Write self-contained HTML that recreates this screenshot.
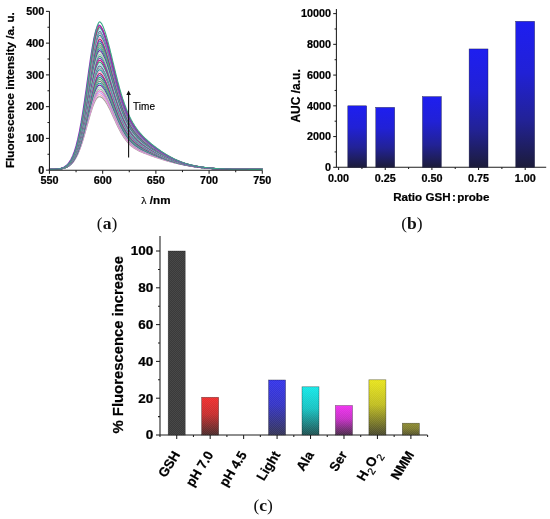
<!DOCTYPE html>
<html><head><meta charset="utf-8"><title>Figure</title>
<style>html,body{margin:0;padding:0;background:#fff;width:550px;height:519px;overflow:hidden}
body{position:relative;-webkit-font-smoothing:antialiased;font-family:"Liberation Sans", sans-serif}
.bt text, text.bt{stroke:#000;stroke-width:0.22px}</style></head>
<body>
<svg width="550" height="519" viewBox="0 0 550 519" style="position:absolute;left:0;top:0;will-change:transform;filter:blur(0.3px)">
<defs>
<pattern id="hatch" width="2" height="2" patternUnits="userSpaceOnUse"><rect x="0" y="0" width="1" height="1" fill="rgba(255,255,255,0.07)"/><rect x="1" y="1" width="1" height="1" fill="rgba(255,255,255,0.07)"/></pattern>
<linearGradient id="gb" x1="0" y1="0" x2="0" y2="1"><stop offset="0" stop-color="#1e1ef0"/><stop offset="0.35" stop-color="#2121d6"/><stop offset="0.68" stop-color="#222296"/><stop offset="1" stop-color="#1c1c3a"/></linearGradient>
<linearGradient id="gr" x1="0" y1="0" x2="0" y2="1"><stop offset="0" stop-color="#f02c2c"/><stop offset="0.45" stop-color="#c62c2c"/><stop offset="1" stop-color="#4a2a2a"/></linearGradient>
<linearGradient id="gbl" x1="0" y1="0" x2="0" y2="1"><stop offset="0" stop-color="#3434ea"/><stop offset="0.45" stop-color="#3434c5"/><stop offset="1" stop-color="#343456"/></linearGradient>
<linearGradient id="gc" x1="0" y1="0" x2="0" y2="1"><stop offset="0" stop-color="#14e8e8"/><stop offset="0.45" stop-color="#16c2c2"/><stop offset="1" stop-color="#1e5050"/></linearGradient>
<linearGradient id="gm" x1="0" y1="0" x2="0" y2="1"><stop offset="0" stop-color="#f030f0"/><stop offset="0.45" stop-color="#c62ec6"/><stop offset="1" stop-color="#4a2a4a"/></linearGradient>
<linearGradient id="gy" x1="0" y1="0" x2="0" y2="1"><stop offset="0" stop-color="#e8e41c"/><stop offset="0.45" stop-color="#c0bd20"/><stop offset="1" stop-color="#48482c"/></linearGradient>
<linearGradient id="go" x1="0" y1="0" x2="0" y2="1"><stop offset="0" stop-color="#8c8a30"/><stop offset="0.45" stop-color="#7e7c2f"/><stop offset="1" stop-color="#54522c"/></linearGradient>
</defs>
<rect width="550" height="519" fill="#fff"/>
<g fill="none" stroke-width="1.1" stroke-linejoin="round">
<path d="M49.7,169.4 50.6,169.4 51.4,169.4 52.3,169.3 53.1,169.3 54.0,169.3 54.8,169.3 55.7,169.3 56.5,169.2 57.4,169.2 58.2,169.1 59.1,169.1 59.9,169.0 60.8,168.9 61.6,168.7 62.5,168.6 63.3,168.4 64.2,168.2 65.0,167.9 65.9,167.6 66.7,167.3 67.6,166.9 68.4,166.4 69.3,165.8 70.1,165.2 71.0,164.4 71.8,163.6 72.7,162.6 73.5,161.6 74.4,160.4 75.2,159.0 76.1,157.6 76.9,155.9 77.8,154.2 78.6,152.2 79.5,150.1 80.3,147.9 81.2,145.5 82.0,143.0 82.9,140.3 83.7,137.6 84.6,134.7 85.4,131.7 86.3,128.7 87.1,125.7 88.0,122.6 88.8,119.6 89.7,116.6 90.5,113.7 91.4,111.0 92.2,108.4 93.1,105.9 93.9,103.8 94.8,101.8 95.6,100.1 96.5,98.8 97.3,97.7 98.2,97.0 99.0,96.7 99.9,96.7 100.7,96.9 101.6,97.4 102.4,98.0 103.3,98.9 104.1,99.8 105.0,101.0 105.8,102.2 106.7,103.6 107.5,105.1 108.4,106.7 109.2,108.3 110.1,110.1 110.9,111.8 111.8,113.7 112.6,115.5 113.5,117.4 114.3,119.2 115.2,121.1 116.0,122.9 116.9,124.7 117.7,126.5 118.6,128.2 119.4,129.8 120.3,131.4 121.1,132.9 122.0,134.4 122.8,135.8 123.7,137.1 124.5,138.4 125.4,139.5 126.2,140.7 127.1,141.7 127.9,142.7 128.8,143.6 129.6,144.5 130.5,145.3 131.3,146.0 132.2,146.7 133.0,147.4 133.9,148.0 134.7,148.6 135.6,149.1 136.4,149.6 137.3,150.1 138.1,150.5 139.0,151.0 139.8,151.4 140.7,151.8 141.5,152.1 142.4,152.5 143.2,152.8 144.1,153.2 144.9,153.5 145.8,153.8 146.6,154.1 147.5,154.4 148.3,154.8 149.2,155.1 150.0,155.4 150.9,155.7 151.7,156.0 152.6,156.3 153.4,156.6 154.3,156.9 155.1,157.1 156.0,157.4 156.9,157.7 157.7,158.0 158.6,158.3 159.4,158.6 160.3,158.8 161.1,159.1 162.0,159.4 162.8,159.6 163.7,159.9 164.5,160.2 165.4,160.4 166.2,160.7 167.1,160.9 167.9,161.1 168.8,161.4 169.6,161.6 170.5,161.8 171.3,162.0 172.2,162.3 173.0,162.5 173.9,162.7 174.7,162.9 175.6,163.1 176.4,163.3 177.3,163.5 178.1,163.7 179.0,163.9 179.8,164.1 180.7,164.2 181.5,164.4 182.4,164.6 183.2,164.8 184.1,164.9 184.9,165.1 185.8,165.3 186.6,165.4 187.5,165.6 188.3,165.7 189.2,165.9 190.0,166.0 190.9,166.2 191.7,166.3 192.6,166.4 193.4,166.6 194.3,166.7 195.1,166.8 196.0,167.0 196.8,167.1 197.7,167.2 198.5,167.3 199.4,167.4 200.2,167.5 201.1,167.6 201.9,167.7 202.8,167.8 203.6,167.9 204.5,168.0 205.3,168.1 206.2,168.2 207.0,168.2 207.9,168.3 208.7,168.4 209.6,168.5 210.4,168.5 211.3,168.6 212.1,168.6 213.0,168.7 213.8,168.7 214.7,168.8 215.5,168.8 216.4,168.9 217.2,168.9 218.1,169.0 218.9,169.0 219.8,169.0 220.6,169.1 221.5,169.1 222.3,169.1 223.2,169.1 224.0,169.2 224.9,169.2 225.7,169.2 226.6,169.2 227.4,169.2 228.3,169.2 229.1,169.3 230.0,169.3 230.8,169.3 231.7,169.3 232.5,169.3 233.4,169.3 234.2,169.3 235.1,169.3 235.9,169.3 236.8,169.3 237.6,169.3 238.5,169.4 239.3,169.4 240.2,169.4 241.0,169.4 241.9,169.4 242.7,169.4 243.6,169.4 244.4,169.4 245.3,169.4 246.1,169.4 247.0,169.4 247.8,169.4 248.7,169.4 249.5,169.4 250.4,169.4 251.2,169.4 252.1,169.4 252.9,169.4 253.8,169.4 254.6,169.4 255.5,169.4 256.3,169.4 257.2,169.4 258.0,169.4 258.9,169.4 259.7,169.4 260.6,169.4 261.4,169.4 262.3,169.4" stroke="#a0a0a0"/>
<path d="M49.7,169.4 50.6,169.4 51.4,169.4 52.3,169.3 53.1,169.3 54.0,169.3 54.8,169.3 55.7,169.3 56.5,169.2 57.4,169.2 58.2,169.1 59.1,169.0 59.9,169.0 60.8,168.9 61.6,168.7 62.5,168.6 63.3,168.4 64.2,168.2 65.0,167.9 65.9,167.6 66.7,167.2 67.6,166.8 68.4,166.3 69.3,165.7 70.1,165.1 71.0,164.3 71.8,163.5 72.7,162.5 73.5,161.4 74.4,160.2 75.2,158.8 76.1,157.3 76.9,155.7 77.8,153.9 78.6,151.9 79.5,149.8 80.3,147.5 81.2,145.0 82.0,142.4 82.9,139.7 83.7,136.9 84.6,133.9 85.4,130.9 86.3,127.8 87.1,124.7 88.0,121.6 88.8,118.4 89.7,115.4 90.5,112.4 91.4,109.6 92.2,106.9 93.1,104.4 93.9,102.1 94.8,100.1 95.6,98.4 96.5,97.0 97.3,95.9 98.2,95.1 99.0,94.7 99.9,94.7 100.7,95.0 101.6,95.5 102.4,96.2 103.3,97.0 104.1,98.0 105.0,99.2 105.8,100.5 106.7,101.9 107.5,103.4 108.4,105.0 109.2,106.7 110.1,108.5 110.9,110.4 111.8,112.2 112.6,114.1 113.5,116.0 114.3,117.9 115.2,119.8 116.0,121.7 116.9,123.5 117.7,125.3 118.6,127.0 119.4,128.7 120.3,130.4 121.1,131.9 122.0,133.4 122.8,134.8 123.7,136.2 124.5,137.5 125.4,138.7 126.2,139.8 127.1,140.9 127.9,141.9 128.8,142.9 129.6,143.8 130.5,144.6 131.3,145.4 132.2,146.1 133.0,146.8 133.9,147.4 134.7,148.0 135.6,148.5 136.4,149.1 137.3,149.6 138.1,150.0 139.0,150.5 139.8,150.9 140.7,151.3 141.5,151.7 142.4,152.0 143.2,152.4 144.1,152.8 144.9,153.1 145.8,153.4 146.6,153.8 147.5,154.1 148.3,154.4 149.2,154.7 150.0,155.0 150.9,155.4 151.7,155.7 152.6,156.0 153.4,156.3 154.3,156.6 155.1,156.9 156.0,157.2 156.9,157.5 157.7,157.8 158.6,158.1 159.4,158.3 160.3,158.6 161.1,158.9 162.0,159.2 162.8,159.5 163.7,159.7 164.5,160.0 165.4,160.2 166.2,160.5 167.1,160.7 167.9,161.0 168.8,161.2 169.6,161.5 170.5,161.7 171.3,161.9 172.2,162.1 173.0,162.4 173.9,162.6 174.7,162.8 175.6,163.0 176.4,163.2 177.3,163.4 178.1,163.6 179.0,163.8 179.8,164.0 180.7,164.2 181.5,164.3 182.4,164.5 183.2,164.7 184.1,164.9 184.9,165.0 185.8,165.2 186.6,165.4 187.5,165.5 188.3,165.7 189.2,165.8 190.0,166.0 190.9,166.1 191.7,166.3 192.6,166.4 193.4,166.6 194.3,166.7 195.1,166.8 196.0,166.9 196.8,167.1 197.7,167.2 198.5,167.3 199.4,167.4 200.2,167.5 201.1,167.6 201.9,167.7 202.8,167.8 203.6,167.9 204.5,168.0 205.3,168.1 206.2,168.2 207.0,168.2 207.9,168.3 208.7,168.4 209.6,168.4 210.4,168.5 211.3,168.6 212.1,168.6 213.0,168.7 213.8,168.7 214.7,168.8 215.5,168.8 216.4,168.9 217.2,168.9 218.1,168.9 218.9,169.0 219.8,169.0 220.6,169.0 221.5,169.1 222.3,169.1 223.2,169.1 224.0,169.1 224.9,169.2 225.7,169.2 226.6,169.2 227.4,169.2 228.3,169.2 229.1,169.3 230.0,169.3 230.8,169.3 231.7,169.3 232.5,169.3 233.4,169.3 234.2,169.3 235.1,169.3 235.9,169.3 236.8,169.3 237.6,169.3 238.5,169.4 239.3,169.4 240.2,169.4 241.0,169.4 241.9,169.4 242.7,169.4 243.6,169.4 244.4,169.4 245.3,169.4 246.1,169.4 247.0,169.4 247.8,169.4 248.7,169.4 249.5,169.4 250.4,169.4 251.2,169.4 252.1,169.4 252.9,169.4 253.8,169.4 254.6,169.4 255.5,169.4 256.3,169.4 257.2,169.4 258.0,169.4 258.9,169.4 259.7,169.4 260.6,169.4 261.4,169.4 262.3,169.4" stroke="#f4a0c4"/>
<path d="M49.7,169.4 50.6,169.4 51.4,169.4 52.3,169.3 53.1,169.3 54.0,169.3 54.8,169.3 55.7,169.3 56.5,169.2 57.4,169.2 58.2,169.1 59.1,169.0 59.9,169.0 60.8,168.8 61.6,168.7 62.5,168.6 63.3,168.4 64.2,168.1 65.0,167.9 65.9,167.6 66.7,167.2 67.6,166.8 68.4,166.3 69.3,165.7 70.1,165.0 71.0,164.2 71.8,163.4 72.7,162.4 73.5,161.3 74.4,160.0 75.2,158.6 76.1,157.1 76.9,155.4 77.8,153.5 78.6,151.5 79.5,149.4 80.3,147.0 81.2,144.5 82.0,141.9 82.9,139.1 83.7,136.2 84.6,133.2 85.4,130.1 86.3,126.9 87.1,123.7 88.0,120.5 88.8,117.3 89.7,114.1 90.5,111.1 91.4,108.2 92.2,105.4 93.1,102.8 93.9,100.5 94.8,98.4 95.6,96.6 96.5,95.2 97.3,94.0 98.2,93.2 99.0,92.8 99.9,92.8 100.7,93.1 101.6,93.6 102.4,94.3 103.3,95.2 104.1,96.2 105.0,97.4 105.8,98.7 106.7,100.2 107.5,101.8 108.4,103.4 109.2,105.2 110.1,107.0 110.9,108.9 111.8,110.8 112.6,112.7 113.5,114.7 114.3,116.6 115.2,118.5 116.0,120.4 116.9,122.3 117.7,124.1 118.6,125.9 119.4,127.6 120.3,129.3 121.1,130.9 122.0,132.4 122.8,133.9 123.7,135.3 124.5,136.6 125.4,137.8 126.2,139.0 127.1,140.1 127.9,141.2 128.8,142.1 129.6,143.0 130.5,143.9 131.3,144.7 132.2,145.4 133.0,146.1 133.9,146.8 134.7,147.4 135.6,148.0 136.4,148.5 137.3,149.0 138.1,149.5 139.0,150.0 139.8,150.4 140.7,150.8 141.5,151.2 142.4,151.6 143.2,152.0 144.1,152.4 144.9,152.7 145.8,153.1 146.6,153.4 147.5,153.7 148.3,154.1 149.2,154.4 150.0,154.7 150.9,155.0 151.7,155.4 152.6,155.7 153.4,156.0 154.3,156.3 155.1,156.6 156.0,156.9 156.9,157.2 157.7,157.5 158.6,157.8 159.4,158.1 160.3,158.4 161.1,158.7 162.0,159.0 162.8,159.3 163.7,159.5 164.5,159.8 165.4,160.1 166.2,160.3 167.1,160.6 167.9,160.8 168.8,161.1 169.6,161.3 170.5,161.6 171.3,161.8 172.2,162.0 173.0,162.3 173.9,162.5 174.7,162.7 175.6,162.9 176.4,163.1 177.3,163.3 178.1,163.5 179.0,163.7 179.8,163.9 180.7,164.1 181.5,164.3 182.4,164.5 183.2,164.6 184.1,164.8 184.9,165.0 185.8,165.2 186.6,165.3 187.5,165.5 188.3,165.7 189.2,165.8 190.0,166.0 190.9,166.1 191.7,166.2 192.6,166.4 193.4,166.5 194.3,166.7 195.1,166.8 196.0,166.9 196.8,167.0 197.7,167.2 198.5,167.3 199.4,167.4 200.2,167.5 201.1,167.6 201.9,167.7 202.8,167.8 203.6,167.9 204.5,168.0 205.3,168.1 206.2,168.1 207.0,168.2 207.9,168.3 208.7,168.4 209.6,168.4 210.4,168.5 211.3,168.6 212.1,168.6 213.0,168.7 213.8,168.7 214.7,168.8 215.5,168.8 216.4,168.9 217.2,168.9 218.1,168.9 218.9,169.0 219.8,169.0 220.6,169.0 221.5,169.1 222.3,169.1 223.2,169.1 224.0,169.1 224.9,169.2 225.7,169.2 226.6,169.2 227.4,169.2 228.3,169.2 229.1,169.3 230.0,169.3 230.8,169.3 231.7,169.3 232.5,169.3 233.4,169.3 234.2,169.3 235.1,169.3 235.9,169.3 236.8,169.3 237.6,169.3 238.5,169.4 239.3,169.4 240.2,169.4 241.0,169.4 241.9,169.4 242.7,169.4 243.6,169.4 244.4,169.4 245.3,169.4 246.1,169.4 247.0,169.4 247.8,169.4 248.7,169.4 249.5,169.4 250.4,169.4 251.2,169.4 252.1,169.4 252.9,169.4 253.8,169.4 254.6,169.4 255.5,169.4 256.3,169.4 257.2,169.4 258.0,169.4 258.9,169.4 259.7,169.4 260.6,169.4 261.4,169.4 262.3,169.4" stroke="#c0a0f0"/>
<path d="M49.7,169.4 50.6,169.4 51.4,169.4 52.3,169.3 53.1,169.3 54.0,169.3 54.8,169.3 55.7,169.3 56.5,169.2 57.4,169.2 58.2,169.1 59.1,169.0 59.9,168.9 60.8,168.8 61.6,168.7 62.5,168.5 63.3,168.4 64.2,168.1 65.0,167.9 65.9,167.5 66.7,167.2 67.6,166.7 68.4,166.2 69.3,165.6 70.1,164.9 71.0,164.1 71.8,163.3 72.7,162.2 73.5,161.1 74.4,159.8 75.2,158.4 76.1,156.9 76.9,155.1 77.8,153.2 78.6,151.2 79.5,149.0 80.3,146.6 81.2,144.0 82.0,141.3 82.9,138.5 83.7,135.5 84.6,132.4 85.4,129.2 86.3,126.0 87.1,122.7 88.0,119.4 88.8,116.1 89.7,112.9 90.5,109.8 91.4,106.8 92.2,103.9 93.1,101.3 93.9,98.9 94.8,96.7 95.6,94.9 96.5,93.4 97.3,92.2 98.2,91.4 99.0,90.9 99.9,90.9 100.7,91.2 101.6,91.7 102.4,92.4 103.3,93.3 104.1,94.4 105.0,95.6 105.8,97.0 106.7,98.5 107.5,100.1 108.4,101.8 109.2,103.6 110.1,105.4 110.9,107.4 111.8,109.3 112.6,111.3 113.5,113.3 114.3,115.3 115.2,117.2 116.0,119.2 116.9,121.1 117.7,123.0 118.6,124.8 119.4,126.6 120.3,128.3 121.1,129.9 122.0,131.5 122.8,132.9 123.7,134.4 124.5,135.7 125.4,137.0 126.2,138.2 127.1,139.3 127.9,140.4 128.8,141.4 129.6,142.3 130.5,143.2 131.3,144.0 132.2,144.8 133.0,145.5 133.9,146.2 134.7,146.8 135.6,147.4 136.4,148.0 137.3,148.5 138.1,149.0 139.0,149.5 139.8,149.9 140.7,150.4 141.5,150.8 142.4,151.2 143.2,151.6 144.1,151.9 144.9,152.3 145.8,152.7 146.6,153.0 147.5,153.4 148.3,153.7 149.2,154.1 150.0,154.4 150.9,154.7 151.7,155.1 152.6,155.4 153.4,155.7 154.3,156.0 155.1,156.4 156.0,156.7 156.9,157.0 157.7,157.3 158.6,157.6 159.4,157.9 160.3,158.2 161.1,158.5 162.0,158.8 162.8,159.1 163.7,159.4 164.5,159.6 165.4,159.9 166.2,160.2 167.1,160.4 167.9,160.7 168.8,161.0 169.6,161.2 170.5,161.4 171.3,161.7 172.2,161.9 173.0,162.2 173.9,162.4 174.7,162.6 175.6,162.8 176.4,163.0 177.3,163.2 178.1,163.4 179.0,163.6 179.8,163.8 180.7,164.0 181.5,164.2 182.4,164.4 183.2,164.6 184.1,164.8 184.9,164.9 185.8,165.1 186.6,165.3 187.5,165.5 188.3,165.6 189.2,165.8 190.0,165.9 190.9,166.1 191.7,166.2 192.6,166.4 193.4,166.5 194.3,166.6 195.1,166.8 196.0,166.9 196.8,167.0 197.7,167.1 198.5,167.3 199.4,167.4 200.2,167.5 201.1,167.6 201.9,167.7 202.8,167.8 203.6,167.9 204.5,168.0 205.3,168.0 206.2,168.1 207.0,168.2 207.9,168.3 208.7,168.4 209.6,168.4 210.4,168.5 211.3,168.5 212.1,168.6 213.0,168.7 213.8,168.7 214.7,168.8 215.5,168.8 216.4,168.9 217.2,168.9 218.1,168.9 218.9,169.0 219.8,169.0 220.6,169.0 221.5,169.1 222.3,169.1 223.2,169.1 224.0,169.1 224.9,169.2 225.7,169.2 226.6,169.2 227.4,169.2 228.3,169.2 229.1,169.2 230.0,169.3 230.8,169.3 231.7,169.3 232.5,169.3 233.4,169.3 234.2,169.3 235.1,169.3 235.9,169.3 236.8,169.3 237.6,169.3 238.5,169.3 239.3,169.4 240.2,169.4 241.0,169.4 241.9,169.4 242.7,169.4 243.6,169.4 244.4,169.4 245.3,169.4 246.1,169.4 247.0,169.4 247.8,169.4 248.7,169.4 249.5,169.4 250.4,169.4 251.2,169.4 252.1,169.4 252.9,169.4 253.8,169.4 254.6,169.4 255.5,169.4 256.3,169.4 257.2,169.4 258.0,169.4 258.9,169.4 259.7,169.4 260.6,169.4 261.4,169.4 262.3,169.4" stroke="#e070c0"/>
<path d="M49.7,169.4 50.6,169.4 51.4,169.4 52.3,169.3 53.1,169.3 54.0,169.3 54.8,169.3 55.7,169.3 56.5,169.2 57.4,169.2 58.2,169.1 59.1,169.0 59.9,168.9 60.8,168.8 61.6,168.7 62.5,168.5 63.3,168.3 64.2,168.1 65.0,167.8 65.9,167.5 66.7,167.1 67.6,166.7 68.4,166.1 69.3,165.5 70.1,164.8 71.0,164.1 71.8,163.1 72.7,162.1 73.5,161.0 74.4,159.7 75.2,158.2 76.1,156.6 76.9,154.9 77.8,152.9 78.6,150.8 79.5,148.6 80.3,146.1 81.2,143.5 82.0,140.8 82.9,137.9 83.7,134.8 84.6,131.7 85.4,128.4 86.3,125.1 87.1,121.7 88.0,118.3 88.8,115.0 89.7,111.7 90.5,108.5 91.4,105.4 92.2,102.5 93.1,99.7 93.9,97.3 94.8,95.1 95.6,93.2 96.5,91.6 97.3,90.3 98.2,89.5 99.0,89.0 99.9,89.0 100.7,89.3 101.6,89.8 102.4,90.6 103.3,91.5 104.1,92.6 105.0,93.9 105.8,95.2 106.7,96.8 107.5,98.4 108.4,100.2 109.2,102.0 110.1,103.9 110.9,105.9 111.8,107.9 112.6,109.9 113.5,111.9 114.3,114.0 115.2,116.0 116.0,118.0 116.9,119.9 117.7,121.8 118.6,123.7 119.4,125.5 120.3,127.2 121.1,128.9 122.0,130.5 122.8,132.0 123.7,133.5 124.5,134.8 125.4,136.1 126.2,137.4 127.1,138.5 127.9,139.6 128.8,140.6 129.6,141.6 130.5,142.5 131.3,143.4 132.2,144.1 133.0,144.9 133.9,145.6 134.7,146.2 135.6,146.8 136.4,147.4 137.3,148.0 138.1,148.5 139.0,149.0 139.8,149.5 140.7,149.9 141.5,150.3 142.4,150.7 143.2,151.1 144.1,151.5 144.9,151.9 145.8,152.3 146.6,152.7 147.5,153.0 148.3,153.4 149.2,153.7 150.0,154.1 150.9,154.4 151.7,154.8 152.6,155.1 153.4,155.4 154.3,155.8 155.1,156.1 156.0,156.4 156.9,156.7 157.7,157.1 158.6,157.4 159.4,157.7 160.3,158.0 161.1,158.3 162.0,158.6 162.8,158.9 163.7,159.2 164.5,159.5 165.4,159.7 166.2,160.0 167.1,160.3 167.9,160.6 168.8,160.8 169.6,161.1 170.5,161.3 171.3,161.6 172.2,161.8 173.0,162.0 173.9,162.3 174.7,162.5 175.6,162.7 176.4,162.9 177.3,163.2 178.1,163.4 179.0,163.6 179.8,163.8 180.7,164.0 181.5,164.2 182.4,164.4 183.2,164.5 184.1,164.7 184.9,164.9 185.8,165.1 186.6,165.2 187.5,165.4 188.3,165.6 189.2,165.7 190.0,165.9 190.9,166.0 191.7,166.2 192.6,166.3 193.4,166.5 194.3,166.6 195.1,166.7 196.0,166.9 196.8,167.0 197.7,167.1 198.5,167.2 199.4,167.3 200.2,167.5 201.1,167.6 201.9,167.7 202.8,167.8 203.6,167.9 204.5,167.9 205.3,168.0 206.2,168.1 207.0,168.2 207.9,168.3 208.7,168.3 209.6,168.4 210.4,168.5 211.3,168.5 212.1,168.6 213.0,168.7 213.8,168.7 214.7,168.8 215.5,168.8 216.4,168.8 217.2,168.9 218.1,168.9 218.9,169.0 219.8,169.0 220.6,169.0 221.5,169.1 222.3,169.1 223.2,169.1 224.0,169.1 224.9,169.2 225.7,169.2 226.6,169.2 227.4,169.2 228.3,169.2 229.1,169.2 230.0,169.3 230.8,169.3 231.7,169.3 232.5,169.3 233.4,169.3 234.2,169.3 235.1,169.3 235.9,169.3 236.8,169.3 237.6,169.3 238.5,169.3 239.3,169.4 240.2,169.4 241.0,169.4 241.9,169.4 242.7,169.4 243.6,169.4 244.4,169.4 245.3,169.4 246.1,169.4 247.0,169.4 247.8,169.4 248.7,169.4 249.5,169.4 250.4,169.4 251.2,169.4 252.1,169.4 252.9,169.4 253.8,169.4 254.6,169.4 255.5,169.4 256.3,169.4 257.2,169.4 258.0,169.4 258.9,169.4 259.7,169.4 260.6,169.4 261.4,169.4 262.3,169.4" stroke="#a0b8b0"/>
<path d="M49.7,169.4 50.6,169.4 51.4,169.4 52.3,169.3 53.1,169.3 54.0,169.3 54.8,169.3 55.7,169.2 56.5,169.2 57.4,169.2 58.2,169.1 59.1,169.0 59.9,168.9 60.8,168.8 61.6,168.7 62.5,168.5 63.3,168.3 64.2,168.1 65.0,167.8 65.9,167.5 66.7,167.1 67.6,166.6 68.4,166.1 69.3,165.5 70.1,164.8 71.0,164.0 71.8,163.0 72.7,162.0 73.5,160.8 74.4,159.5 75.2,158.0 76.1,156.4 76.9,154.6 77.8,152.6 78.6,150.5 79.5,148.2 80.3,145.7 81.2,143.0 82.0,140.2 82.9,137.2 83.7,134.1 84.6,130.9 85.4,127.6 86.3,124.2 87.1,120.7 88.0,117.3 88.8,113.8 89.7,110.4 90.5,107.1 91.4,104.0 92.2,101.0 93.1,98.2 93.9,95.6 94.8,93.4 95.6,91.4 96.5,89.8 97.3,88.5 98.2,87.6 99.0,87.1 99.9,87.1 100.7,87.4 101.6,87.9 102.4,88.7 103.3,89.7 104.1,90.8 105.0,92.1 105.8,93.5 106.7,95.1 107.5,96.8 108.4,98.5 109.2,100.4 110.1,102.4 110.9,104.4 111.8,106.4 112.6,108.5 113.5,110.6 114.3,112.6 115.2,114.7 116.0,116.7 116.9,118.7 117.7,120.7 118.6,122.6 119.4,124.4 120.3,126.2 121.1,127.9 122.0,129.5 122.8,131.1 123.7,132.5 124.5,134.0 125.4,135.3 126.2,136.5 127.1,137.7 127.9,138.9 128.8,139.9 129.6,140.9 130.5,141.8 131.3,142.7 132.2,143.5 133.0,144.3 133.9,145.0 134.7,145.7 135.6,146.3 136.4,146.9 137.3,147.4 138.1,148.0 139.0,148.5 139.8,149.0 140.7,149.4 141.5,149.9 142.4,150.3 143.2,150.7 144.1,151.1 144.9,151.5 145.8,151.9 146.6,152.3 147.5,152.7 148.3,153.0 149.2,153.4 150.0,153.8 150.9,154.1 151.7,154.5 152.6,154.8 153.4,155.1 154.3,155.5 155.1,155.8 156.0,156.2 156.9,156.5 157.7,156.8 158.6,157.1 159.4,157.5 160.3,157.8 161.1,158.1 162.0,158.4 162.8,158.7 163.7,159.0 164.5,159.3 165.4,159.6 166.2,159.9 167.1,160.1 167.9,160.4 168.8,160.7 169.6,160.9 170.5,161.2 171.3,161.4 172.2,161.7 173.0,161.9 173.9,162.2 174.7,162.4 175.6,162.6 176.4,162.9 177.3,163.1 178.1,163.3 179.0,163.5 179.8,163.7 180.7,163.9 181.5,164.1 182.4,164.3 183.2,164.5 184.1,164.7 184.9,164.8 185.8,165.0 186.6,165.2 187.5,165.4 188.3,165.5 189.2,165.7 190.0,165.9 190.9,166.0 191.7,166.2 192.6,166.3 193.4,166.4 194.3,166.6 195.1,166.7 196.0,166.8 196.8,167.0 197.7,167.1 198.5,167.2 199.4,167.3 200.2,167.4 201.1,167.5 201.9,167.6 202.8,167.7 203.6,167.8 204.5,167.9 205.3,168.0 206.2,168.1 207.0,168.2 207.9,168.3 208.7,168.3 209.6,168.4 210.4,168.5 211.3,168.5 212.1,168.6 213.0,168.6 213.8,168.7 214.7,168.7 215.5,168.8 216.4,168.8 217.2,168.9 218.1,168.9 218.9,169.0 219.8,169.0 220.6,169.0 221.5,169.0 222.3,169.1 223.2,169.1 224.0,169.1 224.9,169.1 225.7,169.2 226.6,169.2 227.4,169.2 228.3,169.2 229.1,169.2 230.0,169.3 230.8,169.3 231.7,169.3 232.5,169.3 233.4,169.3 234.2,169.3 235.1,169.3 235.9,169.3 236.8,169.3 237.6,169.3 238.5,169.3 239.3,169.3 240.2,169.4 241.0,169.4 241.9,169.4 242.7,169.4 243.6,169.4 244.4,169.4 245.3,169.4 246.1,169.4 247.0,169.4 247.8,169.4 248.7,169.4 249.5,169.4 250.4,169.4 251.2,169.4 252.1,169.4 252.9,169.4 253.8,169.4 254.6,169.4 255.5,169.4 256.3,169.4 257.2,169.4 258.0,169.4 258.9,169.4 259.7,169.4 260.6,169.4 261.4,169.4 262.3,169.4" stroke="#b0e0c0"/>
<path d="M49.7,169.4 50.6,169.4 51.4,169.4 52.3,169.3 53.1,169.3 54.0,169.3 54.8,169.3 55.7,169.2 56.5,169.2 57.4,169.2 58.2,169.1 59.1,169.0 59.9,168.9 60.8,168.8 61.6,168.7 62.5,168.5 63.3,168.3 64.2,168.1 65.0,167.8 65.9,167.4 66.7,167.0 67.6,166.6 68.4,166.0 69.3,165.4 70.1,164.7 71.0,163.9 71.8,162.9 72.7,161.9 73.5,160.7 74.4,159.3 75.2,157.8 76.1,156.2 76.9,154.3 77.8,152.3 78.6,150.1 79.5,147.8 80.3,145.2 81.2,142.5 82.0,139.6 82.9,136.6 83.7,133.4 84.6,130.1 85.4,126.7 86.3,123.3 87.1,119.7 88.0,116.2 88.8,112.7 89.7,109.2 90.5,105.8 91.4,102.6 92.2,99.5 93.1,96.6 93.9,94.0 94.8,91.7 95.6,89.7 96.5,88.0 97.3,86.7 98.2,85.7 99.0,85.2 99.9,85.1 100.7,85.5 101.6,86.0 102.4,86.8 103.3,87.8 104.1,89.0 105.0,90.3 105.8,91.8 106.7,93.4 107.5,95.1 108.4,96.9 109.2,98.8 110.1,100.8 110.9,102.9 111.8,105.0 112.6,107.1 113.5,109.2 114.3,111.3 115.2,113.4 116.0,115.5 116.9,117.5 117.7,119.5 118.6,121.4 119.4,123.3 120.3,125.1 121.1,126.9 122.0,128.5 122.8,130.1 123.7,131.6 124.5,133.1 125.4,134.4 126.2,135.7 127.1,136.9 127.9,138.1 128.8,139.2 129.6,140.2 130.5,141.1 131.3,142.0 132.2,142.9 133.0,143.6 133.9,144.4 134.7,145.1 135.6,145.7 136.4,146.3 137.3,146.9 138.1,147.5 139.0,148.0 139.8,148.5 140.7,149.0 141.5,149.4 142.4,149.9 143.2,150.3 144.1,150.7 144.9,151.1 145.8,151.5 146.6,151.9 147.5,152.3 148.3,152.7 149.2,153.1 150.0,153.4 150.9,153.8 151.7,154.2 152.6,154.5 153.4,154.9 154.3,155.2 155.1,155.6 156.0,155.9 156.9,156.2 157.7,156.6 158.6,156.9 159.4,157.2 160.3,157.6 161.1,157.9 162.0,158.2 162.8,158.5 163.7,158.8 164.5,159.1 165.4,159.4 166.2,159.7 167.1,160.0 167.9,160.3 168.8,160.5 169.6,160.8 170.5,161.1 171.3,161.3 172.2,161.6 173.0,161.8 173.9,162.1 174.7,162.3 175.6,162.5 176.4,162.8 177.3,163.0 178.1,163.2 179.0,163.4 179.8,163.6 180.7,163.8 181.5,164.0 182.4,164.2 183.2,164.4 184.1,164.6 184.9,164.8 185.8,165.0 186.6,165.2 187.5,165.3 188.3,165.5 189.2,165.7 190.0,165.8 190.9,166.0 191.7,166.1 192.6,166.3 193.4,166.4 194.3,166.6 195.1,166.7 196.0,166.8 196.8,167.0 197.7,167.1 198.5,167.2 199.4,167.3 200.2,167.4 201.1,167.5 201.9,167.6 202.8,167.7 203.6,167.8 204.5,167.9 205.3,168.0 206.2,168.1 207.0,168.2 207.9,168.2 208.7,168.3 209.6,168.4 210.4,168.5 211.3,168.5 212.1,168.6 213.0,168.6 213.8,168.7 214.7,168.7 215.5,168.8 216.4,168.8 217.2,168.9 218.1,168.9 218.9,168.9 219.8,169.0 220.6,169.0 221.5,169.0 222.3,169.1 223.2,169.1 224.0,169.1 224.9,169.1 225.7,169.2 226.6,169.2 227.4,169.2 228.3,169.2 229.1,169.2 230.0,169.2 230.8,169.3 231.7,169.3 232.5,169.3 233.4,169.3 234.2,169.3 235.1,169.3 235.9,169.3 236.8,169.3 237.6,169.3 238.5,169.3 239.3,169.3 240.2,169.4 241.0,169.4 241.9,169.4 242.7,169.4 243.6,169.4 244.4,169.4 245.3,169.4 246.1,169.4 247.0,169.4 247.8,169.4 248.7,169.4 249.5,169.4 250.4,169.4 251.2,169.4 252.1,169.4 252.9,169.4 253.8,169.4 254.6,169.4 255.5,169.4 256.3,169.4 257.2,169.4 258.0,169.4 258.9,169.4 259.7,169.4 260.6,169.4 261.4,169.4 262.3,169.4" stroke="#7020a0"/>
<path d="M49.7,169.4 50.6,169.4 51.4,169.4 52.3,169.3 53.1,169.3 54.0,169.3 54.8,169.3 55.7,169.2 56.5,169.2 57.4,169.2 58.2,169.1 59.1,169.0 59.9,168.9 60.8,168.8 61.6,168.7 62.5,168.5 63.3,168.3 64.2,168.0 65.0,167.7 65.9,167.4 66.7,167.0 67.6,166.5 68.4,166.0 69.3,165.3 70.1,164.6 71.0,163.8 71.8,162.8 72.7,161.7 73.5,160.5 74.4,159.1 75.2,157.6 76.1,155.9 76.9,154.1 77.8,152.0 78.6,149.8 79.5,147.4 80.3,144.8 81.2,142.0 82.0,139.1 82.9,136.0 83.7,132.8 84.6,129.4 85.4,125.9 86.3,122.4 87.1,118.8 88.0,115.1 88.8,111.5 89.7,108.0 90.5,104.5 91.4,101.2 92.2,98.0 93.1,95.1 93.9,92.4 94.8,90.0 95.6,87.9 96.5,86.2 97.3,84.8 98.2,83.8 99.0,83.3 99.9,83.2 100.7,83.6 101.6,84.1 102.4,85.0 103.3,86.0 104.1,87.2 105.0,88.5 105.8,90.0 106.7,91.7 107.5,93.4 108.4,95.3 109.2,97.2 110.1,99.3 110.9,101.4 111.8,103.5 112.6,105.7 113.5,107.8 114.3,110.0 115.2,112.1 116.0,114.2 116.9,116.3 117.7,118.3 118.6,120.3 119.4,122.2 120.3,124.1 121.1,125.8 122.0,127.5 122.8,129.2 123.7,130.7 124.5,132.2 125.4,133.6 126.2,134.9 127.1,136.1 127.9,137.3 128.8,138.4 129.6,139.5 130.5,140.4 131.3,141.3 132.2,142.2 133.0,143.0 133.9,143.8 134.7,144.5 135.6,145.2 136.4,145.8 137.3,146.4 138.1,147.0 139.0,147.5 139.8,148.0 140.7,148.5 141.5,149.0 142.4,149.4 143.2,149.9 144.1,150.3 144.9,150.7 145.8,151.2 146.6,151.6 147.5,152.0 148.3,152.3 149.2,152.7 150.0,153.1 150.9,153.5 151.7,153.8 152.6,154.2 153.4,154.6 154.3,154.9 155.1,155.3 156.0,155.6 156.9,156.0 157.7,156.3 158.6,156.7 159.4,157.0 160.3,157.3 161.1,157.7 162.0,158.0 162.8,158.3 163.7,158.6 164.5,158.9 165.4,159.2 166.2,159.5 167.1,159.8 167.9,160.1 168.8,160.4 169.6,160.7 170.5,160.9 171.3,161.2 172.2,161.5 173.0,161.7 173.9,162.0 174.7,162.2 175.6,162.4 176.4,162.7 177.3,162.9 178.1,163.1 179.0,163.3 179.8,163.6 180.7,163.8 181.5,164.0 182.4,164.2 183.2,164.4 184.1,164.6 184.9,164.8 185.8,164.9 186.6,165.1 187.5,165.3 188.3,165.5 189.2,165.6 190.0,165.8 190.9,165.9 191.7,166.1 192.6,166.2 193.4,166.4 194.3,166.5 195.1,166.7 196.0,166.8 196.8,166.9 197.7,167.1 198.5,167.2 199.4,167.3 200.2,167.4 201.1,167.5 201.9,167.6 202.8,167.7 203.6,167.8 204.5,167.9 205.3,168.0 206.2,168.1 207.0,168.2 207.9,168.2 208.7,168.3 209.6,168.4 210.4,168.4 211.3,168.5 212.1,168.6 213.0,168.6 213.8,168.7 214.7,168.7 215.5,168.8 216.4,168.8 217.2,168.9 218.1,168.9 218.9,168.9 219.8,169.0 220.6,169.0 221.5,169.0 222.3,169.1 223.2,169.1 224.0,169.1 224.9,169.1 225.7,169.2 226.6,169.2 227.4,169.2 228.3,169.2 229.1,169.2 230.0,169.2 230.8,169.3 231.7,169.3 232.5,169.3 233.4,169.3 234.2,169.3 235.1,169.3 235.9,169.3 236.8,169.3 237.6,169.3 238.5,169.3 239.3,169.3 240.2,169.4 241.0,169.4 241.9,169.4 242.7,169.4 243.6,169.4 244.4,169.4 245.3,169.4 246.1,169.4 247.0,169.4 247.8,169.4 248.7,169.4 249.5,169.4 250.4,169.4 251.2,169.4 252.1,169.4 252.9,169.4 253.8,169.4 254.6,169.4 255.5,169.4 256.3,169.4 257.2,169.4 258.0,169.4 258.9,169.4 259.7,169.4 260.6,169.4 261.4,169.4 262.3,169.4" stroke="#20a0a0"/>
<path d="M49.7,169.4 50.6,169.4 51.4,169.4 52.3,169.3 53.1,169.3 54.0,169.3 54.8,169.3 55.7,169.2 56.5,169.2 57.4,169.1 58.2,169.1 59.1,169.0 59.9,168.9 60.8,168.8 61.6,168.6 62.5,168.5 63.3,168.3 64.2,168.0 65.0,167.7 65.9,167.4 66.7,167.0 67.6,166.5 68.4,165.9 69.3,165.3 70.1,164.5 71.0,163.7 71.8,162.7 72.7,161.6 73.5,160.4 74.4,159.0 75.2,157.4 76.1,155.7 76.9,153.8 77.8,151.7 78.6,149.4 79.5,147.0 80.3,144.3 81.2,141.5 82.0,138.5 82.9,135.4 83.7,132.1 84.6,128.6 85.4,125.1 86.3,121.5 87.1,117.8 88.0,114.1 88.8,110.4 89.7,106.7 90.5,103.2 91.4,99.8 92.2,96.6 93.1,93.5 93.9,90.8 94.8,88.3 95.6,86.2 96.5,84.4 97.3,83.0 98.2,82.0 99.0,81.4 99.9,81.3 100.7,81.6 101.6,82.3 102.4,83.1 103.3,84.1 104.1,85.4 105.0,86.7 105.8,88.3 106.7,90.0 107.5,91.8 108.4,93.7 109.2,95.7 110.1,97.7 110.9,99.9 111.8,102.0 112.6,104.2 113.5,106.5 114.3,108.7 115.2,110.8 116.0,113.0 116.9,115.1 117.7,117.2 118.6,119.2 119.4,121.1 120.3,123.0 121.1,124.8 122.0,126.6 122.8,128.2 123.7,129.8 124.5,131.3 125.4,132.7 126.2,134.1 127.1,135.3 127.9,136.5 128.8,137.7 129.6,138.7 130.5,139.7 131.3,140.7 132.2,141.6 133.0,142.4 133.9,143.2 134.7,143.9 135.6,144.6 136.4,145.2 137.3,145.9 138.1,146.4 139.0,147.0 139.8,147.5 140.7,148.0 141.5,148.5 142.4,149.0 143.2,149.5 144.1,149.9 144.9,150.3 145.8,150.8 146.6,151.2 147.5,151.6 148.3,152.0 149.2,152.4 150.0,152.8 150.9,153.2 151.7,153.5 152.6,153.9 153.4,154.3 154.3,154.7 155.1,155.0 156.0,155.4 156.9,155.7 157.7,156.1 158.6,156.5 159.4,156.8 160.3,157.1 161.1,157.5 162.0,157.8 162.8,158.1 163.7,158.4 164.5,158.8 165.4,159.1 166.2,159.4 167.1,159.7 167.9,160.0 168.8,160.3 169.6,160.5 170.5,160.8 171.3,161.1 172.2,161.3 173.0,161.6 173.9,161.9 174.7,162.1 175.6,162.4 176.4,162.6 177.3,162.8 178.1,163.1 179.0,163.3 179.8,163.5 180.7,163.7 181.5,163.9 182.4,164.1 183.2,164.3 184.1,164.5 184.9,164.7 185.8,164.9 186.6,165.1 187.5,165.2 188.3,165.4 189.2,165.6 190.0,165.8 190.9,165.9 191.7,166.1 192.6,166.2 193.4,166.4 194.3,166.5 195.1,166.6 196.0,166.8 196.8,166.9 197.7,167.0 198.5,167.2 199.4,167.3 200.2,167.4 201.1,167.5 201.9,167.6 202.8,167.7 203.6,167.8 204.5,167.9 205.3,168.0 206.2,168.1 207.0,168.1 207.9,168.2 208.7,168.3 209.6,168.4 210.4,168.4 211.3,168.5 212.1,168.6 213.0,168.6 213.8,168.7 214.7,168.7 215.5,168.8 216.4,168.8 217.2,168.9 218.1,168.9 218.9,168.9 219.8,169.0 220.6,169.0 221.5,169.0 222.3,169.1 223.2,169.1 224.0,169.1 224.9,169.1 225.7,169.2 226.6,169.2 227.4,169.2 228.3,169.2 229.1,169.2 230.0,169.2 230.8,169.3 231.7,169.3 232.5,169.3 233.4,169.3 234.2,169.3 235.1,169.3 235.9,169.3 236.8,169.3 237.6,169.3 238.5,169.3 239.3,169.3 240.2,169.3 241.0,169.4 241.9,169.4 242.7,169.4 243.6,169.4 244.4,169.4 245.3,169.4 246.1,169.4 247.0,169.4 247.8,169.4 248.7,169.4 249.5,169.4 250.4,169.4 251.2,169.4 252.1,169.4 252.9,169.4 253.8,169.4 254.6,169.4 255.5,169.4 256.3,169.4 257.2,169.4 258.0,169.4 258.9,169.4 259.7,169.4 260.6,169.4 261.4,169.4 262.3,169.4" stroke="#808080"/>
<path d="M49.7,169.4 50.6,169.4 51.4,169.4 52.3,169.3 53.1,169.3 54.0,169.3 54.8,169.3 55.7,169.2 56.5,169.2 57.4,169.1 58.2,169.1 59.1,169.0 59.9,168.9 60.8,168.8 61.6,168.6 62.5,168.5 63.3,168.2 64.2,168.0 65.0,167.7 65.9,167.3 66.7,166.9 67.6,166.4 68.4,165.9 69.3,165.2 70.1,164.5 71.0,163.6 71.8,162.6 72.7,161.5 73.5,160.2 74.4,158.8 75.2,157.2 76.1,155.5 76.9,153.5 77.8,151.4 78.6,149.1 79.5,146.6 80.3,143.9 81.2,141.0 82.0,138.0 82.9,134.8 83.7,131.4 84.6,127.9 85.4,124.2 86.3,120.5 87.1,116.8 88.0,113.0 88.8,109.2 89.7,105.5 90.5,101.9 91.4,98.4 92.2,95.1 93.1,92.0 93.9,89.2 94.8,86.6 95.6,84.4 96.5,82.6 97.3,81.1 98.2,80.1 99.0,79.5 99.9,79.4 100.7,79.7 101.6,80.4 102.4,81.2 103.3,82.3 104.1,83.5 105.0,85.0 105.8,86.5 106.7,88.2 107.5,90.1 108.4,92.0 109.2,94.1 110.1,96.2 110.9,98.4 111.8,100.6 112.6,102.8 113.5,105.1 114.3,107.3 115.2,109.6 116.0,111.8 116.9,113.9 117.7,116.0 118.6,118.1 119.4,120.1 120.3,122.0 121.1,123.8 122.0,125.6 122.8,127.3 123.7,128.9 124.5,130.4 125.4,131.9 126.2,133.3 127.1,134.6 127.9,135.8 128.8,136.9 129.6,138.0 130.5,139.0 131.3,140.0 132.2,140.9 133.0,141.8 133.9,142.6 134.7,143.3 135.6,144.0 136.4,144.7 137.3,145.3 138.1,145.9 139.0,146.5 139.8,147.1 140.7,147.6 141.5,148.1 142.4,148.6 143.2,149.0 144.1,149.5 144.9,150.0 145.8,150.4 146.6,150.8 147.5,151.2 148.3,151.7 149.2,152.1 150.0,152.5 150.9,152.9 151.7,153.2 152.6,153.6 153.4,154.0 154.3,154.4 155.1,154.8 156.0,155.1 156.9,155.5 157.7,155.9 158.6,156.2 159.4,156.6 160.3,156.9 161.1,157.3 162.0,157.6 162.8,157.9 163.7,158.3 164.5,158.6 165.4,158.9 166.2,159.2 167.1,159.5 167.9,159.8 168.8,160.1 169.6,160.4 170.5,160.7 171.3,161.0 172.2,161.2 173.0,161.5 173.9,161.8 174.7,162.0 175.6,162.3 176.4,162.5 177.3,162.7 178.1,163.0 179.0,163.2 179.8,163.4 180.7,163.6 181.5,163.9 182.4,164.1 183.2,164.3 184.1,164.5 184.9,164.7 185.8,164.8 186.6,165.0 187.5,165.2 188.3,165.4 189.2,165.6 190.0,165.7 190.9,165.9 191.7,166.0 192.6,166.2 193.4,166.3 194.3,166.5 195.1,166.6 196.0,166.8 196.8,166.9 197.7,167.0 198.5,167.1 199.4,167.3 200.2,167.4 201.1,167.5 201.9,167.6 202.8,167.7 203.6,167.8 204.5,167.9 205.3,168.0 206.2,168.0 207.0,168.1 207.9,168.2 208.7,168.3 209.6,168.4 210.4,168.4 211.3,168.5 212.1,168.5 213.0,168.6 213.8,168.7 214.7,168.7 215.5,168.8 216.4,168.8 217.2,168.8 218.1,168.9 218.9,168.9 219.8,169.0 220.6,169.0 221.5,169.0 222.3,169.1 223.2,169.1 224.0,169.1 224.9,169.1 225.7,169.1 226.6,169.2 227.4,169.2 228.3,169.2 229.1,169.2 230.0,169.2 230.8,169.3 231.7,169.3 232.5,169.3 233.4,169.3 234.2,169.3 235.1,169.3 235.9,169.3 236.8,169.3 237.6,169.3 238.5,169.3 239.3,169.3 240.2,169.3 241.0,169.4 241.9,169.4 242.7,169.4 243.6,169.4 244.4,169.4 245.3,169.4 246.1,169.4 247.0,169.4 247.8,169.4 248.7,169.4 249.5,169.4 250.4,169.4 251.2,169.4 252.1,169.4 252.9,169.4 253.8,169.4 254.6,169.4 255.5,169.4 256.3,169.4 257.2,169.4 258.0,169.4 258.9,169.4 259.7,169.4 260.6,169.4 261.4,169.4 262.3,169.4" stroke="#70a090"/>
<path d="M49.7,169.4 50.6,169.4 51.4,169.4 52.3,169.3 53.1,169.3 54.0,169.3 54.8,169.3 55.7,169.2 56.5,169.2 57.4,169.1 58.2,169.1 59.1,169.0 59.9,168.9 60.8,168.8 61.6,168.6 62.5,168.4 63.3,168.2 64.2,168.0 65.0,167.7 65.9,167.3 66.7,166.9 67.6,166.4 68.4,165.8 69.3,165.1 70.1,164.4 71.0,163.5 71.8,162.5 72.7,161.3 73.5,160.1 74.4,158.6 75.2,157.0 76.1,155.2 76.9,153.3 77.8,151.1 78.6,148.7 79.5,146.2 80.3,143.5 81.2,140.5 82.0,137.4 82.9,134.1 83.7,130.7 84.6,127.1 85.4,123.4 86.3,119.6 87.1,115.8 88.0,111.9 88.8,108.1 89.7,104.3 90.5,100.6 91.4,97.0 92.2,93.6 93.1,90.4 93.9,87.5 94.8,84.9 95.6,82.7 96.5,80.8 97.3,79.3 98.2,78.2 99.0,77.6 99.9,77.5 100.7,77.8 101.6,78.5 102.4,79.4 103.3,80.5 104.1,81.7 105.0,83.2 105.8,84.8 106.7,86.5 107.5,88.4 108.4,90.4 109.2,92.5 110.1,94.7 110.9,96.9 111.8,99.1 112.6,101.4 113.5,103.7 114.3,106.0 115.2,108.3 116.0,110.5 116.9,112.7 117.7,114.9 118.6,117.0 119.4,119.0 120.3,120.9 121.1,122.8 122.0,124.6 122.8,126.3 123.7,128.0 124.5,129.5 125.4,131.0 126.2,132.4 127.1,133.8 127.9,135.0 128.8,136.2 129.6,137.3 130.5,138.3 131.3,139.3 132.2,140.3 133.0,141.1 133.9,142.0 134.7,142.7 135.6,143.5 136.4,144.1 137.3,144.8 138.1,145.4 139.0,146.0 139.8,146.6 140.7,147.1 141.5,147.6 142.4,148.1 143.2,148.6 144.1,149.1 144.9,149.6 145.8,150.0 146.6,150.4 147.5,150.9 148.3,151.3 149.2,151.7 150.0,152.1 150.9,152.5 151.7,152.9 152.6,153.3 153.4,153.7 154.3,154.1 155.1,154.5 156.0,154.9 156.9,155.3 157.7,155.6 158.6,156.0 159.4,156.4 160.3,156.7 161.1,157.1 162.0,157.4 162.8,157.7 163.7,158.1 164.5,158.4 165.4,158.7 166.2,159.1 167.1,159.4 167.9,159.7 168.8,160.0 169.6,160.3 170.5,160.6 171.3,160.8 172.2,161.1 173.0,161.4 173.9,161.7 174.7,161.9 175.6,162.2 176.4,162.4 177.3,162.7 178.1,162.9 179.0,163.1 179.8,163.4 180.7,163.6 181.5,163.8 182.4,164.0 183.2,164.2 184.1,164.4 184.9,164.6 185.8,164.8 186.6,165.0 187.5,165.2 188.3,165.3 189.2,165.5 190.0,165.7 190.9,165.8 191.7,166.0 192.6,166.2 193.4,166.3 194.3,166.5 195.1,166.6 196.0,166.7 196.8,166.9 197.7,167.0 198.5,167.1 199.4,167.2 200.2,167.3 201.1,167.5 201.9,167.6 202.8,167.7 203.6,167.8 204.5,167.9 205.3,167.9 206.2,168.0 207.0,168.1 207.9,168.2 208.7,168.3 209.6,168.3 210.4,168.4 211.3,168.5 212.1,168.5 213.0,168.6 213.8,168.6 214.7,168.7 215.5,168.7 216.4,168.8 217.2,168.8 218.1,168.9 218.9,168.9 219.8,169.0 220.6,169.0 221.5,169.0 222.3,169.0 223.2,169.1 224.0,169.1 224.9,169.1 225.7,169.1 226.6,169.2 227.4,169.2 228.3,169.2 229.1,169.2 230.0,169.2 230.8,169.2 231.7,169.3 232.5,169.3 233.4,169.3 234.2,169.3 235.1,169.3 235.9,169.3 236.8,169.3 237.6,169.3 238.5,169.3 239.3,169.3 240.2,169.3 241.0,169.3 241.9,169.4 242.7,169.4 243.6,169.4 244.4,169.4 245.3,169.4 246.1,169.4 247.0,169.4 247.8,169.4 248.7,169.4 249.5,169.4 250.4,169.4 251.2,169.4 252.1,169.4 252.9,169.4 253.8,169.4 254.6,169.4 255.5,169.4 256.3,169.4 257.2,169.4 258.0,169.4 258.9,169.4 259.7,169.4 260.6,169.4 261.4,169.4 262.3,169.4" stroke="#40a060"/>
<path d="M49.7,169.4 50.6,169.4 51.4,169.4 52.3,169.3 53.1,169.3 54.0,169.3 54.8,169.3 55.7,169.2 56.5,169.2 57.4,169.1 58.2,169.1 59.1,169.0 59.9,168.9 60.8,168.8 61.6,168.6 62.5,168.4 63.3,168.2 64.2,167.9 65.0,167.6 65.9,167.3 66.7,166.8 67.6,166.3 68.4,165.8 69.3,165.1 70.1,164.3 71.0,163.4 71.8,162.4 72.7,161.2 73.5,159.9 74.4,158.4 75.2,156.8 76.1,155.0 76.9,153.0 77.8,150.8 78.6,148.4 79.5,145.8 80.3,143.0 81.2,140.0 82.0,136.9 82.9,133.5 83.7,130.0 84.6,126.4 85.4,122.6 86.3,118.7 87.1,114.8 88.0,110.9 88.8,106.9 89.7,103.0 90.5,99.3 91.4,95.6 92.2,92.1 93.1,88.9 93.9,85.9 94.8,83.2 95.6,80.9 96.5,79.0 97.3,77.4 98.2,76.3 99.0,75.7 99.9,75.5 100.7,75.9 101.6,76.6 102.4,77.5 103.3,78.6 104.1,79.9 105.0,81.4 105.8,83.0 106.7,84.8 107.5,86.8 108.4,88.8 109.2,90.9 110.1,93.1 110.9,95.4 111.8,97.7 112.6,100.0 113.5,102.4 114.3,104.7 115.2,107.0 116.0,109.3 116.9,111.5 117.7,113.7 118.6,115.8 119.4,117.9 120.3,119.9 121.1,121.8 122.0,123.6 122.8,125.4 123.7,127.1 124.5,128.7 125.4,130.2 126.2,131.6 127.1,133.0 127.9,134.2 128.8,135.4 129.6,136.6 130.5,137.7 131.3,138.7 132.2,139.6 133.0,140.5 133.9,141.3 134.7,142.1 135.6,142.9 136.4,143.6 137.3,144.3 138.1,144.9 139.0,145.5 139.8,146.1 140.7,146.7 141.5,147.2 142.4,147.7 143.2,148.2 144.1,148.7 144.9,149.2 145.8,149.6 146.6,150.1 147.5,150.5 148.3,151.0 149.2,151.4 150.0,151.8 150.9,152.2 151.7,152.6 152.6,153.0 153.4,153.4 154.3,153.8 155.1,154.2 156.0,154.6 156.9,155.0 157.7,155.4 158.6,155.8 159.4,156.1 160.3,156.5 161.1,156.9 162.0,157.2 162.8,157.6 163.7,157.9 164.5,158.2 165.4,158.6 166.2,158.9 167.1,159.2 167.9,159.5 168.8,159.8 169.6,160.1 170.5,160.4 171.3,160.7 172.2,161.0 173.0,161.3 173.9,161.5 174.7,161.8 175.6,162.1 176.4,162.3 177.3,162.6 178.1,162.8 179.0,163.1 179.8,163.3 180.7,163.5 181.5,163.7 182.4,163.9 183.2,164.2 184.1,164.4 184.9,164.6 185.8,164.7 186.6,164.9 187.5,165.1 188.3,165.3 189.2,165.5 190.0,165.6 190.9,165.8 191.7,166.0 192.6,166.1 193.4,166.3 194.3,166.4 195.1,166.6 196.0,166.7 196.8,166.8 197.7,167.0 198.5,167.1 199.4,167.2 200.2,167.3 201.1,167.4 201.9,167.5 202.8,167.7 203.6,167.7 204.5,167.8 205.3,167.9 206.2,168.0 207.0,168.1 207.9,168.2 208.7,168.3 209.6,168.3 210.4,168.4 211.3,168.5 212.1,168.5 213.0,168.6 213.8,168.6 214.7,168.7 215.5,168.7 216.4,168.8 217.2,168.8 218.1,168.9 218.9,168.9 219.8,168.9 220.6,169.0 221.5,169.0 222.3,169.0 223.2,169.1 224.0,169.1 224.9,169.1 225.7,169.1 226.6,169.2 227.4,169.2 228.3,169.2 229.1,169.2 230.0,169.2 230.8,169.2 231.7,169.3 232.5,169.3 233.4,169.3 234.2,169.3 235.1,169.3 235.9,169.3 236.8,169.3 237.6,169.3 238.5,169.3 239.3,169.3 240.2,169.3 241.0,169.3 241.9,169.4 242.7,169.4 243.6,169.4 244.4,169.4 245.3,169.4 246.1,169.4 247.0,169.4 247.8,169.4 248.7,169.4 249.5,169.4 250.4,169.4 251.2,169.4 252.1,169.4 252.9,169.4 253.8,169.4 254.6,169.4 255.5,169.4 256.3,169.4 257.2,169.4 258.0,169.4 258.9,169.4 259.7,169.4 260.6,169.4 261.4,169.4 262.3,169.4" stroke="#5050c8"/>
<path d="M49.7,169.4 50.6,169.4 51.4,169.3 52.3,169.3 53.1,169.3 54.0,169.3 54.8,169.3 55.7,169.2 56.5,169.2 57.4,169.1 58.2,169.1 59.1,169.0 59.9,168.9 60.8,168.7 61.6,168.6 62.5,168.4 63.3,168.2 64.2,167.9 65.0,167.6 65.9,167.2 66.7,166.8 67.6,166.3 68.4,165.7 69.3,165.0 70.1,164.2 71.0,163.3 71.8,162.3 72.7,161.1 73.5,159.8 74.4,158.3 75.2,156.6 76.1,154.8 76.9,152.7 77.8,150.5 78.6,148.0 79.5,145.4 80.3,142.6 81.2,139.5 82.0,136.3 82.9,132.9 83.7,129.3 84.6,125.6 85.4,121.8 86.3,117.8 87.1,113.8 88.0,109.8 88.8,105.8 89.7,101.8 90.5,97.9 91.4,94.2 92.2,90.7 93.1,87.3 93.9,84.3 94.8,81.6 95.6,79.2 96.5,77.2 97.3,75.6 98.2,74.4 99.0,73.7 99.9,73.6 100.7,74.0 101.6,74.7 102.4,75.6 103.3,76.8 104.1,78.1 105.0,79.6 105.8,81.3 106.7,83.1 107.5,85.1 108.4,87.2 109.2,89.3 110.1,91.6 110.9,93.9 111.8,96.2 112.6,98.6 113.5,101.0 114.3,103.4 115.2,105.7 116.0,108.0 116.9,110.3 117.7,112.5 118.6,114.7 119.4,116.8 120.3,118.8 121.1,120.8 122.0,122.7 122.8,124.4 123.7,126.2 124.5,127.8 125.4,129.3 126.2,130.8 127.1,132.2 127.9,133.5 128.8,134.7 129.6,135.9 130.5,137.0 131.3,138.0 132.2,139.0 133.0,139.9 133.9,140.7 134.7,141.6 135.6,142.3 136.4,143.0 137.3,143.7 138.1,144.4 139.0,145.0 139.8,145.6 140.7,146.2 141.5,146.7 142.4,147.3 143.2,147.8 144.1,148.3 144.9,148.8 145.8,149.2 146.6,149.7 147.5,150.2 148.3,150.6 149.2,151.1 150.0,151.5 150.9,151.9 151.7,152.3 152.6,152.8 153.4,153.2 154.3,153.6 155.1,154.0 156.0,154.4 156.9,154.8 157.7,155.1 158.6,155.5 159.4,155.9 160.3,156.3 161.1,156.7 162.0,157.0 162.8,157.4 163.7,157.7 164.5,158.1 165.4,158.4 166.2,158.7 167.1,159.1 167.9,159.4 168.8,159.7 169.6,160.0 170.5,160.3 171.3,160.6 172.2,160.9 173.0,161.2 173.9,161.4 174.7,161.7 175.6,162.0 176.4,162.2 177.3,162.5 178.1,162.7 179.0,163.0 179.8,163.2 180.7,163.4 181.5,163.7 182.4,163.9 183.2,164.1 184.1,164.3 184.9,164.5 185.8,164.7 186.6,164.9 187.5,165.1 188.3,165.3 189.2,165.4 190.0,165.6 190.9,165.8 191.7,165.9 192.6,166.1 193.4,166.3 194.3,166.4 195.1,166.5 196.0,166.7 196.8,166.8 197.7,166.9 198.5,167.1 199.4,167.2 200.2,167.3 201.1,167.4 201.9,167.5 202.8,167.6 203.6,167.7 204.5,167.8 205.3,167.9 206.2,168.0 207.0,168.1 207.9,168.2 208.7,168.2 209.6,168.3 210.4,168.4 211.3,168.5 212.1,168.5 213.0,168.6 213.8,168.6 214.7,168.7 215.5,168.7 216.4,168.8 217.2,168.8 218.1,168.9 218.9,168.9 219.8,168.9 220.6,169.0 221.5,169.0 222.3,169.0 223.2,169.1 224.0,169.1 224.9,169.1 225.7,169.1 226.6,169.2 227.4,169.2 228.3,169.2 229.1,169.2 230.0,169.2 230.8,169.2 231.7,169.3 232.5,169.3 233.4,169.3 234.2,169.3 235.1,169.3 235.9,169.3 236.8,169.3 237.6,169.3 238.5,169.3 239.3,169.3 240.2,169.3 241.0,169.3 241.9,169.4 242.7,169.4 243.6,169.4 244.4,169.4 245.3,169.4 246.1,169.4 247.0,169.4 247.8,169.4 248.7,169.4 249.5,169.4 250.4,169.4 251.2,169.4 252.1,169.4 252.9,169.4 253.8,169.4 254.6,169.4 255.5,169.4 256.3,169.4 257.2,169.4 258.0,169.4 258.9,169.4 259.7,169.4 260.6,169.4 261.4,169.4 262.3,169.4" stroke="#a02060"/>
<path d="M49.7,169.4 50.6,169.4 51.4,169.3 52.3,169.3 53.1,169.3 54.0,169.3 54.8,169.3 55.7,169.2 56.5,169.2 57.4,169.1 58.2,169.1 59.1,169.0 59.9,168.9 60.8,168.7 61.6,168.6 62.5,168.4 63.3,168.2 64.2,167.9 65.0,167.6 65.9,167.2 66.7,166.8 67.6,166.2 68.4,165.6 69.3,164.9 70.1,164.1 71.0,163.2 71.8,162.2 72.7,161.0 73.5,159.6 74.4,158.1 75.2,156.4 76.1,154.5 76.9,152.4 77.8,150.2 78.6,147.7 79.5,145.0 80.3,142.1 81.2,139.0 82.0,135.7 82.9,132.3 83.7,128.6 84.6,124.8 85.4,120.9 86.3,116.9 87.1,112.8 88.0,108.7 88.8,104.6 89.7,100.6 90.5,96.6 91.4,92.8 92.2,89.2 93.1,85.8 93.9,82.7 94.8,79.9 95.6,77.4 96.5,75.4 97.3,73.7 98.2,72.5 99.0,71.8 99.9,71.7 100.7,72.1 101.6,72.8 102.4,73.8 103.3,74.9 104.1,76.3 105.0,77.8 105.8,79.6 106.7,81.4 107.5,83.4 108.4,85.5 109.2,87.7 110.1,90.0 110.9,92.4 111.8,94.8 112.6,97.2 113.5,99.6 114.3,102.0 115.2,104.4 116.0,106.8 116.9,109.1 117.7,111.4 118.6,113.6 119.4,115.7 120.3,117.8 121.1,119.8 122.0,121.7 122.8,123.5 123.7,125.2 124.5,126.9 125.4,128.5 126.2,130.0 127.1,131.4 127.9,132.7 128.8,134.0 129.6,135.1 130.5,136.3 131.3,137.3 132.2,138.3 133.0,139.3 133.9,140.1 134.7,141.0 135.6,141.8 136.4,142.5 137.3,143.2 138.1,143.9 139.0,144.5 139.8,145.1 140.7,145.7 141.5,146.3 142.4,146.8 143.2,147.4 144.1,147.9 144.9,148.4 145.8,148.9 146.6,149.3 147.5,149.8 148.3,150.3 149.2,150.7 150.0,151.2 150.9,151.6 151.7,152.0 152.6,152.5 153.4,152.9 154.3,153.3 155.1,153.7 156.0,154.1 156.9,154.5 157.7,154.9 158.6,155.3 159.4,155.7 160.3,156.1 161.1,156.4 162.0,156.8 162.8,157.2 163.7,157.5 164.5,157.9 165.4,158.2 166.2,158.6 167.1,158.9 167.9,159.2 168.8,159.6 169.6,159.9 170.5,160.2 171.3,160.5 172.2,160.8 173.0,161.1 173.9,161.3 174.7,161.6 175.6,161.9 176.4,162.1 177.3,162.4 178.1,162.7 179.0,162.9 179.8,163.1 180.7,163.4 181.5,163.6 182.4,163.8 183.2,164.0 184.1,164.3 184.9,164.5 185.8,164.7 186.6,164.9 187.5,165.0 188.3,165.2 189.2,165.4 190.0,165.6 190.9,165.7 191.7,165.9 192.6,166.1 193.4,166.2 194.3,166.4 195.1,166.5 196.0,166.7 196.8,166.8 197.7,166.9 198.5,167.1 199.4,167.2 200.2,167.3 201.1,167.4 201.9,167.5 202.8,167.6 203.6,167.7 204.5,167.8 205.3,167.9 206.2,168.0 207.0,168.1 207.9,168.2 208.7,168.2 209.6,168.3 210.4,168.4 211.3,168.4 212.1,168.5 213.0,168.6 213.8,168.6 214.7,168.7 215.5,168.7 216.4,168.8 217.2,168.8 218.1,168.9 218.9,168.9 219.8,168.9 220.6,169.0 221.5,169.0 222.3,169.0 223.2,169.1 224.0,169.1 224.9,169.1 225.7,169.1 226.6,169.1 227.4,169.2 228.3,169.2 229.1,169.2 230.0,169.2 230.8,169.2 231.7,169.2 232.5,169.3 233.4,169.3 234.2,169.3 235.1,169.3 235.9,169.3 236.8,169.3 237.6,169.3 238.5,169.3 239.3,169.3 240.2,169.3 241.0,169.3 241.9,169.3 242.7,169.4 243.6,169.4 244.4,169.4 245.3,169.4 246.1,169.4 247.0,169.4 247.8,169.4 248.7,169.4 249.5,169.4 250.4,169.4 251.2,169.4 252.1,169.4 252.9,169.4 253.8,169.4 254.6,169.4 255.5,169.4 256.3,169.4 257.2,169.4 258.0,169.4 258.9,169.4 259.7,169.4 260.6,169.4 261.4,169.4 262.3,169.4" stroke="#f0a0c8"/>
<path d="M49.7,169.4 50.6,169.4 51.4,169.3 52.3,169.3 53.1,169.3 54.0,169.3 54.8,169.3 55.7,169.2 56.5,169.2 57.4,169.1 58.2,169.1 59.1,169.0 59.9,168.9 60.8,168.7 61.6,168.6 62.5,168.4 63.3,168.2 64.2,167.9 65.0,167.6 65.9,167.2 66.7,166.7 67.6,166.2 68.4,165.6 69.3,164.9 70.1,164.1 71.0,163.1 71.8,162.0 72.7,160.8 73.5,159.5 74.4,157.9 75.2,156.2 76.1,154.3 76.9,152.2 77.8,149.9 78.6,147.3 79.5,144.6 80.3,141.7 81.2,138.5 82.0,135.2 82.9,131.6 83.7,127.9 84.6,124.1 85.4,120.1 86.3,116.0 87.1,111.8 88.0,107.7 88.8,103.5 89.7,99.3 90.5,95.3 91.4,91.4 92.2,87.7 93.1,84.2 93.9,81.1 94.8,78.2 95.6,75.7 96.5,73.6 97.3,71.9 98.2,70.7 99.0,69.9 99.9,69.8 100.7,70.2 101.6,70.9 102.4,71.9 103.3,73.1 104.1,74.5 105.0,76.1 105.8,77.8 106.7,79.7 107.5,81.8 108.4,83.9 109.2,86.2 110.1,88.5 110.9,90.9 111.8,93.3 112.6,95.8 113.5,98.3 114.3,100.7 115.2,103.2 116.0,105.6 116.9,107.9 117.7,110.2 118.6,112.5 119.4,114.6 120.3,116.7 121.1,118.8 122.0,120.7 122.8,122.6 123.7,124.3 124.5,126.0 125.4,127.6 126.2,129.1 127.1,130.6 127.9,131.9 128.8,133.2 129.6,134.4 130.5,135.6 131.3,136.7 132.2,137.7 133.0,138.6 133.9,139.5 134.7,140.4 135.6,141.2 136.4,142.0 137.3,142.7 138.1,143.4 139.0,144.0 139.8,144.7 140.7,145.3 141.5,145.8 142.4,146.4 143.2,147.0 144.1,147.5 144.9,148.0 145.8,148.5 146.6,149.0 147.5,149.5 148.3,149.9 149.2,150.4 150.0,150.8 150.9,151.3 151.7,151.7 152.6,152.2 153.4,152.6 154.3,153.0 155.1,153.4 156.0,153.9 156.9,154.3 157.7,154.7 158.6,155.1 159.4,155.5 160.3,155.9 161.1,156.2 162.0,156.6 162.8,157.0 163.7,157.4 164.5,157.7 165.4,158.1 166.2,158.4 167.1,158.8 167.9,159.1 168.8,159.4 169.6,159.7 170.5,160.1 171.3,160.4 172.2,160.7 173.0,161.0 173.9,161.2 174.7,161.5 175.6,161.8 176.4,162.1 177.3,162.3 178.1,162.6 179.0,162.8 179.8,163.1 180.7,163.3 181.5,163.5 182.4,163.8 183.2,164.0 184.1,164.2 184.9,164.4 185.8,164.6 186.6,164.8 187.5,165.0 188.3,165.2 189.2,165.4 190.0,165.5 190.9,165.7 191.7,165.9 192.6,166.0 193.4,166.2 194.3,166.4 195.1,166.5 196.0,166.6 196.8,166.8 197.7,166.9 198.5,167.0 199.4,167.2 200.2,167.3 201.1,167.4 201.9,167.5 202.8,167.6 203.6,167.7 204.5,167.8 205.3,167.9 206.2,168.0 207.0,168.1 207.9,168.1 208.7,168.2 209.6,168.3 210.4,168.4 211.3,168.4 212.1,168.5 213.0,168.6 213.8,168.6 214.7,168.7 215.5,168.7 216.4,168.8 217.2,168.8 218.1,168.8 218.9,168.9 219.8,168.9 220.6,169.0 221.5,169.0 222.3,169.0 223.2,169.0 224.0,169.1 224.9,169.1 225.7,169.1 226.6,169.1 227.4,169.2 228.3,169.2 229.1,169.2 230.0,169.2 230.8,169.2 231.7,169.2 232.5,169.3 233.4,169.3 234.2,169.3 235.1,169.3 235.9,169.3 236.8,169.3 237.6,169.3 238.5,169.3 239.3,169.3 240.2,169.3 241.0,169.3 241.9,169.3 242.7,169.4 243.6,169.4 244.4,169.4 245.3,169.4 246.1,169.4 247.0,169.4 247.8,169.4 248.7,169.4 249.5,169.4 250.4,169.4 251.2,169.4 252.1,169.4 252.9,169.4 253.8,169.4 254.6,169.4 255.5,169.4 256.3,169.4 257.2,169.4 258.0,169.4 258.9,169.4 259.7,169.4 260.6,169.4 261.4,169.4 262.3,169.4" stroke="#2090a0"/>
<path d="M49.7,169.4 50.6,169.4 51.4,169.3 52.3,169.3 53.1,169.3 54.0,169.3 54.8,169.3 55.7,169.2 56.5,169.2 57.4,169.1 58.2,169.0 59.1,169.0 59.9,168.8 60.8,168.7 61.6,168.6 62.5,168.4 63.3,168.1 64.2,167.9 65.0,167.5 65.9,167.1 66.7,166.7 67.6,166.2 68.4,165.5 69.3,164.8 70.1,164.0 71.0,163.0 71.8,161.9 72.7,160.7 73.5,159.3 74.4,157.7 75.2,156.0 76.1,154.0 76.9,151.9 77.8,149.6 78.6,147.0 79.5,144.2 80.3,141.2 81.2,138.0 82.0,134.6 82.9,131.0 83.7,127.2 84.6,123.3 85.4,119.3 86.3,115.1 87.1,110.9 88.0,106.6 88.8,102.3 89.7,98.1 90.5,94.0 91.4,90.0 92.2,86.2 93.1,82.7 93.9,79.4 94.8,76.5 95.6,73.9 96.5,71.8 97.3,70.0 98.2,68.8 99.0,68.0 99.9,67.9 100.7,68.3 101.6,69.0 102.4,70.0 103.3,71.2 104.1,72.7 105.0,74.3 105.8,76.1 106.7,78.0 107.5,80.1 108.4,82.3 109.2,84.6 110.1,87.0 110.9,89.4 111.8,91.9 112.6,94.4 113.5,96.9 114.3,99.4 115.2,101.9 116.0,104.3 116.9,106.7 117.7,109.1 118.6,111.4 119.4,113.6 120.3,115.7 121.1,117.7 122.0,119.7 122.8,121.6 123.7,123.4 124.5,125.1 125.4,126.8 126.2,128.3 127.1,129.8 127.9,131.2 128.8,132.5 129.6,133.7 130.5,134.9 131.3,136.0 132.2,137.0 133.0,138.0 133.9,138.9 134.7,139.8 135.6,140.6 136.4,141.4 137.3,142.2 138.1,142.9 139.0,143.5 139.8,144.2 140.7,144.8 141.5,145.4 142.4,146.0 143.2,146.5 144.1,147.1 144.9,147.6 145.8,148.1 146.6,148.6 147.5,149.1 148.3,149.6 149.2,150.1 150.0,150.5 150.9,151.0 151.7,151.4 152.6,151.9 153.4,152.3 154.3,152.7 155.1,153.2 156.0,153.6 156.9,154.0 157.7,154.4 158.6,154.8 159.4,155.2 160.3,155.6 161.1,156.0 162.0,156.4 162.8,156.8 163.7,157.2 164.5,157.5 165.4,157.9 166.2,158.3 167.1,158.6 167.9,158.9 168.8,159.3 169.6,159.6 170.5,159.9 171.3,160.2 172.2,160.5 173.0,160.8 173.9,161.1 174.7,161.4 175.6,161.7 176.4,162.0 177.3,162.2 178.1,162.5 179.0,162.8 179.8,163.0 180.7,163.2 181.5,163.5 182.4,163.7 183.2,163.9 184.1,164.1 184.9,164.4 185.8,164.6 186.6,164.8 187.5,165.0 188.3,165.1 189.2,165.3 190.0,165.5 190.9,165.7 191.7,165.9 192.6,166.0 193.4,166.2 194.3,166.3 195.1,166.5 196.0,166.6 196.8,166.8 197.7,166.9 198.5,167.0 199.4,167.1 200.2,167.3 201.1,167.4 201.9,167.5 202.8,167.6 203.6,167.7 204.5,167.8 205.3,167.9 206.2,168.0 207.0,168.1 207.9,168.1 208.7,168.2 209.6,168.3 210.4,168.4 211.3,168.4 212.1,168.5 213.0,168.5 213.8,168.6 214.7,168.7 215.5,168.7 216.4,168.7 217.2,168.8 218.1,168.8 218.9,168.9 219.8,168.9 220.6,168.9 221.5,169.0 222.3,169.0 223.2,169.0 224.0,169.1 224.9,169.1 225.7,169.1 226.6,169.1 227.4,169.2 228.3,169.2 229.1,169.2 230.0,169.2 230.8,169.2 231.7,169.2 232.5,169.3 233.4,169.3 234.2,169.3 235.1,169.3 235.9,169.3 236.8,169.3 237.6,169.3 238.5,169.3 239.3,169.3 240.2,169.3 241.0,169.3 241.9,169.3 242.7,169.4 243.6,169.4 244.4,169.4 245.3,169.4 246.1,169.4 247.0,169.4 247.8,169.4 248.7,169.4 249.5,169.4 250.4,169.4 251.2,169.4 252.1,169.4 252.9,169.4 253.8,169.4 254.6,169.4 255.5,169.4 256.3,169.4 257.2,169.4 258.0,169.4 258.9,169.4 259.7,169.4 260.6,169.4 261.4,169.4 262.3,169.4" stroke="#90a0a0"/>
<path d="M49.7,169.4 50.6,169.4 51.4,169.3 52.3,169.3 53.1,169.3 54.0,169.3 54.8,169.3 55.7,169.2 56.5,169.2 57.4,169.1 58.2,169.0 59.1,169.0 59.9,168.8 60.8,168.7 61.6,168.5 62.5,168.4 63.3,168.1 64.2,167.8 65.0,167.5 65.9,167.1 66.7,166.6 67.6,166.1 68.4,165.5 69.3,164.7 70.1,163.9 71.0,162.9 71.8,161.8 72.7,160.6 73.5,159.2 74.4,157.6 75.2,155.8 76.1,153.8 76.9,151.6 77.8,149.3 78.6,146.6 79.5,143.8 80.3,140.8 81.2,137.5 82.0,134.1 82.9,130.4 83.7,126.6 84.6,122.6 85.4,118.4 86.3,114.2 87.1,109.9 88.0,105.5 88.8,101.2 89.7,96.9 90.5,92.7 91.4,88.6 92.2,84.8 93.1,81.1 93.9,77.8 94.8,74.8 95.6,72.2 96.5,70.0 97.3,68.2 98.2,66.9 99.0,66.1 99.9,66.0 100.7,66.4 101.6,67.1 102.4,68.2 103.3,69.4 104.1,70.9 105.0,72.5 105.8,74.3 106.7,76.3 107.5,78.4 108.4,80.7 109.2,83.0 110.1,85.4 110.9,87.9 111.8,90.4 112.6,93.0 113.5,95.5 114.3,98.1 115.2,100.6 116.0,103.1 116.9,105.5 117.7,107.9 118.6,110.2 119.4,112.5 120.3,114.6 121.1,116.7 122.0,118.7 122.8,120.7 123.7,122.5 124.5,124.2 125.4,125.9 126.2,127.5 127.1,129.0 127.9,130.4 128.8,131.7 129.6,133.0 130.5,134.2 131.3,135.3 132.2,136.4 133.0,137.4 133.9,138.3 134.7,139.2 135.6,140.1 136.4,140.9 137.3,141.6 138.1,142.3 139.0,143.0 139.8,143.7 140.7,144.3 141.5,145.0 142.4,145.5 143.2,146.1 144.1,146.7 144.9,147.2 145.8,147.7 146.6,148.2 147.5,148.7 148.3,149.2 149.2,149.7 150.0,150.2 150.9,150.7 151.7,151.1 152.6,151.6 153.4,152.0 154.3,152.5 155.1,152.9 156.0,153.3 156.9,153.8 157.7,154.2 158.6,154.6 159.4,155.0 160.3,155.4 161.1,155.8 162.0,156.2 162.8,156.6 163.7,157.0 164.5,157.4 165.4,157.7 166.2,158.1 167.1,158.5 167.9,158.8 168.8,159.1 169.6,159.5 170.5,159.8 171.3,160.1 172.2,160.4 173.0,160.7 173.9,161.0 174.7,161.3 175.6,161.6 176.4,161.9 177.3,162.2 178.1,162.4 179.0,162.7 179.8,162.9 180.7,163.2 181.5,163.4 182.4,163.6 183.2,163.9 184.1,164.1 184.9,164.3 185.8,164.5 186.6,164.7 187.5,164.9 188.3,165.1 189.2,165.3 190.0,165.5 190.9,165.7 191.7,165.8 192.6,166.0 193.4,166.1 194.3,166.3 195.1,166.4 196.0,166.6 196.8,166.7 197.7,166.9 198.5,167.0 199.4,167.1 200.2,167.2 201.1,167.4 201.9,167.5 202.8,167.6 203.6,167.7 204.5,167.8 205.3,167.9 206.2,168.0 207.0,168.0 207.9,168.1 208.7,168.2 209.6,168.3 210.4,168.3 211.3,168.4 212.1,168.5 213.0,168.5 213.8,168.6 214.7,168.6 215.5,168.7 216.4,168.7 217.2,168.8 218.1,168.8 218.9,168.9 219.8,168.9 220.6,168.9 221.5,169.0 222.3,169.0 223.2,169.0 224.0,169.1 224.9,169.1 225.7,169.1 226.6,169.1 227.4,169.2 228.3,169.2 229.1,169.2 230.0,169.2 230.8,169.2 231.7,169.2 232.5,169.3 233.4,169.3 234.2,169.3 235.1,169.3 235.9,169.3 236.8,169.3 237.6,169.3 238.5,169.3 239.3,169.3 240.2,169.3 241.0,169.3 241.9,169.3 242.7,169.3 243.6,169.4 244.4,169.4 245.3,169.4 246.1,169.4 247.0,169.4 247.8,169.4 248.7,169.4 249.5,169.4 250.4,169.4 251.2,169.4 252.1,169.4 252.9,169.4 253.8,169.4 254.6,169.4 255.5,169.4 256.3,169.4 257.2,169.4 258.0,169.4 258.9,169.4 259.7,169.4 260.6,169.4 261.4,169.4 262.3,169.4" stroke="#5a6a9a"/>
<path d="M49.7,169.4 50.6,169.4 51.4,169.3 52.3,169.3 53.1,169.3 54.0,169.3 54.8,169.3 55.7,169.2 56.5,169.2 57.4,169.1 58.2,169.0 59.1,168.9 59.9,168.8 60.8,168.7 61.6,168.5 62.5,168.3 63.3,168.1 64.2,167.8 65.0,167.5 65.9,167.1 66.7,166.6 67.6,166.1 68.4,165.4 69.3,164.7 70.1,163.8 71.0,162.8 71.8,161.7 72.7,160.4 73.5,159.0 74.4,157.4 75.2,155.6 76.1,153.6 76.9,151.4 77.8,148.9 78.6,146.3 79.5,143.4 80.3,140.3 81.2,137.0 82.0,133.5 82.9,129.8 83.7,125.9 84.6,121.8 85.4,117.6 86.3,113.3 87.1,108.9 88.0,104.4 88.8,100.0 89.7,95.6 90.5,91.4 91.4,87.2 92.2,83.3 93.1,79.6 93.9,76.2 94.8,73.1 95.6,70.4 96.5,68.2 97.3,66.4 98.2,65.0 99.0,64.2 99.9,64.0 100.7,64.5 101.6,65.2 102.4,66.3 103.3,67.6 104.1,69.1 105.0,70.7 105.8,72.6 106.7,74.6 107.5,76.8 108.4,79.0 109.2,81.4 110.1,83.9 110.9,86.4 111.8,89.0 112.6,91.6 113.5,94.2 114.3,96.8 115.2,99.3 116.0,101.9 116.9,104.3 117.7,106.8 118.6,109.1 119.4,111.4 120.3,113.6 121.1,115.7 122.0,117.8 122.8,119.7 123.7,121.6 124.5,123.4 125.4,125.1 126.2,126.7 127.1,128.2 127.9,129.6 128.8,131.0 129.6,132.3 130.5,133.5 131.3,134.6 132.2,135.7 133.0,136.7 133.9,137.7 134.7,138.6 135.6,139.5 136.4,140.3 137.3,141.1 138.1,141.8 139.0,142.5 139.8,143.2 140.7,143.9 141.5,144.5 142.4,145.1 143.2,145.7 144.1,146.3 144.9,146.8 145.8,147.3 146.6,147.9 147.5,148.4 148.3,148.9 149.2,149.4 150.0,149.9 150.9,150.3 151.7,150.8 152.6,151.3 153.4,151.7 154.3,152.2 155.1,152.6 156.0,153.1 156.9,153.5 157.7,154.0 158.6,154.4 159.4,154.8 160.3,155.2 161.1,155.6 162.0,156.0 162.8,156.4 163.7,156.8 164.5,157.2 165.4,157.6 166.2,157.9 167.1,158.3 167.9,158.7 168.8,159.0 169.6,159.3 170.5,159.7 171.3,160.0 172.2,160.3 173.0,160.6 173.9,160.9 174.7,161.2 175.6,161.5 176.4,161.8 177.3,162.1 178.1,162.3 179.0,162.6 179.8,162.9 180.7,163.1 181.5,163.4 182.4,163.6 183.2,163.8 184.1,164.0 184.9,164.3 185.8,164.5 186.6,164.7 187.5,164.9 188.3,165.1 189.2,165.3 190.0,165.4 190.9,165.6 191.7,165.8 192.6,166.0 193.4,166.1 194.3,166.3 195.1,166.4 196.0,166.6 196.8,166.7 197.7,166.8 198.5,167.0 199.4,167.1 200.2,167.2 201.1,167.3 201.9,167.4 202.8,167.6 203.6,167.7 204.5,167.8 205.3,167.8 206.2,167.9 207.0,168.0 207.9,168.1 208.7,168.2 209.6,168.3 210.4,168.3 211.3,168.4 212.1,168.5 213.0,168.5 213.8,168.6 214.7,168.6 215.5,168.7 216.4,168.7 217.2,168.8 218.1,168.8 218.9,168.9 219.8,168.9 220.6,168.9 221.5,169.0 222.3,169.0 223.2,169.0 224.0,169.1 224.9,169.1 225.7,169.1 226.6,169.1 227.4,169.2 228.3,169.2 229.1,169.2 230.0,169.2 230.8,169.2 231.7,169.2 232.5,169.2 233.4,169.3 234.2,169.3 235.1,169.3 235.9,169.3 236.8,169.3 237.6,169.3 238.5,169.3 239.3,169.3 240.2,169.3 241.0,169.3 241.9,169.3 242.7,169.3 243.6,169.4 244.4,169.4 245.3,169.4 246.1,169.4 247.0,169.4 247.8,169.4 248.7,169.4 249.5,169.4 250.4,169.4 251.2,169.4 252.1,169.4 252.9,169.4 253.8,169.4 254.6,169.4 255.5,169.4 256.3,169.4 257.2,169.4 258.0,169.4 258.9,169.4 259.7,169.4 260.6,169.4 261.4,169.4 262.3,169.4" stroke="#a8dce8"/>
<path d="M49.7,169.4 50.6,169.4 51.4,169.3 52.3,169.3 53.1,169.3 54.0,169.3 54.8,169.3 55.7,169.2 56.5,169.2 57.4,169.1 58.2,169.0 59.1,168.9 59.9,168.8 60.8,168.7 61.6,168.5 62.5,168.3 63.3,168.1 64.2,167.8 65.0,167.5 65.9,167.0 66.7,166.6 67.6,166.0 68.4,165.4 69.3,164.6 70.1,163.7 71.0,162.7 71.8,161.6 72.7,160.3 73.5,158.8 74.4,157.2 75.2,155.4 76.1,153.3 76.9,151.1 77.8,148.6 78.6,146.0 79.5,143.0 80.3,139.9 81.2,136.5 82.0,132.9 82.9,129.2 83.7,125.2 84.6,121.0 85.4,116.8 86.3,112.4 87.1,107.9 88.0,103.4 88.8,98.9 89.7,94.4 90.5,90.0 91.4,85.8 92.2,81.8 93.1,78.0 93.9,74.6 94.8,71.4 95.6,68.7 96.5,66.4 97.3,64.5 98.2,63.1 99.0,62.3 99.9,62.1 100.7,62.6 101.6,63.3 102.4,64.4 103.3,65.7 104.1,67.2 105.0,69.0 105.8,70.8 106.7,72.9 107.5,75.1 108.4,77.4 109.2,79.8 110.1,82.3 110.9,84.9 111.8,87.5 112.6,90.2 113.5,92.8 114.3,95.4 115.2,98.0 116.0,100.6 116.9,103.1 117.7,105.6 118.6,108.0 119.4,110.3 120.3,112.6 121.1,114.7 122.0,116.8 122.8,118.8 123.7,120.7 124.5,122.5 125.4,124.2 126.2,125.8 127.1,127.4 127.9,128.9 128.8,130.2 129.6,131.6 130.5,132.8 131.3,134.0 132.2,135.1 133.0,136.1 133.9,137.1 134.7,138.0 135.6,138.9 136.4,139.8 137.3,140.6 138.1,141.3 139.0,142.1 139.8,142.7 140.7,143.4 141.5,144.1 142.4,144.7 143.2,145.3 144.1,145.9 144.9,146.4 145.8,147.0 146.6,147.5 147.5,148.0 148.3,148.5 149.2,149.0 150.0,149.5 150.9,150.0 151.7,150.5 152.6,151.0 153.4,151.5 154.3,151.9 155.1,152.4 156.0,152.8 156.9,153.3 157.7,153.7 158.6,154.2 159.4,154.6 160.3,155.0 161.1,155.4 162.0,155.8 162.8,156.2 163.7,156.6 164.5,157.0 165.4,157.4 166.2,157.8 167.1,158.1 167.9,158.5 168.8,158.9 169.6,159.2 170.5,159.5 171.3,159.9 172.2,160.2 173.0,160.5 173.9,160.8 174.7,161.1 175.6,161.4 176.4,161.7 177.3,162.0 178.1,162.3 179.0,162.5 179.8,162.8 180.7,163.0 181.5,163.3 182.4,163.5 183.2,163.8 184.1,164.0 184.9,164.2 185.8,164.4 186.6,164.6 187.5,164.8 188.3,165.0 189.2,165.2 190.0,165.4 190.9,165.6 191.7,165.8 192.6,165.9 193.4,166.1 194.3,166.2 195.1,166.4 196.0,166.5 196.8,166.7 197.7,166.8 198.5,167.0 199.4,167.1 200.2,167.2 201.1,167.3 201.9,167.4 202.8,167.5 203.6,167.6 204.5,167.7 205.3,167.8 206.2,167.9 207.0,168.0 207.9,168.1 208.7,168.2 209.6,168.2 210.4,168.3 211.3,168.4 212.1,168.5 213.0,168.5 213.8,168.6 214.7,168.6 215.5,168.7 216.4,168.7 217.2,168.8 218.1,168.8 218.9,168.9 219.8,168.9 220.6,168.9 221.5,169.0 222.3,169.0 223.2,169.0 224.0,169.1 224.9,169.1 225.7,169.1 226.6,169.1 227.4,169.1 228.3,169.2 229.1,169.2 230.0,169.2 230.8,169.2 231.7,169.2 232.5,169.2 233.4,169.3 234.2,169.3 235.1,169.3 235.9,169.3 236.8,169.3 237.6,169.3 238.5,169.3 239.3,169.3 240.2,169.3 241.0,169.3 241.9,169.3 242.7,169.3 243.6,169.4 244.4,169.4 245.3,169.4 246.1,169.4 247.0,169.4 247.8,169.4 248.7,169.4 249.5,169.4 250.4,169.4 251.2,169.4 252.1,169.4 252.9,169.4 253.8,169.4 254.6,169.4 255.5,169.4 256.3,169.4 257.2,169.4 258.0,169.4 258.9,169.4 259.7,169.4 260.6,169.4 261.4,169.4 262.3,169.4" stroke="#30a070"/>
<path d="M49.7,169.4 50.6,169.4 51.4,169.3 52.3,169.3 53.1,169.3 54.0,169.3 54.8,169.3 55.7,169.2 56.5,169.2 57.4,169.1 58.2,169.0 59.1,168.9 59.9,168.8 60.8,168.7 61.6,168.5 62.5,168.3 63.3,168.1 64.2,167.8 65.0,167.4 65.9,167.0 66.7,166.5 67.6,166.0 68.4,165.3 69.3,164.5 70.1,163.7 71.0,162.6 71.8,161.5 72.7,160.2 73.5,158.7 74.4,157.0 75.2,155.2 76.1,153.1 76.9,150.8 77.8,148.3 78.6,145.6 79.5,142.6 80.3,139.4 81.2,136.0 82.0,132.4 82.9,128.5 83.7,124.5 84.6,120.3 85.4,115.9 86.3,111.5 87.1,106.9 88.0,102.3 88.8,97.7 89.7,93.2 90.5,88.7 91.4,84.4 92.2,80.3 93.1,76.5 93.9,72.9 94.8,69.7 95.6,66.9 96.5,64.6 97.3,62.7 98.2,61.3 99.0,60.4 99.9,60.2 100.7,60.6 101.6,61.5 102.4,62.5 103.3,63.9 104.1,65.4 105.0,67.2 105.8,69.1 106.7,71.2 107.5,73.4 108.4,75.8 109.2,78.2 110.1,80.8 110.9,83.4 111.8,86.1 112.6,88.7 113.5,91.4 114.3,94.1 115.2,96.8 116.0,99.4 116.9,101.9 117.7,104.4 118.6,106.9 119.4,109.2 120.3,111.5 121.1,113.7 122.0,115.8 122.8,117.8 123.7,119.8 124.5,121.6 125.4,123.4 126.2,125.0 127.1,126.6 127.9,128.1 128.8,129.5 129.6,130.8 130.5,132.1 131.3,133.3 132.2,134.4 133.0,135.5 133.9,136.5 134.7,137.5 135.6,138.4 136.4,139.2 137.3,140.0 138.1,140.8 139.0,141.6 139.8,142.3 140.7,143.0 141.5,143.6 142.4,144.2 143.2,144.9 144.1,145.4 144.9,146.0 145.8,146.6 146.6,147.1 147.5,147.7 148.3,148.2 149.2,148.7 150.0,149.2 150.9,149.7 151.7,150.2 152.6,150.7 153.4,151.2 154.3,151.7 155.1,152.1 156.0,152.6 156.9,153.0 157.7,153.5 158.6,153.9 159.4,154.4 160.3,154.8 161.1,155.2 162.0,155.6 162.8,156.0 163.7,156.4 164.5,156.8 165.4,157.2 166.2,157.6 167.1,158.0 167.9,158.4 168.8,158.7 169.6,159.1 170.5,159.4 171.3,159.8 172.2,160.1 173.0,160.4 173.9,160.7 174.7,161.0 175.6,161.3 176.4,161.6 177.3,161.9 178.1,162.2 179.0,162.5 179.8,162.7 180.7,163.0 181.5,163.2 182.4,163.5 183.2,163.7 184.1,163.9 184.9,164.2 185.8,164.4 186.6,164.6 187.5,164.8 188.3,165.0 189.2,165.2 190.0,165.4 190.9,165.6 191.7,165.7 192.6,165.9 193.4,166.1 194.3,166.2 195.1,166.4 196.0,166.5 196.8,166.7 197.7,166.8 198.5,166.9 199.4,167.1 200.2,167.2 201.1,167.3 201.9,167.4 202.8,167.5 203.6,167.6 204.5,167.7 205.3,167.8 206.2,167.9 207.0,168.0 207.9,168.1 208.7,168.2 209.6,168.2 210.4,168.3 211.3,168.4 212.1,168.4 213.0,168.5 213.8,168.6 214.7,168.6 215.5,168.7 216.4,168.7 217.2,168.8 218.1,168.8 218.9,168.8 219.8,168.9 220.6,168.9 221.5,169.0 222.3,169.0 223.2,169.0 224.0,169.0 224.9,169.1 225.7,169.1 226.6,169.1 227.4,169.1 228.3,169.2 229.1,169.2 230.0,169.2 230.8,169.2 231.7,169.2 232.5,169.2 233.4,169.3 234.2,169.3 235.1,169.3 235.9,169.3 236.8,169.3 237.6,169.3 238.5,169.3 239.3,169.3 240.2,169.3 241.0,169.3 241.9,169.3 242.7,169.3 243.6,169.3 244.4,169.4 245.3,169.4 246.1,169.4 247.0,169.4 247.8,169.4 248.7,169.4 249.5,169.4 250.4,169.4 251.2,169.4 252.1,169.4 252.9,169.4 253.8,169.4 254.6,169.4 255.5,169.4 256.3,169.4 257.2,169.4 258.0,169.4 258.9,169.4 259.7,169.4 260.6,169.4 261.4,169.4 262.3,169.4" stroke="#c02080"/>
<path d="M49.7,169.4 50.6,169.4 51.4,169.3 52.3,169.3 53.1,169.3 54.0,169.3 54.8,169.3 55.7,169.2 56.5,169.2 57.4,169.1 58.2,169.0 59.1,168.9 59.9,168.8 60.8,168.7 61.6,168.5 62.5,168.3 63.3,168.0 64.2,167.7 65.0,167.4 65.9,167.0 66.7,166.5 67.6,165.9 68.4,165.2 69.3,164.5 70.1,163.6 71.0,162.6 71.8,161.4 72.7,160.0 73.5,158.5 74.4,156.9 75.2,155.0 76.1,152.9 76.9,150.6 77.8,148.0 78.6,145.3 79.5,142.2 80.3,139.0 81.2,135.5 82.0,131.8 82.9,127.9 83.7,123.8 84.6,119.5 85.4,115.1 86.3,110.5 87.1,105.9 88.0,101.2 88.8,96.6 89.7,91.9 90.5,87.4 91.4,83.0 92.2,78.9 93.1,74.9 93.9,71.3 94.8,68.1 95.6,65.2 96.5,62.8 97.3,60.8 98.2,59.4 99.0,58.5 99.9,58.3 100.7,58.7 101.6,59.6 102.4,60.7 103.3,62.0 104.1,63.6 105.0,65.4 105.8,67.4 106.7,69.5 107.5,71.8 108.4,74.2 109.2,76.7 110.1,79.3 110.9,81.9 111.8,84.6 112.6,87.3 113.5,90.1 114.3,92.8 115.2,95.5 116.0,98.1 116.9,100.7 117.7,103.3 118.6,105.7 119.4,108.1 120.3,110.5 121.1,112.7 122.0,114.8 122.8,116.9 123.7,118.8 124.5,120.7 125.4,122.5 126.2,124.2 127.1,125.8 127.9,127.3 128.8,128.8 129.6,130.1 130.5,131.4 131.3,132.6 132.2,133.8 133.0,134.9 133.9,135.9 134.7,136.9 135.6,137.8 136.4,138.7 137.3,139.5 138.1,140.3 139.0,141.1 139.8,141.8 140.7,142.5 141.5,143.2 142.4,143.8 143.2,144.4 144.1,145.0 144.9,145.6 145.8,146.2 146.6,146.8 147.5,147.3 148.3,147.9 149.2,148.4 150.0,148.9 150.9,149.4 151.7,149.9 152.6,150.4 153.4,150.9 154.3,151.4 155.1,151.9 156.0,152.3 156.9,152.8 157.7,153.2 158.6,153.7 159.4,154.1 160.3,154.6 161.1,155.0 162.0,155.4 162.8,155.9 163.7,156.3 164.5,156.7 165.4,157.1 166.2,157.5 167.1,157.8 167.9,158.2 168.8,158.6 169.6,158.9 170.5,159.3 171.3,159.6 172.2,160.0 173.0,160.3 173.9,160.6 174.7,160.9 175.6,161.2 176.4,161.5 177.3,161.8 178.1,162.1 179.0,162.4 179.8,162.7 180.7,162.9 181.5,163.2 182.4,163.4 183.2,163.7 184.1,163.9 184.9,164.1 185.8,164.3 186.6,164.5 187.5,164.8 188.3,165.0 189.2,165.2 190.0,165.3 190.9,165.5 191.7,165.7 192.6,165.9 193.4,166.0 194.3,166.2 195.1,166.3 196.0,166.5 196.8,166.6 197.7,166.8 198.5,166.9 199.4,167.0 200.2,167.2 201.1,167.3 201.9,167.4 202.8,167.5 203.6,167.6 204.5,167.7 205.3,167.8 206.2,167.9 207.0,168.0 207.9,168.1 208.7,168.1 209.6,168.2 210.4,168.3 211.3,168.4 212.1,168.4 213.0,168.5 213.8,168.5 214.7,168.6 215.5,168.7 216.4,168.7 217.2,168.8 218.1,168.8 218.9,168.8 219.8,168.9 220.6,168.9 221.5,168.9 222.3,169.0 223.2,169.0 224.0,169.0 224.9,169.1 225.7,169.1 226.6,169.1 227.4,169.1 228.3,169.2 229.1,169.2 230.0,169.2 230.8,169.2 231.7,169.2 232.5,169.2 233.4,169.3 234.2,169.3 235.1,169.3 235.9,169.3 236.8,169.3 237.6,169.3 238.5,169.3 239.3,169.3 240.2,169.3 241.0,169.3 241.9,169.3 242.7,169.3 243.6,169.3 244.4,169.4 245.3,169.4 246.1,169.4 247.0,169.4 247.8,169.4 248.7,169.4 249.5,169.4 250.4,169.4 251.2,169.4 252.1,169.4 252.9,169.4 253.8,169.4 254.6,169.4 255.5,169.4 256.3,169.4 257.2,169.4 258.0,169.4 258.9,169.4 259.7,169.4 260.6,169.4 261.4,169.4 262.3,169.4" stroke="#8a30b8"/>
<path d="M49.7,169.4 50.6,169.4 51.4,169.3 52.3,169.3 53.1,169.3 54.0,169.3 54.8,169.2 55.7,169.2 56.5,169.2 57.4,169.1 58.2,169.0 59.1,168.9 59.9,168.8 60.8,168.7 61.6,168.5 62.5,168.3 63.3,168.0 64.2,167.7 65.0,167.4 65.9,166.9 66.7,166.5 67.6,165.9 68.4,165.2 69.3,164.4 70.1,163.5 71.0,162.5 71.8,161.3 72.7,159.9 73.5,158.4 74.4,156.7 75.2,154.8 76.1,152.6 76.9,150.3 77.8,147.7 78.6,144.9 79.5,141.9 80.3,138.6 81.2,135.0 82.0,131.3 82.9,127.3 83.7,123.1 84.6,118.8 85.4,114.3 86.3,109.6 87.1,104.9 88.0,100.2 88.8,95.4 89.7,90.7 90.5,86.1 91.4,81.6 92.2,77.4 93.1,73.4 93.9,69.7 94.8,66.4 95.6,63.4 96.5,61.0 97.3,59.0 98.2,57.5 99.0,56.6 99.9,56.4 100.7,56.8 101.6,57.7 102.4,58.8 103.3,60.2 104.1,61.8 105.0,63.6 105.8,65.6 106.7,67.8 107.5,70.1 108.4,72.5 109.2,75.1 110.1,77.7 110.9,80.4 111.8,83.2 112.6,85.9 113.5,88.7 114.3,91.5 115.2,94.2 116.0,96.9 116.9,99.5 117.7,102.1 118.6,104.6 119.4,107.1 120.3,109.4 121.1,111.7 122.0,113.9 122.8,115.9 123.7,117.9 124.5,119.8 125.4,121.6 126.2,123.4 127.1,125.0 127.9,126.5 128.8,128.0 129.6,129.4 130.5,130.7 131.3,132.0 132.2,133.1 133.0,134.2 133.9,135.3 134.7,136.3 135.6,137.2 136.4,138.1 137.3,139.0 138.1,139.8 139.0,140.6 139.8,141.3 140.7,142.0 141.5,142.7 142.4,143.4 143.2,144.0 144.1,144.6 144.9,145.2 145.8,145.8 146.6,146.4 147.5,147.0 148.3,147.5 149.2,148.0 150.0,148.6 150.9,149.1 151.7,149.6 152.6,150.1 153.4,150.6 154.3,151.1 155.1,151.6 156.0,152.1 156.9,152.5 157.7,153.0 158.6,153.5 159.4,153.9 160.3,154.4 161.1,154.8 162.0,155.2 162.8,155.7 163.7,156.1 164.5,156.5 165.4,156.9 166.2,157.3 167.1,157.7 167.9,158.1 168.8,158.4 169.6,158.8 170.5,159.2 171.3,159.5 172.2,159.9 173.0,160.2 173.9,160.5 174.7,160.8 175.6,161.1 176.4,161.4 177.3,161.7 178.1,162.0 179.0,162.3 179.8,162.6 180.7,162.8 181.5,163.1 182.4,163.4 183.2,163.6 184.1,163.8 184.9,164.1 185.8,164.3 186.6,164.5 187.5,164.7 188.3,164.9 189.2,165.1 190.0,165.3 190.9,165.5 191.7,165.7 192.6,165.8 193.4,166.0 194.3,166.2 195.1,166.3 196.0,166.5 196.8,166.6 197.7,166.8 198.5,166.9 199.4,167.0 200.2,167.1 201.1,167.3 201.9,167.4 202.8,167.5 203.6,167.6 204.5,167.7 205.3,167.8 206.2,167.9 207.0,168.0 207.9,168.1 208.7,168.1 209.6,168.2 210.4,168.3 211.3,168.4 212.1,168.4 213.0,168.5 213.8,168.5 214.7,168.6 215.5,168.6 216.4,168.7 217.2,168.7 218.1,168.8 218.9,168.8 219.8,168.9 220.6,168.9 221.5,168.9 222.3,169.0 223.2,169.0 224.0,169.0 224.9,169.1 225.7,169.1 226.6,169.1 227.4,169.1 228.3,169.2 229.1,169.2 230.0,169.2 230.8,169.2 231.7,169.2 232.5,169.2 233.4,169.2 234.2,169.3 235.1,169.3 235.9,169.3 236.8,169.3 237.6,169.3 238.5,169.3 239.3,169.3 240.2,169.3 241.0,169.3 241.9,169.3 242.7,169.3 243.6,169.3 244.4,169.4 245.3,169.4 246.1,169.4 247.0,169.4 247.8,169.4 248.7,169.4 249.5,169.4 250.4,169.4 251.2,169.4 252.1,169.4 252.9,169.4 253.8,169.4 254.6,169.4 255.5,169.4 256.3,169.4 257.2,169.4 258.0,169.4 258.9,169.4 259.7,169.4 260.6,169.4 261.4,169.4 262.3,169.4" stroke="#3aa888"/>
<path d="M49.7,169.4 50.6,169.4 51.4,169.3 52.3,169.3 53.1,169.3 54.0,169.3 54.8,169.2 55.7,169.2 56.5,169.2 57.4,169.1 58.2,169.0 59.1,168.9 59.9,168.8 60.8,168.7 61.6,168.5 62.5,168.3 63.3,168.0 64.2,167.7 65.0,167.3 65.9,166.9 66.7,166.4 67.6,165.8 68.4,165.1 69.3,164.3 70.1,163.4 71.0,162.4 71.8,161.2 72.7,159.8 73.5,158.2 74.4,156.5 75.2,154.6 76.1,152.4 76.9,150.0 77.8,147.4 78.6,144.6 79.5,141.5 80.3,138.1 81.2,134.5 82.0,130.7 82.9,126.7 83.7,122.4 84.6,118.0 85.4,113.4 86.3,108.7 87.1,103.9 88.0,99.1 88.8,94.3 89.7,89.5 90.5,84.8 91.4,80.2 92.2,75.9 93.1,71.8 93.9,68.1 94.8,64.7 95.6,61.7 96.5,59.2 97.3,57.1 98.2,55.6 99.0,54.7 99.9,54.4 100.7,54.9 101.6,55.8 102.4,56.9 103.3,58.4 104.1,60.0 105.0,61.8 105.8,63.9 106.7,66.1 107.5,68.4 108.4,70.9 109.2,73.5 110.1,76.2 110.9,78.9 111.8,81.7 112.6,84.5 113.5,87.3 114.3,90.1 115.2,92.9 116.0,95.7 116.9,98.3 117.7,101.0 118.6,103.5 119.4,106.0 120.3,108.4 121.1,110.7 122.0,112.9 122.8,115.0 123.7,117.0 124.5,119.0 125.4,120.8 126.2,122.5 127.1,124.2 127.9,125.8 128.8,127.3 129.6,128.7 130.5,130.0 131.3,131.3 132.2,132.5 133.0,133.6 133.9,134.7 134.7,135.7 135.6,136.7 136.4,137.6 137.3,138.4 138.1,139.3 139.0,140.1 139.8,140.8 140.7,141.6 141.5,142.3 142.4,142.9 143.2,143.6 144.1,144.2 144.9,144.8 145.8,145.4 146.6,146.0 147.5,146.6 148.3,147.2 149.2,147.7 150.0,148.3 150.9,148.8 151.7,149.3 152.6,149.8 153.4,150.3 154.3,150.8 155.1,151.3 156.0,151.8 156.9,152.3 157.7,152.8 158.6,153.2 159.4,153.7 160.3,154.2 161.1,154.6 162.0,155.0 162.8,155.5 163.7,155.9 164.5,156.3 165.4,156.7 166.2,157.1 167.1,157.5 167.9,157.9 168.8,158.3 169.6,158.7 170.5,159.0 171.3,159.4 172.2,159.7 173.0,160.1 173.9,160.4 174.7,160.7 175.6,161.1 176.4,161.4 177.3,161.7 178.1,161.9 179.0,162.2 179.8,162.5 180.7,162.8 181.5,163.0 182.4,163.3 183.2,163.5 184.1,163.8 184.9,164.0 185.8,164.2 186.6,164.5 187.5,164.7 188.3,164.9 189.2,165.1 190.0,165.3 190.9,165.5 191.7,165.6 192.6,165.8 193.4,166.0 194.3,166.1 195.1,166.3 196.0,166.5 196.8,166.6 197.7,166.7 198.5,166.9 199.4,167.0 200.2,167.1 201.1,167.2 201.9,167.4 202.8,167.5 203.6,167.6 204.5,167.7 205.3,167.8 206.2,167.9 207.0,168.0 207.9,168.0 208.7,168.1 209.6,168.2 210.4,168.3 211.3,168.3 212.1,168.4 213.0,168.5 213.8,168.5 214.7,168.6 215.5,168.6 216.4,168.7 217.2,168.7 218.1,168.8 218.9,168.8 219.8,168.9 220.6,168.9 221.5,168.9 222.3,169.0 223.2,169.0 224.0,169.0 224.9,169.1 225.7,169.1 226.6,169.1 227.4,169.1 228.3,169.1 229.1,169.2 230.0,169.2 230.8,169.2 231.7,169.2 232.5,169.2 233.4,169.2 234.2,169.3 235.1,169.3 235.9,169.3 236.8,169.3 237.6,169.3 238.5,169.3 239.3,169.3 240.2,169.3 241.0,169.3 241.9,169.3 242.7,169.3 243.6,169.3 244.4,169.4 245.3,169.4 246.1,169.4 247.0,169.4 247.8,169.4 248.7,169.4 249.5,169.4 250.4,169.4 251.2,169.4 252.1,169.4 252.9,169.4 253.8,169.4 254.6,169.4 255.5,169.4 256.3,169.4 257.2,169.4 258.0,169.4 258.9,169.4 259.7,169.4 260.6,169.4 261.4,169.4 262.3,169.4" stroke="#a0b8b0"/>
<path d="M49.7,169.4 50.6,169.4 51.4,169.3 52.3,169.3 53.1,169.3 54.0,169.3 54.8,169.2 55.7,169.2 56.5,169.2 57.4,169.1 58.2,169.0 59.1,168.9 59.9,168.8 60.8,168.6 61.6,168.5 62.5,168.2 63.3,168.0 64.2,167.7 65.0,167.3 65.9,166.9 66.7,166.4 67.6,165.8 68.4,165.1 69.3,164.3 70.1,163.3 71.0,162.3 71.8,161.0 72.7,159.7 73.5,158.1 74.4,156.3 75.2,154.4 76.1,152.2 76.9,149.8 77.8,147.1 78.6,144.2 79.5,141.1 80.3,137.7 81.2,134.0 82.0,130.2 82.9,126.1 83.7,121.7 84.6,117.2 85.4,112.6 86.3,107.8 87.1,102.9 88.0,98.0 88.8,93.1 89.7,88.2 90.5,83.5 91.4,78.8 92.2,74.4 93.1,70.3 93.9,66.5 94.8,63.0 95.6,60.0 96.5,57.4 97.3,55.3 98.2,53.7 99.0,52.7 99.9,52.5 100.7,53.0 101.6,53.9 102.4,55.1 103.3,56.5 104.1,58.2 105.0,60.1 105.8,62.1 106.7,64.4 107.5,66.8 108.4,69.3 109.2,71.9 110.1,74.6 110.9,77.4 111.8,80.3 112.6,83.1 113.5,86.0 114.3,88.8 115.2,91.6 116.0,94.4 116.9,97.1 117.7,99.8 118.6,102.4 119.4,104.9 120.3,107.3 121.1,109.7 122.0,111.9 122.8,114.1 123.7,116.1 124.5,118.1 125.4,119.9 126.2,121.7 127.1,123.4 127.9,125.0 128.8,126.5 129.6,128.0 130.5,129.3 131.3,130.6 132.2,131.8 133.0,133.0 133.9,134.1 134.7,135.1 135.6,136.1 136.4,137.0 137.3,137.9 138.1,138.8 139.0,139.6 139.8,140.4 140.7,141.1 141.5,141.8 142.4,142.5 143.2,143.2 144.1,143.8 144.9,144.4 145.8,145.1 146.6,145.7 147.5,146.2 148.3,146.8 149.2,147.4 150.0,147.9 150.9,148.5 151.7,149.0 152.6,149.5 153.4,150.0 154.3,150.6 155.1,151.1 156.0,151.6 156.9,152.0 157.7,152.5 158.6,153.0 159.4,153.5 160.3,153.9 161.1,154.4 162.0,154.8 162.8,155.3 163.7,155.7 164.5,156.1 165.4,156.6 166.2,157.0 167.1,157.4 167.9,157.8 168.8,158.2 169.6,158.5 170.5,158.9 171.3,159.3 172.2,159.6 173.0,160.0 173.9,160.3 174.7,160.6 175.6,161.0 176.4,161.3 177.3,161.6 178.1,161.9 179.0,162.2 179.8,162.4 180.7,162.7 181.5,163.0 182.4,163.2 183.2,163.5 184.1,163.7 184.9,164.0 185.8,164.2 186.6,164.4 187.5,164.6 188.3,164.8 189.2,165.0 190.0,165.2 190.9,165.4 191.7,165.6 192.6,165.8 193.4,166.0 194.3,166.1 195.1,166.3 196.0,166.4 196.8,166.6 197.7,166.7 198.5,166.9 199.4,167.0 200.2,167.1 201.1,167.2 201.9,167.3 202.8,167.5 203.6,167.6 204.5,167.7 205.3,167.8 206.2,167.9 207.0,167.9 207.9,168.0 208.7,168.1 209.6,168.2 210.4,168.3 211.3,168.3 212.1,168.4 213.0,168.5 213.8,168.5 214.7,168.6 215.5,168.6 216.4,168.7 217.2,168.7 218.1,168.8 218.9,168.8 219.8,168.9 220.6,168.9 221.5,168.9 222.3,169.0 223.2,169.0 224.0,169.0 224.9,169.0 225.7,169.1 226.6,169.1 227.4,169.1 228.3,169.1 229.1,169.2 230.0,169.2 230.8,169.2 231.7,169.2 232.5,169.2 233.4,169.2 234.2,169.3 235.1,169.3 235.9,169.3 236.8,169.3 237.6,169.3 238.5,169.3 239.3,169.3 240.2,169.3 241.0,169.3 241.9,169.3 242.7,169.3 243.6,169.3 244.4,169.3 245.3,169.4 246.1,169.4 247.0,169.4 247.8,169.4 248.7,169.4 249.5,169.4 250.4,169.4 251.2,169.4 252.1,169.4 252.9,169.4 253.8,169.4 254.6,169.4 255.5,169.4 256.3,169.4 257.2,169.4 258.0,169.4 258.9,169.4 259.7,169.4 260.6,169.4 261.4,169.4 262.3,169.4" stroke="#b0e0c0"/>
<path d="M49.7,169.4 50.6,169.4 51.4,169.3 52.3,169.3 53.1,169.3 54.0,169.3 54.8,169.2 55.7,169.2 56.5,169.1 57.4,169.1 58.2,169.0 59.1,168.9 59.9,168.8 60.8,168.6 61.6,168.5 62.5,168.2 63.3,168.0 64.2,167.7 65.0,167.3 65.9,166.9 66.7,166.3 67.6,165.7 68.4,165.0 69.3,164.2 70.1,163.3 71.0,162.2 71.8,160.9 72.7,159.5 73.5,157.9 74.4,156.2 75.2,154.2 76.1,151.9 76.9,149.5 77.8,146.8 78.6,143.9 79.5,140.7 80.3,137.2 81.2,133.5 82.0,129.6 82.9,125.4 83.7,121.1 84.6,116.5 85.4,111.8 86.3,106.9 87.1,102.0 88.0,97.0 88.8,92.0 89.7,87.0 90.5,82.1 91.4,77.4 92.2,73.0 93.1,68.7 93.9,64.8 94.8,61.3 95.6,58.2 96.5,55.6 97.3,53.4 98.2,51.8 99.0,50.8 99.9,50.6 100.7,51.1 101.6,52.0 102.4,53.2 103.3,54.7 104.1,56.4 105.0,58.3 105.8,60.4 106.7,62.7 107.5,65.1 108.4,67.7 109.2,70.3 110.1,73.1 110.9,75.9 111.8,78.8 112.6,81.7 113.5,84.6 114.3,87.5 115.2,90.4 116.0,93.2 116.9,95.9 117.7,98.6 118.6,101.3 119.4,103.8 120.3,106.3 121.1,108.6 122.0,110.9 122.8,113.1 123.7,115.2 124.5,117.2 125.4,119.1 126.2,120.9 127.1,122.6 127.9,124.2 128.8,125.8 129.6,127.2 130.5,128.6 131.3,129.9 132.2,131.2 133.0,132.4 133.9,133.5 134.7,134.5 135.6,135.5 136.4,136.5 137.3,137.4 138.1,138.3 139.0,139.1 139.8,139.9 140.7,140.6 141.5,141.4 142.4,142.1 143.2,142.8 144.1,143.4 144.9,144.1 145.8,144.7 146.6,145.3 147.5,145.9 148.3,146.5 149.2,147.0 150.0,147.6 150.9,148.2 151.7,148.7 152.6,149.2 153.4,149.8 154.3,150.3 155.1,150.8 156.0,151.3 156.9,151.8 157.7,152.3 158.6,152.8 159.4,153.3 160.3,153.7 161.1,154.2 162.0,154.6 162.8,155.1 163.7,155.5 164.5,156.0 165.4,156.4 166.2,156.8 167.1,157.2 167.9,157.6 168.8,158.0 169.6,158.4 170.5,158.8 171.3,159.2 172.2,159.5 173.0,159.9 173.9,160.2 174.7,160.5 175.6,160.9 176.4,161.2 177.3,161.5 178.1,161.8 179.0,162.1 179.8,162.4 180.7,162.6 181.5,162.9 182.4,163.2 183.2,163.4 184.1,163.7 184.9,163.9 185.8,164.1 186.6,164.4 187.5,164.6 188.3,164.8 189.2,165.0 190.0,165.2 190.9,165.4 191.7,165.6 192.6,165.8 193.4,165.9 194.3,166.1 195.1,166.3 196.0,166.4 196.8,166.6 197.7,166.7 198.5,166.8 199.4,167.0 200.2,167.1 201.1,167.2 201.9,167.3 202.8,167.4 203.6,167.5 204.5,167.7 205.3,167.8 206.2,167.8 207.0,167.9 207.9,168.0 208.7,168.1 209.6,168.2 210.4,168.3 211.3,168.3 212.1,168.4 213.0,168.5 213.8,168.5 214.7,168.6 215.5,168.6 216.4,168.7 217.2,168.7 218.1,168.8 218.9,168.8 219.8,168.8 220.6,168.9 221.5,168.9 222.3,169.0 223.2,169.0 224.0,169.0 224.9,169.0 225.7,169.1 226.6,169.1 227.4,169.1 228.3,169.1 229.1,169.2 230.0,169.2 230.8,169.2 231.7,169.2 232.5,169.2 233.4,169.2 234.2,169.3 235.1,169.3 235.9,169.3 236.8,169.3 237.6,169.3 238.5,169.3 239.3,169.3 240.2,169.3 241.0,169.3 241.9,169.3 242.7,169.3 243.6,169.3 244.4,169.3 245.3,169.4 246.1,169.4 247.0,169.4 247.8,169.4 248.7,169.4 249.5,169.4 250.4,169.4 251.2,169.4 252.1,169.4 252.9,169.4 253.8,169.4 254.6,169.4 255.5,169.4 256.3,169.4 257.2,169.4 258.0,169.4 258.9,169.4 259.7,169.4 260.6,169.4 261.4,169.4 262.3,169.4" stroke="#7020a0"/>
<path d="M49.7,169.4 50.6,169.4 51.4,169.3 52.3,169.3 53.1,169.3 54.0,169.3 54.8,169.2 55.7,169.2 56.5,169.1 57.4,169.1 58.2,169.0 59.1,168.9 59.9,168.8 60.8,168.6 61.6,168.4 62.5,168.2 63.3,168.0 64.2,167.6 65.0,167.3 65.9,166.8 66.7,166.3 67.6,165.7 68.4,165.0 69.3,164.1 70.1,163.2 71.0,162.1 71.8,160.8 72.7,159.4 73.5,157.8 74.4,156.0 75.2,154.0 76.1,151.7 76.9,149.2 77.8,146.5 78.6,143.5 79.5,140.3 80.3,136.8 81.2,133.0 82.0,129.0 82.9,124.8 83.7,120.4 84.6,115.7 85.4,110.9 86.3,106.0 87.1,101.0 88.0,95.9 88.8,90.8 89.7,85.8 90.5,80.8 91.4,76.0 92.2,71.5 93.1,67.2 93.9,63.2 94.8,59.6 95.6,56.5 96.5,53.8 97.3,51.6 98.2,50.0 99.0,48.9 99.9,48.7 100.7,49.2 101.6,50.1 102.4,51.3 103.3,52.8 104.1,54.6 105.0,56.5 105.8,58.6 106.7,61.0 107.5,63.4 108.4,66.0 109.2,68.7 110.1,71.6 110.9,74.4 111.8,77.3 112.6,80.3 113.5,83.2 114.3,86.2 115.2,89.1 116.0,91.9 116.9,94.7 117.7,97.5 118.6,100.1 119.4,102.7 120.3,105.2 121.1,107.6 122.0,109.9 122.8,112.2 123.7,114.3 124.5,116.3 125.4,118.2 126.2,120.1 127.1,121.8 127.9,123.5 128.8,125.0 129.6,126.5 130.5,127.9 131.3,129.3 132.2,130.5 133.0,131.7 133.9,132.9 134.7,133.9 135.6,135.0 136.4,135.9 137.3,136.9 138.1,137.7 139.0,138.6 139.8,139.4 140.7,140.2 141.5,140.9 142.4,141.6 143.2,142.3 144.1,143.0 144.9,143.7 145.8,144.3 146.6,144.9 147.5,145.5 148.3,146.1 149.2,146.7 150.0,147.3 150.9,147.8 151.7,148.4 152.6,148.9 153.4,149.5 154.3,150.0 155.1,150.5 156.0,151.0 156.9,151.6 157.7,152.1 158.6,152.5 159.4,153.0 160.3,153.5 161.1,154.0 162.0,154.5 162.8,154.9 163.7,155.4 164.5,155.8 165.4,156.2 166.2,156.7 167.1,157.1 167.9,157.5 168.8,157.9 169.6,158.3 170.5,158.7 171.3,159.0 172.2,159.4 173.0,159.8 173.9,160.1 174.7,160.4 175.6,160.8 176.4,161.1 177.3,161.4 178.1,161.7 179.0,162.0 179.8,162.3 180.7,162.6 181.5,162.9 182.4,163.1 183.2,163.4 184.1,163.6 184.9,163.9 185.8,164.1 186.6,164.3 187.5,164.5 188.3,164.8 189.2,165.0 190.0,165.2 190.9,165.4 191.7,165.5 192.6,165.7 193.4,165.9 194.3,166.1 195.1,166.2 196.0,166.4 196.8,166.5 197.7,166.7 198.5,166.8 199.4,166.9 200.2,167.1 201.1,167.2 201.9,167.3 202.8,167.4 203.6,167.5 204.5,167.6 205.3,167.7 206.2,167.8 207.0,167.9 207.9,168.0 208.7,168.1 209.6,168.2 210.4,168.2 211.3,168.3 212.1,168.4 213.0,168.4 213.8,168.5 214.7,168.6 215.5,168.6 216.4,168.7 217.2,168.7 218.1,168.8 218.9,168.8 219.8,168.8 220.6,168.9 221.5,168.9 222.3,168.9 223.2,169.0 224.0,169.0 224.9,169.0 225.7,169.1 226.6,169.1 227.4,169.1 228.3,169.1 229.1,169.2 230.0,169.2 230.8,169.2 231.7,169.2 232.5,169.2 233.4,169.2 234.2,169.2 235.1,169.3 235.9,169.3 236.8,169.3 237.6,169.3 238.5,169.3 239.3,169.3 240.2,169.3 241.0,169.3 241.9,169.3 242.7,169.3 243.6,169.3 244.4,169.3 245.3,169.4 246.1,169.4 247.0,169.4 247.8,169.4 248.7,169.4 249.5,169.4 250.4,169.4 251.2,169.4 252.1,169.4 252.9,169.4 253.8,169.4 254.6,169.4 255.5,169.4 256.3,169.4 257.2,169.4 258.0,169.4 258.9,169.4 259.7,169.4 260.6,169.4 261.4,169.4 262.3,169.4" stroke="#20a0a0"/>
<path d="M49.7,169.4 50.6,169.4 51.4,169.3 52.3,169.3 53.1,169.3 54.0,169.3 54.8,169.2 55.7,169.2 56.5,169.1 57.4,169.1 58.2,169.0 59.1,168.9 59.9,168.8 60.8,168.6 61.6,168.4 62.5,168.2 63.3,167.9 64.2,167.6 65.0,167.2 65.9,166.8 66.7,166.3 67.6,165.6 68.4,164.9 69.3,164.1 70.1,163.1 71.0,162.0 71.8,160.7 72.7,159.3 73.5,157.6 74.4,155.8 75.2,153.8 76.1,151.5 76.9,149.0 77.8,146.2 78.6,143.2 79.5,139.9 80.3,136.3 81.2,132.5 82.0,128.5 82.9,124.2 83.7,119.7 84.6,115.0 85.4,110.1 86.3,105.1 87.1,100.0 88.0,94.8 88.8,89.7 89.7,84.5 90.5,79.5 91.4,74.7 92.2,70.0 93.1,65.6 93.9,61.6 94.8,57.9 95.6,54.7 96.5,52.0 97.3,49.7 98.2,48.1 99.0,47.0 99.9,46.8 100.7,47.3 101.6,48.2 102.4,49.5 103.3,51.0 104.1,52.8 105.0,54.7 105.8,56.9 106.7,59.2 107.5,61.8 108.4,64.4 109.2,67.2 110.1,70.0 110.9,72.9 111.8,75.9 112.6,78.9 113.5,81.9 114.3,84.9 115.2,87.8 116.0,90.7 116.9,93.5 117.7,96.3 118.6,99.0 119.4,101.6 120.3,104.2 121.1,106.6 122.0,109.0 122.8,111.2 123.7,113.4 124.5,115.4 125.4,117.4 126.2,119.2 127.1,121.0 127.9,122.7 128.8,124.3 129.6,125.8 130.5,127.2 131.3,128.6 132.2,129.9 133.0,131.1 133.9,132.3 134.7,133.4 135.6,134.4 136.4,135.4 137.3,136.3 138.1,137.2 139.0,138.1 139.8,138.9 140.7,139.7 141.5,140.5 142.4,141.2 143.2,141.9 144.1,142.6 144.9,143.3 145.8,143.9 146.6,144.6 147.5,145.2 148.3,145.8 149.2,146.4 150.0,147.0 150.9,147.5 151.7,148.1 152.6,148.6 153.4,149.2 154.3,149.7 155.1,150.3 156.0,150.8 156.9,151.3 157.7,151.8 158.6,152.3 159.4,152.8 160.3,153.3 161.1,153.8 162.0,154.3 162.8,154.7 163.7,155.2 164.5,155.6 165.4,156.1 166.2,156.5 167.1,156.9 167.9,157.3 168.8,157.7 169.6,158.1 170.5,158.5 171.3,158.9 172.2,159.3 173.0,159.6 173.9,160.0 174.7,160.3 175.6,160.7 176.4,161.0 177.3,161.3 178.1,161.6 179.0,161.9 179.8,162.2 180.7,162.5 181.5,162.8 182.4,163.1 183.2,163.3 184.1,163.6 184.9,163.8 185.8,164.1 186.6,164.3 187.5,164.5 188.3,164.7 189.2,164.9 190.0,165.1 190.9,165.3 191.7,165.5 192.6,165.7 193.4,165.9 194.3,166.0 195.1,166.2 196.0,166.4 196.8,166.5 197.7,166.7 198.5,166.8 199.4,166.9 200.2,167.1 201.1,167.2 201.9,167.3 202.8,167.4 203.6,167.5 204.5,167.6 205.3,167.7 206.2,167.8 207.0,167.9 207.9,168.0 208.7,168.1 209.6,168.2 210.4,168.2 211.3,168.3 212.1,168.4 213.0,168.4 213.8,168.5 214.7,168.5 215.5,168.6 216.4,168.7 217.2,168.7 218.1,168.7 218.9,168.8 219.8,168.8 220.6,168.9 221.5,168.9 222.3,168.9 223.2,169.0 224.0,169.0 224.9,169.0 225.7,169.1 226.6,169.1 227.4,169.1 228.3,169.1 229.1,169.1 230.0,169.2 230.8,169.2 231.7,169.2 232.5,169.2 233.4,169.2 234.2,169.2 235.1,169.3 235.9,169.3 236.8,169.3 237.6,169.3 238.5,169.3 239.3,169.3 240.2,169.3 241.0,169.3 241.9,169.3 242.7,169.3 243.6,169.3 244.4,169.3 245.3,169.3 246.1,169.4 247.0,169.4 247.8,169.4 248.7,169.4 249.5,169.4 250.4,169.4 251.2,169.4 252.1,169.4 252.9,169.4 253.8,169.4 254.6,169.4 255.5,169.4 256.3,169.4 257.2,169.4 258.0,169.4 258.9,169.4 259.7,169.4 260.6,169.4 261.4,169.4 262.3,169.4" stroke="#808080"/>
<path d="M49.7,169.4 50.6,169.4 51.4,169.3 52.3,169.3 53.1,169.3 54.0,169.3 54.8,169.2 55.7,169.2 56.5,169.1 57.4,169.1 58.2,169.0 59.1,168.9 59.9,168.8 60.8,168.6 61.6,168.4 62.5,168.2 63.3,167.9 64.2,167.6 65.0,167.2 65.9,166.8 66.7,166.2 67.6,165.6 68.4,164.9 69.3,164.0 70.1,163.0 71.0,161.9 71.8,160.6 72.7,159.1 73.5,157.5 74.4,155.6 75.2,153.6 76.1,151.2 76.9,148.7 77.8,145.9 78.6,142.8 79.5,139.5 80.3,135.9 81.2,132.0 82.0,127.9 82.9,123.6 83.7,119.0 84.6,114.2 85.4,109.3 86.3,104.2 87.1,99.0 88.0,93.7 88.8,88.5 89.7,83.3 90.5,78.2 91.4,73.3 92.2,68.5 93.1,64.1 93.9,60.0 94.8,56.2 95.6,53.0 96.5,50.2 97.3,47.9 98.2,46.2 99.0,45.1 99.9,44.9 100.7,45.4 101.6,46.3 102.4,47.6 103.3,49.2 104.1,50.9 105.0,53.0 105.8,55.2 106.7,57.5 107.5,60.1 108.4,62.8 109.2,65.6 110.1,68.5 110.9,71.4 111.8,74.4 112.6,77.5 113.5,80.5 114.3,83.5 115.2,86.5 116.0,89.5 116.9,92.3 117.7,95.2 118.6,97.9 119.4,100.6 120.3,103.1 121.1,105.6 122.0,108.0 122.8,110.3 123.7,112.5 124.5,114.5 125.4,116.5 126.2,118.4 127.1,120.2 127.9,121.9 128.8,123.6 129.6,125.1 130.5,126.6 131.3,127.9 132.2,129.2 133.0,130.5 133.9,131.7 134.7,132.8 135.6,133.8 136.4,134.8 137.3,135.8 138.1,136.7 139.0,137.6 139.8,138.4 140.7,139.2 141.5,140.0 142.4,140.8 143.2,141.5 144.1,142.2 144.9,142.9 145.8,143.5 146.6,144.2 147.5,144.8 148.3,145.4 149.2,146.0 150.0,146.6 150.9,147.2 151.7,147.8 152.6,148.4 153.4,148.9 154.3,149.5 155.1,150.0 156.0,150.5 156.9,151.1 157.7,151.6 158.6,152.1 159.4,152.6 160.3,153.1 161.1,153.6 162.0,154.1 162.8,154.5 163.7,155.0 164.5,155.4 165.4,155.9 166.2,156.3 167.1,156.8 167.9,157.2 168.8,157.6 169.6,158.0 170.5,158.4 171.3,158.8 172.2,159.2 173.0,159.5 173.9,159.9 174.7,160.2 175.6,160.6 176.4,160.9 177.3,161.2 178.1,161.6 179.0,161.9 179.8,162.2 180.7,162.4 181.5,162.7 182.4,163.0 183.2,163.3 184.1,163.5 184.9,163.8 185.8,164.0 186.6,164.2 187.5,164.5 188.3,164.7 189.2,164.9 190.0,165.1 190.9,165.3 191.7,165.5 192.6,165.7 193.4,165.8 194.3,166.0 195.1,166.2 196.0,166.3 196.8,166.5 197.7,166.6 198.5,166.8 199.4,166.9 200.2,167.0 201.1,167.2 201.9,167.3 202.8,167.4 203.6,167.5 204.5,167.6 205.3,167.7 206.2,167.8 207.0,167.9 207.9,168.0 208.7,168.1 209.6,168.1 210.4,168.2 211.3,168.3 212.1,168.4 213.0,168.4 213.8,168.5 214.7,168.5 215.5,168.6 216.4,168.6 217.2,168.7 218.1,168.7 218.9,168.8 219.8,168.8 220.6,168.9 221.5,168.9 222.3,168.9 223.2,169.0 224.0,169.0 224.9,169.0 225.7,169.1 226.6,169.1 227.4,169.1 228.3,169.1 229.1,169.1 230.0,169.2 230.8,169.2 231.7,169.2 232.5,169.2 233.4,169.2 234.2,169.2 235.1,169.3 235.9,169.3 236.8,169.3 237.6,169.3 238.5,169.3 239.3,169.3 240.2,169.3 241.0,169.3 241.9,169.3 242.7,169.3 243.6,169.3 244.4,169.3 245.3,169.3 246.1,169.4 247.0,169.4 247.8,169.4 248.7,169.4 249.5,169.4 250.4,169.4 251.2,169.4 252.1,169.4 252.9,169.4 253.8,169.4 254.6,169.4 255.5,169.4 256.3,169.4 257.2,169.4 258.0,169.4 258.9,169.4 259.7,169.4 260.6,169.4 261.4,169.4 262.3,169.4" stroke="#70a090"/>
<path d="M49.7,169.4 50.6,169.4 51.4,169.3 52.3,169.3 53.1,169.3 54.0,169.3 54.8,169.2 55.7,169.2 56.5,169.1 57.4,169.1 58.2,169.0 59.1,168.9 59.9,168.7 60.8,168.6 61.6,168.4 62.5,168.2 63.3,167.9 64.2,167.6 65.0,167.2 65.9,166.7 66.7,166.2 67.6,165.5 68.4,164.8 69.3,163.9 70.1,162.9 71.0,161.8 71.8,160.5 72.7,159.0 73.5,157.3 74.4,155.5 75.2,153.3 76.1,151.0 76.9,148.4 77.8,145.6 78.6,142.5 79.5,139.1 80.3,135.4 81.2,131.5 82.0,127.4 82.9,122.9 83.7,118.3 84.6,113.5 85.4,108.4 86.3,103.3 87.1,98.0 88.0,92.7 88.8,87.3 89.7,82.1 90.5,76.9 91.4,71.9 92.2,67.1 93.1,62.5 93.9,58.4 94.8,54.6 95.6,51.2 96.5,48.4 97.3,46.1 98.2,44.3 99.0,43.2 99.9,42.9 100.7,43.5 101.6,44.4 102.4,45.7 103.3,47.3 104.1,49.1 105.0,51.2 105.8,53.4 106.7,55.8 107.5,58.4 108.4,61.1 109.2,64.0 110.1,66.9 110.9,69.9 111.8,73.0 112.6,76.1 113.5,79.1 114.3,82.2 115.2,85.2 116.0,88.2 116.9,91.1 117.7,94.0 118.6,96.8 119.4,99.5 120.3,102.1 121.1,104.6 122.0,107.0 122.8,109.3 123.7,111.5 124.5,113.7 125.4,115.7 126.2,117.6 127.1,119.4 127.9,121.2 128.8,122.8 129.6,124.4 130.5,125.9 131.3,127.3 132.2,128.6 133.0,129.9 133.9,131.1 134.7,132.2 135.6,133.3 136.4,134.3 137.3,135.3 138.1,136.2 139.0,137.1 139.8,138.0 140.7,138.8 141.5,139.6 142.4,140.3 143.2,141.1 144.1,141.8 144.9,142.5 145.8,143.2 146.6,143.8 147.5,144.5 148.3,145.1 149.2,145.7 150.0,146.3 150.9,146.9 151.7,147.5 152.6,148.1 153.4,148.6 154.3,149.2 155.1,149.7 156.0,150.3 156.9,150.8 157.7,151.3 158.6,151.9 159.4,152.4 160.3,152.9 161.1,153.4 162.0,153.9 162.8,154.3 163.7,154.8 164.5,155.3 165.4,155.7 166.2,156.2 167.1,156.6 167.9,157.0 168.8,157.5 169.6,157.9 170.5,158.3 171.3,158.7 172.2,159.1 173.0,159.4 173.9,159.8 174.7,160.1 175.6,160.5 176.4,160.8 177.3,161.2 178.1,161.5 179.0,161.8 179.8,162.1 180.7,162.4 181.5,162.7 182.4,162.9 183.2,163.2 184.1,163.5 184.9,163.7 185.8,164.0 186.6,164.2 187.5,164.4 188.3,164.6 189.2,164.9 190.0,165.1 190.9,165.3 191.7,165.5 192.6,165.6 193.4,165.8 194.3,166.0 195.1,166.2 196.0,166.3 196.8,166.5 197.7,166.6 198.5,166.8 199.4,166.9 200.2,167.0 201.1,167.1 201.9,167.3 202.8,167.4 203.6,167.5 204.5,167.6 205.3,167.7 206.2,167.8 207.0,167.9 207.9,168.0 208.7,168.1 209.6,168.1 210.4,168.2 211.3,168.3 212.1,168.3 213.0,168.4 213.8,168.5 214.7,168.5 215.5,168.6 216.4,168.6 217.2,168.7 218.1,168.7 218.9,168.8 219.8,168.8 220.6,168.9 221.5,168.9 222.3,168.9 223.2,169.0 224.0,169.0 224.9,169.0 225.7,169.0 226.6,169.1 227.4,169.1 228.3,169.1 229.1,169.1 230.0,169.2 230.8,169.2 231.7,169.2 232.5,169.2 233.4,169.2 234.2,169.2 235.1,169.3 235.9,169.3 236.8,169.3 237.6,169.3 238.5,169.3 239.3,169.3 240.2,169.3 241.0,169.3 241.9,169.3 242.7,169.3 243.6,169.3 244.4,169.3 245.3,169.3 246.1,169.4 247.0,169.4 247.8,169.4 248.7,169.4 249.5,169.4 250.4,169.4 251.2,169.4 252.1,169.4 252.9,169.4 253.8,169.4 254.6,169.4 255.5,169.4 256.3,169.4 257.2,169.4 258.0,169.4 258.9,169.4 259.7,169.4 260.6,169.4 261.4,169.4 262.3,169.4" stroke="#40a060"/>
<path d="M49.7,169.4 50.6,169.4 51.4,169.3 52.3,169.3 53.1,169.3 54.0,169.3 54.8,169.2 55.7,169.2 56.5,169.1 57.4,169.1 58.2,169.0 59.1,168.9 59.9,168.7 60.8,168.6 61.6,168.4 62.5,168.2 63.3,167.9 64.2,167.6 65.0,167.2 65.9,166.7 66.7,166.1 67.6,165.5 68.4,164.7 69.3,163.9 70.1,162.9 71.0,161.7 71.8,160.4 72.7,158.9 73.5,157.2 74.4,155.3 75.2,153.1 76.1,150.8 76.9,148.2 77.8,145.3 78.6,142.1 79.5,138.7 80.3,135.0 81.2,131.0 82.0,126.8 82.9,122.3 83.7,117.6 84.6,112.7 85.4,107.6 86.3,102.4 87.1,97.0 88.0,91.6 88.8,86.2 89.7,80.8 90.5,75.6 91.4,70.5 92.2,65.6 93.1,61.0 93.9,56.7 94.8,52.9 95.6,49.5 96.5,46.6 97.3,44.2 98.2,42.4 99.0,41.3 99.9,41.0 100.7,41.6 101.6,42.5 102.4,43.9 103.3,45.5 104.1,47.3 105.0,49.4 105.8,51.7 106.7,54.1 107.5,56.8 108.4,59.5 109.2,62.4 110.1,65.4 110.9,68.4 111.8,71.5 112.6,74.7 113.5,77.8 114.3,80.9 115.2,84.0 116.0,87.0 116.9,89.9 117.7,92.8 118.6,95.7 119.4,98.4 120.3,101.0 121.1,103.6 122.0,106.0 122.8,108.4 123.7,110.6 124.5,112.8 125.4,114.8 126.2,116.8 127.1,118.6 127.9,120.4 128.8,122.1 129.6,123.7 130.5,125.2 131.3,126.6 132.2,127.9 133.0,129.2 133.9,130.4 134.7,131.6 135.6,132.7 136.4,133.7 137.3,134.7 138.1,135.7 139.0,136.6 139.8,137.5 140.7,138.3 141.5,139.1 142.4,139.9 143.2,140.7 144.1,141.4 144.9,142.1 145.8,142.8 146.6,143.4 147.5,144.1 148.3,144.7 149.2,145.4 150.0,146.0 150.9,146.6 151.7,147.2 152.6,147.8 153.4,148.3 154.3,148.9 155.1,149.5 156.0,150.0 156.9,150.6 157.7,151.1 158.6,151.6 159.4,152.2 160.3,152.7 161.1,153.2 162.0,153.7 162.8,154.2 163.7,154.6 164.5,155.1 165.4,155.6 166.2,156.0 167.1,156.5 167.9,156.9 168.8,157.3 169.6,157.7 170.5,158.1 171.3,158.5 172.2,158.9 173.0,159.3 173.9,159.7 174.7,160.0 175.6,160.4 176.4,160.7 177.3,161.1 178.1,161.4 179.0,161.7 179.8,162.0 180.7,162.3 181.5,162.6 182.4,162.9 183.2,163.2 184.1,163.4 184.9,163.7 185.8,163.9 186.6,164.2 187.5,164.4 188.3,164.6 189.2,164.8 190.0,165.0 190.9,165.2 191.7,165.4 192.6,165.6 193.4,165.8 194.3,166.0 195.1,166.1 196.0,166.3 196.8,166.4 197.7,166.6 198.5,166.7 199.4,166.9 200.2,167.0 201.1,167.1 201.9,167.2 202.8,167.4 203.6,167.5 204.5,167.6 205.3,167.7 206.2,167.8 207.0,167.9 207.9,168.0 208.7,168.0 209.6,168.1 210.4,168.2 211.3,168.3 212.1,168.3 213.0,168.4 213.8,168.5 214.7,168.5 215.5,168.6 216.4,168.6 217.2,168.7 218.1,168.7 218.9,168.8 219.8,168.8 220.6,168.9 221.5,168.9 222.3,168.9 223.2,169.0 224.0,169.0 224.9,169.0 225.7,169.0 226.6,169.1 227.4,169.1 228.3,169.1 229.1,169.1 230.0,169.2 230.8,169.2 231.7,169.2 232.5,169.2 233.4,169.2 234.2,169.2 235.1,169.2 235.9,169.3 236.8,169.3 237.6,169.3 238.5,169.3 239.3,169.3 240.2,169.3 241.0,169.3 241.9,169.3 242.7,169.3 243.6,169.3 244.4,169.3 245.3,169.3 246.1,169.4 247.0,169.4 247.8,169.4 248.7,169.4 249.5,169.4 250.4,169.4 251.2,169.4 252.1,169.4 252.9,169.4 253.8,169.4 254.6,169.4 255.5,169.4 256.3,169.4 257.2,169.4 258.0,169.4 258.9,169.4 259.7,169.4 260.6,169.4 261.4,169.4 262.3,169.4" stroke="#5050c8"/>
<path d="M49.7,169.4 50.6,169.4 51.4,169.3 52.3,169.3 53.1,169.3 54.0,169.3 54.8,169.2 55.7,169.2 56.5,169.1 57.4,169.1 58.2,169.0 59.1,168.9 59.9,168.7 60.8,168.6 61.6,168.4 62.5,168.1 63.3,167.9 64.2,167.5 65.0,167.1 65.9,166.7 66.7,166.1 67.6,165.4 68.4,164.7 69.3,163.8 70.1,162.8 71.0,161.6 71.8,160.3 72.7,158.8 73.5,157.0 74.4,155.1 75.2,152.9 76.1,150.5 76.9,147.9 77.8,145.0 78.6,141.8 79.5,138.3 80.3,134.5 81.2,130.5 82.0,126.2 82.9,121.7 83.7,116.9 84.6,111.9 85.4,106.8 86.3,101.5 87.1,96.0 88.0,90.5 88.8,85.0 89.7,79.6 90.5,74.2 91.4,69.1 92.2,64.1 93.1,59.4 93.9,55.1 94.8,51.2 95.6,47.7 96.5,44.8 97.3,42.4 98.2,40.6 99.0,39.4 99.9,39.1 100.7,39.6 101.6,40.7 102.4,42.0 103.3,43.6 104.1,45.5 105.0,47.6 105.8,49.9 106.7,52.4 107.5,55.1 108.4,57.9 109.2,60.8 110.1,63.8 110.9,66.9 111.8,70.1 112.6,73.2 113.5,76.4 114.3,79.6 115.2,82.7 116.0,85.7 116.9,88.7 117.7,91.7 118.6,94.5 119.4,97.3 120.3,100.0 121.1,102.6 122.0,105.1 122.8,107.4 123.7,109.7 124.5,111.9 125.4,114.0 126.2,116.0 127.1,117.8 127.9,119.6 128.8,121.3 129.6,122.9 130.5,124.5 131.3,125.9 132.2,127.3 133.0,128.6 133.9,129.8 134.7,131.0 135.6,132.1 136.4,133.2 137.3,134.2 138.1,135.2 139.0,136.1 139.8,137.0 140.7,137.9 141.5,138.7 142.4,139.5 143.2,140.2 144.1,141.0 144.9,141.7 145.8,142.4 146.6,143.1 147.5,143.7 148.3,144.4 149.2,145.0 150.0,145.7 150.9,146.3 151.7,146.9 152.6,147.5 153.4,148.1 154.3,148.6 155.1,149.2 156.0,149.8 156.9,150.3 157.7,150.9 158.6,151.4 159.4,151.9 160.3,152.4 161.1,153.0 162.0,153.5 162.8,154.0 163.7,154.4 164.5,154.9 165.4,155.4 166.2,155.9 167.1,156.3 167.9,156.8 168.8,157.2 169.6,157.6 170.5,158.0 171.3,158.4 172.2,158.8 173.0,159.2 173.9,159.6 174.7,160.0 175.6,160.3 176.4,160.7 177.3,161.0 178.1,161.3 179.0,161.6 179.8,162.0 180.7,162.3 181.5,162.5 182.4,162.8 183.2,163.1 184.1,163.4 184.9,163.6 185.8,163.9 186.6,164.1 187.5,164.3 188.3,164.6 189.2,164.8 190.0,165.0 190.9,165.2 191.7,165.4 192.6,165.6 193.4,165.8 194.3,165.9 195.1,166.1 196.0,166.3 196.8,166.4 197.7,166.6 198.5,166.7 199.4,166.9 200.2,167.0 201.1,167.1 201.9,167.2 202.8,167.3 203.6,167.5 204.5,167.6 205.3,167.7 206.2,167.8 207.0,167.9 207.9,167.9 208.7,168.0 209.6,168.1 210.4,168.2 211.3,168.3 212.1,168.3 213.0,168.4 213.8,168.5 214.7,168.5 215.5,168.6 216.4,168.6 217.2,168.7 218.1,168.7 218.9,168.8 219.8,168.8 220.6,168.8 221.5,168.9 222.3,168.9 223.2,169.0 224.0,169.0 224.9,169.0 225.7,169.0 226.6,169.1 227.4,169.1 228.3,169.1 229.1,169.1 230.0,169.2 230.8,169.2 231.7,169.2 232.5,169.2 233.4,169.2 234.2,169.2 235.1,169.2 235.9,169.3 236.8,169.3 237.6,169.3 238.5,169.3 239.3,169.3 240.2,169.3 241.0,169.3 241.9,169.3 242.7,169.3 243.6,169.3 244.4,169.3 245.3,169.3 246.1,169.3 247.0,169.4 247.8,169.4 248.7,169.4 249.5,169.4 250.4,169.4 251.2,169.4 252.1,169.4 252.9,169.4 253.8,169.4 254.6,169.4 255.5,169.4 256.3,169.4 257.2,169.4 258.0,169.4 258.9,169.4 259.7,169.4 260.6,169.4 261.4,169.4 262.3,169.4" stroke="#a02060"/>
<path d="M49.7,169.4 50.6,169.4 51.4,169.3 52.3,169.3 53.1,169.3 54.0,169.3 54.8,169.2 55.7,169.2 56.5,169.1 57.4,169.1 58.2,169.0 59.1,168.9 59.9,168.7 60.8,168.6 61.6,168.4 62.5,168.1 63.3,167.8 64.2,167.5 65.0,167.1 65.9,166.6 66.7,166.1 67.6,165.4 68.4,164.6 69.3,163.7 70.1,162.7 71.0,161.5 71.8,160.2 72.7,158.6 73.5,156.9 74.4,154.9 75.2,152.7 76.1,150.3 76.9,147.6 77.8,144.7 78.6,141.4 79.5,137.9 80.3,134.1 81.2,130.0 82.0,125.7 82.9,121.1 83.7,116.2 84.6,111.2 85.4,105.9 86.3,100.5 87.1,95.0 88.0,89.5 88.8,83.9 89.7,78.4 90.5,72.9 91.4,67.7 92.2,62.6 93.1,57.9 93.9,53.5 94.8,49.5 95.6,46.0 96.5,43.0 97.3,40.5 98.2,38.7 99.0,37.5 99.9,37.2 100.7,37.7 101.6,38.8 102.4,40.1 103.3,41.8 104.1,43.7 105.0,45.8 105.8,48.2 106.7,50.7 107.5,53.4 108.4,56.3 109.2,59.2 110.1,62.3 110.9,65.4 111.8,68.6 112.6,71.8 113.5,75.0 114.3,78.2 115.2,81.4 116.0,84.5 116.9,87.6 117.7,90.5 118.6,93.4 119.4,96.2 120.3,98.9 121.1,101.6 122.0,104.1 122.8,106.5 123.7,108.8 124.5,111.0 125.4,113.1 126.2,115.1 127.1,117.0 127.9,118.9 128.8,120.6 129.6,122.2 130.5,123.8 131.3,125.3 132.2,126.6 133.0,128.0 133.9,129.2 134.7,130.4 135.6,131.6 136.4,132.7 137.3,133.7 138.1,134.7 139.0,135.6 139.8,136.5 140.7,137.4 141.5,138.2 142.4,139.0 143.2,139.8 144.1,140.6 144.9,141.3 145.8,142.0 146.6,142.7 147.5,143.4 148.3,144.1 149.2,144.7 150.0,145.3 150.9,146.0 151.7,146.6 152.6,147.2 153.4,147.8 154.3,148.4 155.1,148.9 156.0,149.5 156.9,150.1 157.7,150.6 158.6,151.2 159.4,151.7 160.3,152.2 161.1,152.8 162.0,153.3 162.8,153.8 163.7,154.3 164.5,154.8 165.4,155.2 166.2,155.7 167.1,156.2 167.9,156.6 168.8,157.0 169.6,157.5 170.5,157.9 171.3,158.3 172.2,158.7 173.0,159.1 173.9,159.5 174.7,159.9 175.6,160.2 176.4,160.6 177.3,160.9 178.1,161.2 179.0,161.6 179.8,161.9 180.7,162.2 181.5,162.5 182.4,162.8 183.2,163.0 184.1,163.3 184.9,163.6 185.8,163.8 186.6,164.1 187.5,164.3 188.3,164.5 189.2,164.7 190.0,165.0 190.9,165.2 191.7,165.4 192.6,165.6 193.4,165.7 194.3,165.9 195.1,166.1 196.0,166.2 196.8,166.4 197.7,166.5 198.5,166.7 199.4,166.8 200.2,167.0 201.1,167.1 201.9,167.2 202.8,167.3 203.6,167.4 204.5,167.5 205.3,167.7 206.2,167.7 207.0,167.8 207.9,167.9 208.7,168.0 209.6,168.1 210.4,168.2 211.3,168.2 212.1,168.3 213.0,168.4 213.8,168.4 214.7,168.5 215.5,168.6 216.4,168.6 217.2,168.7 218.1,168.7 218.9,168.8 219.8,168.8 220.6,168.8 221.5,168.9 222.3,168.9 223.2,168.9 224.0,169.0 224.9,169.0 225.7,169.0 226.6,169.1 227.4,169.1 228.3,169.1 229.1,169.1 230.0,169.1 230.8,169.2 231.7,169.2 232.5,169.2 233.4,169.2 234.2,169.2 235.1,169.2 235.9,169.3 236.8,169.3 237.6,169.3 238.5,169.3 239.3,169.3 240.2,169.3 241.0,169.3 241.9,169.3 242.7,169.3 243.6,169.3 244.4,169.3 245.3,169.3 246.1,169.3 247.0,169.4 247.8,169.4 248.7,169.4 249.5,169.4 250.4,169.4 251.2,169.4 252.1,169.4 252.9,169.4 253.8,169.4 254.6,169.4 255.5,169.4 256.3,169.4 257.2,169.4 258.0,169.4 258.9,169.4 259.7,169.4 260.6,169.4 261.4,169.4 262.3,169.4" stroke="#f0a0c8"/>
<path d="M49.7,169.4 50.6,169.3 51.4,169.3 52.3,169.3 53.1,169.3 54.0,169.3 54.8,169.2 55.7,169.2 56.5,169.1 57.4,169.0 58.2,169.0 59.1,168.9 59.9,168.7 60.8,168.6 61.6,168.4 62.5,168.1 63.3,167.8 64.2,167.5 65.0,167.1 65.9,166.6 66.7,166.0 67.6,165.4 68.4,164.6 69.3,163.7 70.1,162.6 71.0,161.4 71.8,160.1 72.7,158.5 73.5,156.7 74.4,154.8 75.2,152.5 76.1,150.1 76.9,147.3 77.8,144.3 78.6,141.1 79.5,137.5 80.3,133.7 81.2,129.5 82.0,125.1 82.9,120.5 83.7,115.5 84.6,110.4 85.4,105.1 86.3,99.6 87.1,94.1 88.0,88.4 88.8,82.7 89.7,77.1 90.5,71.6 91.4,66.3 92.2,61.2 93.1,56.3 93.9,51.9 94.8,47.8 95.6,44.2 96.5,41.2 97.3,38.7 98.2,36.8 99.0,35.6 99.9,35.3 100.7,35.8 101.6,36.9 102.4,38.3 103.3,40.0 104.1,41.9 105.0,44.1 105.8,46.4 106.7,49.0 107.5,51.8 108.4,54.6 109.2,57.7 110.1,60.8 110.9,63.9 111.8,67.2 112.6,70.4 113.5,73.7 114.3,76.9 115.2,80.1 116.0,83.3 116.9,86.4 117.7,89.4 118.6,92.3 119.4,95.1 120.3,97.9 121.1,100.5 122.0,103.1 122.8,105.5 123.7,107.9 124.5,110.1 125.4,112.3 126.2,114.3 127.1,116.2 127.9,118.1 128.8,119.8 129.6,121.5 130.5,123.1 131.3,124.6 132.2,126.0 133.0,127.3 133.9,128.6 134.7,129.8 135.6,131.0 136.4,132.1 137.3,133.2 138.1,134.2 139.0,135.1 139.8,136.0 140.7,136.9 141.5,137.8 142.4,138.6 143.2,139.4 144.1,140.2 144.9,140.9 145.8,141.6 146.6,142.3 147.5,143.0 148.3,143.7 149.2,144.4 150.0,145.0 150.9,145.7 151.7,146.3 152.6,146.9 153.4,147.5 154.3,148.1 155.1,148.7 156.0,149.3 156.9,149.8 157.7,150.4 158.6,150.9 159.4,151.5 160.3,152.0 161.1,152.6 162.0,153.1 162.8,153.6 163.7,154.1 164.5,154.6 165.4,155.1 166.2,155.5 167.1,156.0 167.9,156.5 168.8,156.9 169.6,157.3 170.5,157.8 171.3,158.2 172.2,158.6 173.0,159.0 173.9,159.4 174.7,159.8 175.6,160.1 176.4,160.5 177.3,160.8 178.1,161.2 179.0,161.5 179.8,161.8 180.7,162.1 181.5,162.4 182.4,162.7 183.2,163.0 184.1,163.3 184.9,163.5 185.8,163.8 186.6,164.0 187.5,164.3 188.3,164.5 189.2,164.7 190.0,164.9 190.9,165.1 191.7,165.3 192.6,165.5 193.4,165.7 194.3,165.9 195.1,166.1 196.0,166.2 196.8,166.4 197.7,166.5 198.5,166.7 199.4,166.8 200.2,166.9 201.1,167.1 201.9,167.2 202.8,167.3 203.6,167.4 204.5,167.5 205.3,167.6 206.2,167.7 207.0,167.8 207.9,167.9 208.7,168.0 209.6,168.1 210.4,168.2 211.3,168.2 212.1,168.3 213.0,168.4 213.8,168.4 214.7,168.5 215.5,168.5 216.4,168.6 217.2,168.7 218.1,168.7 218.9,168.7 219.8,168.8 220.6,168.8 221.5,168.9 222.3,168.9 223.2,168.9 224.0,169.0 224.9,169.0 225.7,169.0 226.6,169.1 227.4,169.1 228.3,169.1 229.1,169.1 230.0,169.1 230.8,169.2 231.7,169.2 232.5,169.2 233.4,169.2 234.2,169.2 235.1,169.2 235.9,169.3 236.8,169.3 237.6,169.3 238.5,169.3 239.3,169.3 240.2,169.3 241.0,169.3 241.9,169.3 242.7,169.3 243.6,169.3 244.4,169.3 245.3,169.3 246.1,169.3 247.0,169.4 247.8,169.4 248.7,169.4 249.5,169.4 250.4,169.4 251.2,169.4 252.1,169.4 252.9,169.4 253.8,169.4 254.6,169.4 255.5,169.4 256.3,169.4 257.2,169.4 258.0,169.4 258.9,169.4 259.7,169.4 260.6,169.4 261.4,169.4 262.3,169.4" stroke="#2090a0"/>
<path d="M49.7,169.4 50.6,169.3 51.4,169.3 52.3,169.3 53.1,169.3 54.0,169.3 54.8,169.2 55.7,169.2 56.5,169.1 57.4,169.0 58.2,169.0 59.1,168.8 59.9,168.7 60.8,168.5 61.6,168.3 62.5,168.1 63.3,167.8 64.2,167.5 65.0,167.0 65.9,166.6 66.7,166.0 67.6,165.3 68.4,164.5 69.3,163.6 70.1,162.5 71.0,161.3 71.8,159.9 72.7,158.4 73.5,156.6 74.4,154.6 75.2,152.3 76.1,149.8 76.9,147.1 77.8,144.0 78.6,140.7 79.5,137.1 80.3,133.2 81.2,129.0 82.0,124.6 82.9,119.8 83.7,114.9 84.6,109.7 85.4,104.3 86.3,98.7 87.1,93.1 88.0,87.3 88.8,81.6 89.7,75.9 90.5,70.3 91.4,64.9 92.2,59.7 93.1,54.8 93.9,50.2 94.8,46.1 95.6,42.5 96.5,39.4 97.3,36.8 98.2,34.9 99.0,33.7 99.9,33.3 100.7,33.9 101.6,35.0 102.4,36.4 103.3,38.1 104.1,40.1 105.0,42.3 105.8,44.7 106.7,47.3 107.5,50.1 108.4,53.0 109.2,56.1 110.1,59.2 110.9,62.5 111.8,65.7 112.6,69.0 113.5,72.3 114.3,75.6 115.2,78.8 116.0,82.0 116.9,85.2 117.7,88.2 118.6,91.2 119.4,94.1 120.3,96.8 121.1,99.5 122.0,102.1 122.8,104.6 123.7,107.0 124.5,109.2 125.4,111.4 126.2,113.5 127.1,115.5 127.9,117.3 128.8,119.1 129.6,120.8 130.5,122.4 131.3,123.9 132.2,125.4 133.0,126.7 133.9,128.0 134.7,129.3 135.6,130.4 136.4,131.6 137.3,132.6 138.1,133.6 139.0,134.6 139.8,135.6 140.7,136.5 141.5,137.3 142.4,138.2 143.2,139.0 144.1,139.8 144.9,140.5 145.8,141.3 146.6,142.0 147.5,142.7 148.3,143.4 149.2,144.0 150.0,144.7 150.9,145.3 151.7,146.0 152.6,146.6 153.4,147.2 154.3,147.8 155.1,148.4 156.0,149.0 156.9,149.6 157.7,150.2 158.6,150.7 159.4,151.3 160.3,151.8 161.1,152.3 162.0,152.9 162.8,153.4 163.7,153.9 164.5,154.4 165.4,154.9 166.2,155.4 167.1,155.8 167.9,156.3 168.8,156.8 169.6,157.2 170.5,157.6 171.3,158.1 172.2,158.5 173.0,158.9 173.9,159.3 174.7,159.7 175.6,160.0 176.4,160.4 177.3,160.7 178.1,161.1 179.0,161.4 179.8,161.7 180.7,162.1 181.5,162.4 182.4,162.6 183.2,162.9 184.1,163.2 184.9,163.5 185.8,163.7 186.6,164.0 187.5,164.2 188.3,164.5 189.2,164.7 190.0,164.9 190.9,165.1 191.7,165.3 192.6,165.5 193.4,165.7 194.3,165.9 195.1,166.0 196.0,166.2 196.8,166.4 197.7,166.5 198.5,166.7 199.4,166.8 200.2,166.9 201.1,167.1 201.9,167.2 202.8,167.3 203.6,167.4 204.5,167.5 205.3,167.6 206.2,167.7 207.0,167.8 207.9,167.9 208.7,168.0 209.6,168.1 210.4,168.1 211.3,168.2 212.1,168.3 213.0,168.4 213.8,168.4 214.7,168.5 215.5,168.5 216.4,168.6 217.2,168.6 218.1,168.7 218.9,168.7 219.8,168.8 220.6,168.8 221.5,168.9 222.3,168.9 223.2,168.9 224.0,169.0 224.9,169.0 225.7,169.0 226.6,169.0 227.4,169.1 228.3,169.1 229.1,169.1 230.0,169.1 230.8,169.2 231.7,169.2 232.5,169.2 233.4,169.2 234.2,169.2 235.1,169.2 235.9,169.3 236.8,169.3 237.6,169.3 238.5,169.3 239.3,169.3 240.2,169.3 241.0,169.3 241.9,169.3 242.7,169.3 243.6,169.3 244.4,169.3 245.3,169.3 246.1,169.3 247.0,169.4 247.8,169.4 248.7,169.4 249.5,169.4 250.4,169.4 251.2,169.4 252.1,169.4 252.9,169.4 253.8,169.4 254.6,169.4 255.5,169.4 256.3,169.4 257.2,169.4 258.0,169.4 258.9,169.4 259.7,169.4 260.6,169.4 261.4,169.4 262.3,169.4" stroke="#90a0a0"/>
<path d="M49.7,169.4 50.6,169.3 51.4,169.3 52.3,169.3 53.1,169.3 54.0,169.3 54.8,169.2 55.7,169.2 56.5,169.1 57.4,169.0 58.2,169.0 59.1,168.8 59.9,168.7 60.8,168.5 61.6,168.3 62.5,168.1 63.3,167.8 64.2,167.4 65.0,167.0 65.9,166.5 66.7,165.9 67.6,165.3 68.4,164.5 69.3,163.5 70.1,162.5 71.0,161.2 71.8,159.8 72.7,158.2 73.5,156.4 74.4,154.4 75.2,152.1 76.1,149.6 76.9,146.8 77.8,143.7 78.6,140.4 79.5,136.7 80.3,132.8 81.2,128.5 82.0,124.0 82.9,119.2 83.7,114.2 84.6,108.9 85.4,103.4 86.3,97.8 87.1,92.1 88.0,86.3 88.8,80.4 89.7,74.7 90.5,69.0 91.4,63.5 92.2,58.2 93.1,53.2 93.9,48.6 94.8,44.4 95.6,40.7 96.5,37.6 97.3,35.0 98.2,33.0 99.0,31.8 99.9,31.4 100.7,32.0 101.6,33.1 102.4,34.5 103.3,36.3 104.1,38.3 105.0,40.5 105.8,43.0 106.7,45.6 107.5,48.4 108.4,51.4 109.2,54.5 110.1,57.7 110.9,61.0 111.8,64.3 112.6,67.6 113.5,70.9 114.3,74.3 115.2,77.6 116.0,80.8 116.9,84.0 117.7,87.0 118.6,90.1 119.4,93.0 120.3,95.8 121.1,98.5 122.0,101.1 122.8,103.7 123.7,106.1 124.5,108.4 125.4,110.6 126.2,112.7 127.1,114.7 127.9,116.6 128.8,118.4 129.6,120.1 130.5,121.7 131.3,123.2 132.2,124.7 133.0,126.1 133.9,127.4 134.7,128.7 135.6,129.9 136.4,131.0 137.3,132.1 138.1,133.1 139.0,134.1 139.8,135.1 140.7,136.0 141.5,136.9 142.4,137.7 143.2,138.6 144.1,139.3 144.9,140.1 145.8,140.9 146.6,141.6 147.5,142.3 148.3,143.0 149.2,143.7 150.0,144.4 150.9,145.0 151.7,145.7 152.6,146.3 153.4,146.9 154.3,147.5 155.1,148.1 156.0,148.7 156.9,149.3 157.7,149.9 158.6,150.5 159.4,151.0 160.3,151.6 161.1,152.1 162.0,152.7 162.8,153.2 163.7,153.7 164.5,154.2 165.4,154.7 166.2,155.2 167.1,155.7 167.9,156.2 168.8,156.6 169.6,157.1 170.5,157.5 171.3,157.9 172.2,158.4 173.0,158.8 173.9,159.2 174.7,159.6 175.6,159.9 176.4,160.3 177.3,160.7 178.1,161.0 179.0,161.3 179.8,161.7 180.7,162.0 181.5,162.3 182.4,162.6 183.2,162.9 184.1,163.2 184.9,163.4 185.8,163.7 186.6,163.9 187.5,164.2 188.3,164.4 189.2,164.6 190.0,164.9 190.9,165.1 191.7,165.3 192.6,165.5 193.4,165.7 194.3,165.8 195.1,166.0 196.0,166.2 196.8,166.3 197.7,166.5 198.5,166.6 199.4,166.8 200.2,166.9 201.1,167.0 201.9,167.2 202.8,167.3 203.6,167.4 204.5,167.5 205.3,167.6 206.2,167.7 207.0,167.8 207.9,167.9 208.7,168.0 209.6,168.1 210.4,168.1 211.3,168.2 212.1,168.3 213.0,168.4 213.8,168.4 214.7,168.5 215.5,168.5 216.4,168.6 217.2,168.6 218.1,168.7 218.9,168.7 219.8,168.8 220.6,168.8 221.5,168.9 222.3,168.9 223.2,168.9 224.0,169.0 224.9,169.0 225.7,169.0 226.6,169.0 227.4,169.1 228.3,169.1 229.1,169.1 230.0,169.1 230.8,169.2 231.7,169.2 232.5,169.2 233.4,169.2 234.2,169.2 235.1,169.2 235.9,169.2 236.8,169.3 237.6,169.3 238.5,169.3 239.3,169.3 240.2,169.3 241.0,169.3 241.9,169.3 242.7,169.3 243.6,169.3 244.4,169.3 245.3,169.3 246.1,169.3 247.0,169.3 247.8,169.4 248.7,169.4 249.5,169.4 250.4,169.4 251.2,169.4 252.1,169.4 252.9,169.4 253.8,169.4 254.6,169.4 255.5,169.4 256.3,169.4 257.2,169.4 258.0,169.4 258.9,169.4 259.7,169.4 260.6,169.4 261.4,169.4 262.3,169.4" stroke="#5a6a9a"/>
<path d="M49.7,169.4 50.6,169.3 51.4,169.3 52.3,169.3 53.1,169.3 54.0,169.3 54.8,169.2 55.7,169.2 56.5,169.1 57.4,169.0 58.2,168.9 59.1,168.8 59.9,168.7 60.8,168.5 61.6,168.3 62.5,168.1 63.3,167.8 64.2,167.4 65.0,167.0 65.9,166.5 66.7,165.9 67.6,165.2 68.4,164.4 69.3,163.5 70.1,162.4 71.0,161.1 71.8,159.7 72.7,158.1 73.5,156.3 74.4,154.2 75.2,151.9 76.1,149.4 76.9,146.5 77.8,143.4 78.6,140.0 79.5,136.3 80.3,132.3 81.2,128.0 82.0,123.4 82.9,118.6 83.7,113.5 84.6,108.1 85.4,102.6 86.3,96.9 87.1,91.1 88.0,85.2 88.8,79.3 89.7,73.4 90.5,67.7 91.4,62.1 92.2,56.7 93.1,51.7 93.9,47.0 94.8,42.7 95.6,39.0 96.5,35.8 97.3,33.1 98.2,31.1 99.0,29.8 99.9,29.5 100.7,30.1 101.6,31.2 102.4,32.7 103.3,34.4 104.1,36.5 105.0,38.7 105.8,41.2 106.7,43.9 107.5,46.8 108.4,49.8 109.2,52.9 110.1,56.1 110.9,59.5 111.8,62.8 112.6,66.2 113.5,69.6 114.3,72.9 115.2,76.3 116.0,79.5 116.9,82.8 117.7,85.9 118.6,88.9 119.4,91.9 120.3,94.8 121.1,97.5 122.0,100.2 122.8,102.7 123.7,105.2 124.5,107.5 125.4,109.7 126.2,111.8 127.1,113.9 127.9,115.8 128.8,117.6 129.6,119.4 130.5,121.0 131.3,122.6 132.2,124.1 133.0,125.5 133.9,126.8 134.7,128.1 135.6,129.3 136.4,130.5 137.3,131.6 138.1,132.6 139.0,133.6 139.8,134.6 140.7,135.5 141.5,136.4 142.4,137.3 143.2,138.1 144.1,138.9 144.9,139.7 145.8,140.5 146.6,141.2 147.5,142.0 148.3,142.7 149.2,143.4 150.0,144.0 150.9,144.7 151.7,145.4 152.6,146.0 153.4,146.6 154.3,147.3 155.1,147.9 156.0,148.5 156.9,149.1 157.7,149.7 158.6,150.3 159.4,150.8 160.3,151.4 161.1,151.9 162.0,152.5 162.8,153.0 163.7,153.5 164.5,154.1 165.4,154.6 166.2,155.1 167.1,155.5 167.9,156.0 168.8,156.5 169.6,156.9 170.5,157.4 171.3,157.8 172.2,158.2 173.0,158.7 173.9,159.1 174.7,159.5 175.6,159.8 176.4,160.2 177.3,160.6 178.1,160.9 179.0,161.3 179.8,161.6 180.7,161.9 181.5,162.2 182.4,162.5 183.2,162.8 184.1,163.1 184.9,163.4 185.8,163.6 186.6,163.9 187.5,164.1 188.3,164.4 189.2,164.6 190.0,164.8 190.9,165.0 191.7,165.2 192.6,165.4 193.4,165.6 194.3,165.8 195.1,166.0 196.0,166.1 196.8,166.3 197.7,166.5 198.5,166.6 199.4,166.8 200.2,166.9 201.1,167.0 201.9,167.1 202.8,167.3 203.6,167.4 204.5,167.5 205.3,167.6 206.2,167.7 207.0,167.8 207.9,167.9 208.7,168.0 209.6,168.0 210.4,168.1 211.3,168.2 212.1,168.3 213.0,168.3 213.8,168.4 214.7,168.5 215.5,168.5 216.4,168.6 217.2,168.6 218.1,168.7 218.9,168.7 219.8,168.8 220.6,168.8 221.5,168.8 222.3,168.9 223.2,168.9 224.0,169.0 224.9,169.0 225.7,169.0 226.6,169.0 227.4,169.1 228.3,169.1 229.1,169.1 230.0,169.1 230.8,169.2 231.7,169.2 232.5,169.2 233.4,169.2 234.2,169.2 235.1,169.2 235.9,169.2 236.8,169.3 237.6,169.3 238.5,169.3 239.3,169.3 240.2,169.3 241.0,169.3 241.9,169.3 242.7,169.3 243.6,169.3 244.4,169.3 245.3,169.3 246.1,169.3 247.0,169.3 247.8,169.4 248.7,169.4 249.5,169.4 250.4,169.4 251.2,169.4 252.1,169.4 252.9,169.4 253.8,169.4 254.6,169.4 255.5,169.4 256.3,169.4 257.2,169.4 258.0,169.4 258.9,169.4 259.7,169.4 260.6,169.4 261.4,169.4 262.3,169.4" stroke="#a8dce8"/>
<path d="M49.7,169.4 50.6,169.3 51.4,169.3 52.3,169.3 53.1,169.3 54.0,169.3 54.8,169.2 55.7,169.2 56.5,169.1 57.4,169.0 58.2,168.9 59.1,168.8 59.9,168.7 60.8,168.5 61.6,168.3 62.5,168.1 63.3,167.8 64.2,167.4 65.0,167.0 65.9,166.5 66.7,165.9 67.6,165.2 68.4,164.3 69.3,163.4 70.1,162.3 71.0,161.1 71.8,159.6 72.7,158.0 73.5,156.1 74.4,154.1 75.2,151.7 76.1,149.1 76.9,146.3 77.8,143.1 78.6,139.7 79.5,135.9 80.3,131.9 81.2,127.5 82.0,122.9 82.9,118.0 83.7,112.8 84.6,107.4 85.4,101.8 86.3,96.0 87.1,90.1 88.0,84.1 88.8,78.1 89.7,72.2 90.5,66.4 91.4,60.7 92.2,55.3 93.1,50.1 93.9,45.4 94.8,41.1 95.6,37.2 96.5,34.0 97.3,31.3 98.2,29.3 99.0,27.9 99.9,27.6 100.7,28.2 101.6,29.3 102.4,30.8 103.3,32.6 104.1,34.6 105.0,36.9 105.8,39.5 106.7,42.2 107.5,45.1 108.4,48.1 109.2,51.3 110.1,54.6 110.9,58.0 111.8,61.4 112.6,64.8 113.5,68.2 114.3,71.6 115.2,75.0 116.0,78.3 116.9,81.6 117.7,84.7 118.6,87.8 119.4,90.8 120.3,93.7 121.1,96.5 122.0,99.2 122.8,101.8 123.7,104.2 124.5,106.6 125.4,108.9 126.2,111.0 127.1,113.1 127.9,115.0 128.8,116.9 129.6,118.6 130.5,120.3 131.3,121.9 132.2,123.4 133.0,124.8 133.9,126.2 134.7,127.5 135.6,128.7 136.4,129.9 137.3,131.0 138.1,132.1 139.0,133.1 139.8,134.1 140.7,135.1 141.5,136.0 142.4,136.9 143.2,137.7 144.1,138.5 144.9,139.3 145.8,140.1 146.6,140.9 147.5,141.6 148.3,142.3 149.2,143.0 150.0,143.7 150.9,144.4 151.7,145.1 152.6,145.7 153.4,146.4 154.3,147.0 155.1,147.6 156.0,148.2 156.9,148.8 157.7,149.4 158.6,150.0 159.4,150.6 160.3,151.2 161.1,151.7 162.0,152.3 162.8,152.8 163.7,153.4 164.5,153.9 165.4,154.4 166.2,154.9 167.1,155.4 167.9,155.9 168.8,156.3 169.6,156.8 170.5,157.3 171.3,157.7 172.2,158.1 173.0,158.6 173.9,159.0 174.7,159.4 175.6,159.8 176.4,160.1 177.3,160.5 178.1,160.8 179.0,161.2 179.8,161.5 180.7,161.9 181.5,162.2 182.4,162.5 183.2,162.8 184.1,163.1 184.9,163.3 185.8,163.6 186.6,163.9 187.5,164.1 188.3,164.3 189.2,164.6 190.0,164.8 190.9,165.0 191.7,165.2 192.6,165.4 193.4,165.6 194.3,165.8 195.1,166.0 196.0,166.1 196.8,166.3 197.7,166.4 198.5,166.6 199.4,166.7 200.2,166.9 201.1,167.0 201.9,167.1 202.8,167.2 203.6,167.4 204.5,167.5 205.3,167.6 206.2,167.7 207.0,167.8 207.9,167.9 208.7,168.0 209.6,168.0 210.4,168.1 211.3,168.2 212.1,168.3 213.0,168.3 213.8,168.4 214.7,168.5 215.5,168.5 216.4,168.6 217.2,168.6 218.1,168.7 218.9,168.7 219.8,168.8 220.6,168.8 221.5,168.8 222.3,168.9 223.2,168.9 224.0,168.9 224.9,169.0 225.7,169.0 226.6,169.0 227.4,169.1 228.3,169.1 229.1,169.1 230.0,169.1 230.8,169.1 231.7,169.2 232.5,169.2 233.4,169.2 234.2,169.2 235.1,169.2 235.9,169.2 236.8,169.3 237.6,169.3 238.5,169.3 239.3,169.3 240.2,169.3 241.0,169.3 241.9,169.3 242.7,169.3 243.6,169.3 244.4,169.3 245.3,169.3 246.1,169.3 247.0,169.3 247.8,169.4 248.7,169.4 249.5,169.4 250.4,169.4 251.2,169.4 252.1,169.4 252.9,169.4 253.8,169.4 254.6,169.4 255.5,169.4 256.3,169.4 257.2,169.4 258.0,169.4 258.9,169.4 259.7,169.4 260.6,169.4 261.4,169.4 262.3,169.4" stroke="#30a070"/>
<path d="M49.7,169.4 50.6,169.3 51.4,169.3 52.3,169.3 53.1,169.3 54.0,169.3 54.8,169.2 55.7,169.2 56.5,169.1 57.4,169.0 58.2,168.9 59.1,168.8 59.9,168.7 60.8,168.5 61.6,168.3 62.5,168.0 63.3,167.7 64.2,167.4 65.0,166.9 65.9,166.4 66.7,165.8 67.6,165.1 68.4,164.3 69.3,163.3 70.1,162.2 71.0,161.0 71.8,159.5 72.7,157.8 73.5,156.0 74.4,153.9 75.2,151.5 76.1,148.9 76.9,146.0 77.8,142.8 78.6,139.3 79.5,135.5 80.3,131.4 81.2,127.0 82.0,122.3 82.9,117.4 83.7,112.1 84.6,106.6 85.4,100.9 86.3,95.1 87.1,89.1 88.0,83.1 88.8,77.0 89.7,71.0 90.5,65.0 91.4,59.3 92.2,53.8 93.1,48.6 93.9,43.8 94.8,39.4 95.6,35.5 96.5,32.2 97.3,29.4 98.2,27.4 99.0,26.0 99.9,25.7 100.7,26.3 101.6,27.4 102.4,28.9 103.3,30.7 104.1,32.8 105.0,35.2 105.8,37.7 106.7,40.5 107.5,43.4 108.4,46.5 109.2,49.7 110.1,53.1 110.9,56.5 111.8,59.9 112.6,63.4 113.5,66.9 114.3,70.3 115.2,73.7 116.0,77.1 116.9,80.4 117.7,83.6 118.6,86.7 119.4,89.7 120.3,92.7 121.1,95.5 122.0,98.2 122.8,100.8 123.7,103.3 124.5,105.7 125.4,108.0 126.2,110.2 127.1,112.3 127.9,114.2 128.8,116.1 129.6,117.9 130.5,119.6 131.3,121.2 132.2,122.8 133.0,124.2 133.9,125.6 134.7,126.9 135.6,128.2 136.4,129.4 137.3,130.5 138.1,131.6 139.0,132.6 139.8,133.6 140.7,134.6 141.5,135.5 142.4,136.4 143.2,137.3 144.1,138.1 144.9,138.9 145.8,139.7 146.6,140.5 147.5,141.2 148.3,142.0 149.2,142.7 150.0,143.4 150.9,144.1 151.7,144.8 152.6,145.4 153.4,146.1 154.3,146.7 155.1,147.4 156.0,148.0 156.9,148.6 157.7,149.2 158.6,149.8 159.4,150.4 160.3,151.0 161.1,151.5 162.0,152.1 162.8,152.6 163.7,153.2 164.5,153.7 165.4,154.2 166.2,154.7 167.1,155.2 167.9,155.7 168.8,156.2 169.6,156.7 170.5,157.1 171.3,157.6 172.2,158.0 173.0,158.4 173.9,158.9 174.7,159.3 175.6,159.7 176.4,160.0 177.3,160.4 178.1,160.8 179.0,161.1 179.8,161.5 180.7,161.8 181.5,162.1 182.4,162.4 183.2,162.7 184.1,163.0 184.9,163.3 185.8,163.5 186.6,163.8 187.5,164.1 188.3,164.3 189.2,164.5 190.0,164.8 190.9,165.0 191.7,165.2 192.6,165.4 193.4,165.6 194.3,165.8 195.1,165.9 196.0,166.1 196.8,166.3 197.7,166.4 198.5,166.6 199.4,166.7 200.2,166.9 201.1,167.0 201.9,167.1 202.8,167.2 203.6,167.3 204.5,167.5 205.3,167.6 206.2,167.7 207.0,167.8 207.9,167.9 208.7,167.9 209.6,168.0 210.4,168.1 211.3,168.2 212.1,168.3 213.0,168.3 213.8,168.4 214.7,168.4 215.5,168.5 216.4,168.6 217.2,168.6 218.1,168.7 218.9,168.7 219.8,168.8 220.6,168.8 221.5,168.8 222.3,168.9 223.2,168.9 224.0,168.9 224.9,169.0 225.7,169.0 226.6,169.0 227.4,169.1 228.3,169.1 229.1,169.1 230.0,169.1 230.8,169.1 231.7,169.2 232.5,169.2 233.4,169.2 234.2,169.2 235.1,169.2 235.9,169.2 236.8,169.3 237.6,169.3 238.5,169.3 239.3,169.3 240.2,169.3 241.0,169.3 241.9,169.3 242.7,169.3 243.6,169.3 244.4,169.3 245.3,169.3 246.1,169.3 247.0,169.3 247.8,169.4 248.7,169.4 249.5,169.4 250.4,169.4 251.2,169.4 252.1,169.4 252.9,169.4 253.8,169.4 254.6,169.4 255.5,169.4 256.3,169.4 257.2,169.4 258.0,169.4 258.9,169.4 259.7,169.4 260.6,169.4 261.4,169.4 262.3,169.4" stroke="#c02080"/>
<path d="M48.7,169.4 49.6,169.4 50.4,169.3 51.3,169.3 52.1,169.3 53.0,169.3 53.8,169.2 54.7,169.2 55.5,169.1 56.4,169.0 57.2,168.9 58.1,168.8 58.9,168.7 59.8,168.5 60.6,168.3 61.5,168.0 62.3,167.7 63.2,167.4 64.1,166.9 64.9,166.4 65.8,165.8 66.6,165.1 67.5,164.3 68.3,163.3 69.2,162.2 70.0,160.9 70.9,159.5 71.7,157.8 72.6,155.9 73.4,153.8 74.3,151.5 75.1,148.8 76.0,145.9 76.8,142.7 77.7,139.2 78.5,135.4 79.4,131.3 80.2,126.9 81.1,122.2 81.9,117.2 82.8,111.9 83.6,106.4 84.5,100.7 85.3,94.8 86.2,88.8 87.0,82.7 87.9,76.6 88.7,70.5 89.6,64.6 90.4,58.8 91.3,53.2 92.1,48.0 93.0,43.2 93.8,38.7 94.7,34.8 95.5,31.5 96.4,28.7 97.2,26.7 98.1,25.3 98.9,24.9 99.8,25.5 100.6,26.7 101.5,28.2 102.3,30.0 103.2,32.1 104.0,34.5 104.9,37.1 105.7,39.8 106.6,42.8 107.4,45.9 108.3,49.1 109.1,52.5 110.0,55.9 110.8,59.4 111.7,62.8 112.5,66.3 113.4,69.8 114.2,73.2 115.1,76.6 115.9,79.9 116.8,83.1 117.6,86.3 118.5,89.3 119.3,92.2 120.2,95.1 121.0,97.8 121.9,100.4 122.7,103.0 123.6,105.4 124.4,107.7 125.3,109.9 126.1,111.9 127.0,113.9 127.8,115.8 128.7,117.6 129.5,119.3 130.4,121.0 131.2,122.5 132.1,124.0 132.9,125.4 133.8,126.7 134.6,127.9 135.5,129.2 136.3,130.3 137.2,131.4 138.0,132.5 138.9,133.5 139.7,134.4 140.6,135.4 141.4,136.3 142.3,137.1 143.1,138.0 144.0,138.8 144.8,139.6 145.7,140.4 146.5,141.1 147.4,141.9 148.2,142.6 149.1,143.3 149.9,144.0 150.8,144.7 151.6,145.3 152.5,146.0 153.3,146.6 154.2,147.3 155.0,147.9 155.9,148.5 156.7,149.1 157.6,149.7 158.4,150.3 159.3,150.9 160.1,151.5 161.0,152.0 161.8,152.6 162.7,153.1 163.5,153.7 164.4,154.2 165.2,154.7 166.1,155.2 166.9,155.7 167.8,156.2 168.6,156.7 169.5,157.1 170.4,157.6 171.2,158.0 172.1,158.4 172.9,158.8 173.8,159.3 174.6,159.6 175.5,160.0 176.3,160.4 177.2,160.8 178.0,161.1 178.9,161.5 179.7,161.8 180.6,162.1 181.4,162.4 182.3,162.7 183.1,163.0 184.0,163.3 184.8,163.6 185.7,163.8 186.5,164.1 187.4,164.3 188.2,164.5 189.1,164.8 189.9,165.0 190.8,165.2 191.6,165.4 192.5,165.6 193.3,165.8 194.2,165.9 195.0,166.1 195.9,166.3 196.7,166.4 197.6,166.6 198.4,166.7 199.3,166.9 200.1,167.0 201.0,167.1 201.8,167.2 202.7,167.4 203.5,167.5 204.4,167.6 205.2,167.7 206.1,167.8 206.9,167.9 207.8,167.9 208.6,168.0 209.5,168.1 210.3,168.2 211.2,168.3 212.0,168.3 212.9,168.4 213.7,168.5 214.6,168.5 215.4,168.6 216.3,168.6 217.1,168.7 218.0,168.7 218.8,168.8 219.7,168.8 220.5,168.8 221.4,168.9 222.2,168.9 223.1,168.9 223.9,169.0 224.8,169.0 225.6,169.0 226.5,169.1 227.3,169.1 228.2,169.1 229.0,169.1 229.9,169.1 230.7,169.2 231.6,169.2 232.4,169.2 233.3,169.2 234.1,169.2 235.0,169.2 235.8,169.3 236.7,169.3 237.5,169.3 238.4,169.3 239.2,169.3 240.1,169.3 240.9,169.3 241.8,169.3 242.6,169.3 243.5,169.3 244.3,169.3 245.2,169.3 246.0,169.4 246.9,169.4 247.7,169.4 248.6,169.4 249.4,169.4 250.3,169.4 251.1,169.4 252.0,169.4 252.8,169.4 253.7,169.4 254.5,169.4 255.4,169.4 256.2,169.4 257.1,169.4 257.9,169.4 258.8,169.4 259.6,169.4 260.5,169.4 261.3,169.4" stroke="#8a30b8"/>
<path d="M49.7,169.4 50.6,169.3 51.4,169.3 52.3,169.3 53.1,169.3 54.0,169.3 54.8,169.2 55.7,169.2 56.5,169.1 57.4,169.0 58.2,168.9 59.1,168.8 59.9,168.7 60.8,168.5 61.6,168.3 62.5,168.0 63.3,167.7 64.2,167.3 65.0,166.9 65.9,166.4 66.7,165.7 67.6,165.0 68.4,164.2 69.3,163.2 70.1,162.1 71.0,160.8 71.8,159.3 72.7,157.6 73.5,155.7 74.4,153.5 75.2,151.1 76.1,148.4 76.9,145.5 77.8,142.2 78.6,138.6 79.5,134.7 80.3,130.5 81.2,126.0 82.0,121.2 82.9,116.1 83.7,110.7 84.6,105.1 85.4,99.3 86.3,93.3 87.1,87.1 88.0,80.9 88.8,74.7 89.7,68.5 90.5,62.4 91.4,56.5 92.2,50.8 93.1,45.5 93.9,40.5 94.8,36.0 95.6,32.0 96.5,28.6 97.3,25.8 98.2,23.6 99.0,22.2 99.9,21.8 100.7,22.5 101.6,23.6 102.4,25.2 103.3,27.1 104.1,29.2 105.0,31.6 105.8,34.2 106.7,37.1 107.5,40.1 108.4,43.3 109.2,46.6 110.1,50.0 110.9,53.5 111.8,57.0 112.6,60.6 113.5,64.1 114.3,67.7 115.2,71.2 116.0,74.6 116.9,78.0 117.7,81.3 118.6,84.5 119.4,87.6 120.3,90.6 121.1,93.5 122.0,96.3 122.8,98.9 123.7,101.5 124.5,104.0 125.4,106.3 126.2,108.5 127.1,110.7 127.9,112.7 128.8,114.6 129.6,116.5 130.5,118.2 131.3,119.9 132.2,121.5 133.0,123.0 133.9,124.4 134.7,125.7 135.6,127.0 136.4,128.3 137.3,129.5 138.1,130.6 139.0,131.7 139.8,132.7 140.7,133.7 141.5,134.6 142.4,135.6 143.2,136.5 144.1,137.3 144.9,138.2 145.8,139.0 146.6,139.8 147.5,140.5 148.3,141.3 149.2,142.0 150.0,142.7 150.9,143.5 151.7,144.2 152.6,144.8 153.4,145.5 154.3,146.2 155.1,146.8 156.0,147.5 156.9,148.1 157.7,148.7 158.6,149.3 159.4,149.9 160.3,150.5 161.1,151.1 162.0,151.7 162.8,152.3 163.7,152.8 164.5,153.4 165.4,153.9 166.2,154.4 167.1,154.9 167.9,155.4 168.8,155.9 169.6,156.4 170.5,156.9 171.3,157.3 172.2,157.8 173.0,158.2 173.9,158.7 174.7,159.1 175.6,159.5 176.4,159.9 177.3,160.2 178.1,160.6 179.0,161.0 179.8,161.3 180.7,161.7 181.5,162.0 182.4,162.3 183.2,162.6 184.1,162.9 184.9,163.2 185.8,163.5 186.6,163.7 187.5,164.0 188.3,164.2 189.2,164.5 190.0,164.7 190.9,164.9 191.7,165.1 192.6,165.3 193.4,165.5 194.3,165.7 195.1,165.9 196.0,166.1 196.8,166.2 197.7,166.4 198.5,166.5 199.4,166.7 200.2,166.8 201.1,167.0 201.9,167.1 202.8,167.2 203.6,167.3 204.5,167.4 205.3,167.5 206.2,167.6 207.0,167.7 207.9,167.8 208.7,167.9 209.6,168.0 210.4,168.1 211.3,168.2 212.1,168.2 213.0,168.3 213.8,168.4 214.7,168.4 215.5,168.5 216.4,168.5 217.2,168.6 218.1,168.6 218.9,168.7 219.8,168.7 220.6,168.8 221.5,168.8 222.3,168.9 223.2,168.9 224.0,168.9 224.9,169.0 225.7,169.0 226.6,169.0 227.4,169.0 228.3,169.1 229.1,169.1 230.0,169.1 230.8,169.1 231.7,169.2 232.5,169.2 233.4,169.2 234.2,169.2 235.1,169.2 235.9,169.2 236.8,169.2 237.6,169.3 238.5,169.3 239.3,169.3 240.2,169.3 241.0,169.3 241.9,169.3 242.7,169.3 243.6,169.3 244.4,169.3 245.3,169.3 246.1,169.3 247.0,169.3 247.8,169.3 248.7,169.4 249.5,169.4 250.4,169.4 251.2,169.4 252.1,169.4 252.9,169.4 253.8,169.4 254.6,169.4 255.5,169.4 256.3,169.4 257.2,169.4 258.0,169.4 258.9,169.4 259.7,169.4 260.6,169.4 261.4,169.4 262.3,169.4" stroke="#3aa888"/>
</g>
<g stroke="#1e1e1e" stroke-width="1.05" fill="none">
<path d="M49.45 11.37 V170.15 H262.29"/>
<path d="M49.45 170.15 H45.95"/>
<path d="M49.45 154.27 H47.45"/>
<path d="M49.45 138.39 H45.95"/>
<path d="M49.45 122.52 H47.45"/>
<path d="M49.45 106.64 H45.95"/>
<path d="M49.45 90.76 H47.45"/>
<path d="M49.45 74.88 H45.95"/>
<path d="M49.45 59.00 H47.45"/>
<path d="M49.45 43.13 H45.95"/>
<path d="M49.45 27.25 H47.45"/>
<path d="M49.45 11.37 H45.95"/>
<path d="M49.45 170.15 V173.65"/>
<path d="M76.06 170.15 V172.15"/>
<path d="M102.66 170.15 V173.65"/>
<path d="M129.26 170.15 V172.15"/>
<path d="M155.87 170.15 V173.65"/>
<path d="M182.48 170.15 V172.15"/>
<path d="M209.08 170.15 V173.65"/>
<path d="M235.69 170.15 V172.15"/>
<path d="M262.29 170.15 V173.65"/>
</g>
<g class="bt" font-family='"Liberation Sans", sans-serif' font-weight="bold" font-size="10.8" fill="#000">
<text x="44.3" y="173.85" text-anchor="end">0</text>
<text x="44.3" y="142.09" text-anchor="end">100</text>
<text x="44.3" y="110.34" text-anchor="end">200</text>
<text x="44.3" y="78.58" text-anchor="end">300</text>
<text x="44.3" y="46.83" text-anchor="end">400</text>
<text x="44.3" y="15.07" text-anchor="end">500</text>
<text x="49.45" y="183.8" text-anchor="middle">550</text>
<text x="102.66" y="183.8" text-anchor="middle">600</text>
<text x="155.87" y="183.8" text-anchor="middle">650</text>
<text x="209.08" y="183.8" text-anchor="middle">700</text>
<text x="262.29" y="183.8" text-anchor="middle">750</text>
</g>
<text class="bt" x="155.3" y="203.6" text-anchor="middle" font-family='"Liberation Sans", sans-serif' font-weight="bold" font-size="11.6"><tspan font-family='&quot;Liberation Serif&quot;, serif' font-size="11" font-weight="normal" dx="0.6">λ</tspan><tspan> /nm</tspan></text>
<text class="bt" transform="translate(14.1 90.1) rotate(-90)" text-anchor="middle" font-family='"Liberation Sans", sans-serif' font-weight="bold" font-size="11.65">Fluorescence intensity /a. u.</text>
<path d="M128.6 157.6 V94" stroke="#111" stroke-width="1.1"/>
<path d="M126.3 95 L128.6 90.6 L130.9 95 Z" fill="#111"/>
<text x="133.1" y="110.2" font-family='"Liberation Sans", sans-serif' font-size="10" fill="#000" stroke="#000" stroke-width="0.15">Time</text>
<text x="107" y="228.7" text-anchor="middle" font-family='"Liberation Serif", serif' font-size="17.5" fill="#111">(<tspan font-weight="bold">a</tspan>)</text>
<g stroke="#1e1e1e" stroke-width="1.05" fill="none">
<path d="M336.4 8.9 V167.3 H546.2"/>
<path d="M336.4 167.30 H333.2"/>
<path d="M336.4 151.93 H334.6"/>
<path d="M336.4 136.56 H333.2"/>
<path d="M336.4 121.19 H334.6"/>
<path d="M336.4 105.82 H333.2"/>
<path d="M336.4 90.45 H334.6"/>
<path d="M336.4 75.08 H333.2"/>
<path d="M336.4 59.71 H334.6"/>
<path d="M336.4 44.34 H333.2"/>
<path d="M336.4 28.97 H334.6"/>
<path d="M336.4 13.60 H333.2"/>
<path d="M338.60 167.3 V170.1"/>
<path d="M361.93 167.3 V168.9"/>
<path d="M385.25 167.3 V170.1"/>
<path d="M408.58 167.3 V168.9"/>
<path d="M431.90 167.3 V170.1"/>
<path d="M455.23 167.3 V168.9"/>
<path d="M478.55 167.3 V170.1"/>
<path d="M501.88 167.3 V168.9"/>
<path d="M525.20 167.3 V170.1"/>
</g>
<rect x="347.81" y="105.82" width="18.90" height="61.48" fill="url(#gb)" stroke="#1c1c40" stroke-width="0.4"/>
<rect x="375.80" y="107.36" width="18.90" height="59.94" fill="url(#gb)" stroke="#1c1c40" stroke-width="0.4"/>
<rect x="422.45" y="96.60" width="18.90" height="70.70" fill="url(#gb)" stroke="#1c1c40" stroke-width="0.4"/>
<rect x="469.10" y="48.95" width="18.90" height="118.35" fill="url(#gb)" stroke="#1c1c40" stroke-width="0.4"/>
<rect x="515.75" y="21.29" width="18.90" height="146.01" fill="url(#gb)" stroke="#1c1c40" stroke-width="0.4"/>
<g class="bt" font-family='"Liberation Sans", sans-serif' font-weight="bold" font-size="10.8" fill="#000">
<text x="331" y="171.00" text-anchor="end">0</text>
<text x="331" y="140.26" text-anchor="end">2000</text>
<text x="331" y="109.52" text-anchor="end">4000</text>
<text x="331" y="78.78" text-anchor="end">6000</text>
<text x="331" y="48.04" text-anchor="end">8000</text>
<text x="331" y="17.30" text-anchor="end">10000</text>
<text x="338.60" y="182.2" text-anchor="middle">0.00</text>
<text x="385.25" y="182.2" text-anchor="middle">0.25</text>
<text x="431.90" y="182.2" text-anchor="middle">0.50</text>
<text x="478.55" y="182.2" text-anchor="middle">0.75</text>
<text x="525.20" y="182.2" text-anchor="middle">1.00</text>
</g>
<text class="bt" x="441.3" y="201.2" text-anchor="middle" font-family='"Liberation Sans", sans-serif' font-weight="bold" font-size="11.6">Ratio GSH<tspan dx="1.4">:</tspan><tspan dx="1.4">probe</tspan></text>
<text class="bt" transform="translate(299.9 95.9) rotate(-90)" text-anchor="middle" font-family='"Liberation Sans", sans-serif' font-weight="bold" font-size="12">AUC /a.u.</text>
<text x="411.9" y="228.8" text-anchor="middle" font-family='"Liberation Serif", serif' font-size="17.5" fill="#111">(<tspan font-weight="bold">b</tspan>)</text>
<g stroke="#1e1e1e" stroke-width="1.05" fill="none">
<path d="M160.0 235.9 V435.0 H427.5"/>
<path d="M160.0 435.00 H156.0"/>
<path d="M160.0 416.60 H158.0"/>
<path d="M160.0 398.20 H156.0"/>
<path d="M160.0 379.80 H158.0"/>
<path d="M160.0 361.40 H156.0"/>
<path d="M160.0 343.00 H158.0"/>
<path d="M160.0 324.60 H156.0"/>
<path d="M160.0 306.20 H158.0"/>
<path d="M160.0 287.80 H156.0"/>
<path d="M160.0 269.40 H158.0"/>
<path d="M160.0 251.00 H156.0"/>
<path d="M160.00 435.0 V437.0"/>
<path d="M176.72 435.0 V439.0"/>
<path d="M193.45 435.0 V437.0"/>
<path d="M210.18 435.0 V439.0"/>
<path d="M226.90 435.0 V437.0"/>
<path d="M243.62 435.0 V439.0"/>
<path d="M260.35 435.0 V437.0"/>
<path d="M277.08 435.0 V439.0"/>
<path d="M293.80 435.0 V437.0"/>
<path d="M310.52 435.0 V439.0"/>
<path d="M327.25 435.0 V437.0"/>
<path d="M343.98 435.0 V439.0"/>
<path d="M360.70 435.0 V437.0"/>
<path d="M377.43 435.0 V439.0"/>
<path d="M394.15 435.0 V437.0"/>
<path d="M410.88 435.0 V439.0"/>
<path d="M427.60 435.0 V437.0"/>
</g>
<rect x="168.20" y="251.00" width="17.00" height="184.00" fill="#3a3a3a" stroke="rgba(0,0,0,0.5)" stroke-width="0.6"/>
<rect x="168.20" y="251.00" width="17.00" height="184.00" fill="url(#hatch)"/>
<rect x="201.65" y="397.28" width="17.00" height="37.72" fill="url(#gr)" stroke="rgba(0,0,0,0.5)" stroke-width="0.6"/>
<rect x="201.65" y="397.28" width="17.00" height="37.72" fill="url(#hatch)"/>
<rect x="268.55" y="379.98" width="17.00" height="55.02" fill="url(#gbl)" stroke="rgba(0,0,0,0.5)" stroke-width="0.6"/>
<rect x="268.55" y="379.98" width="17.00" height="55.02" fill="url(#hatch)"/>
<rect x="302.00" y="386.79" width="17.00" height="48.21" fill="url(#gc)" stroke="rgba(0,0,0,0.5)" stroke-width="0.6"/>
<rect x="302.00" y="386.79" width="17.00" height="48.21" fill="url(#hatch)"/>
<rect x="335.45" y="405.56" width="17.00" height="29.44" fill="url(#gm)" stroke="rgba(0,0,0,0.5)" stroke-width="0.6"/>
<rect x="335.45" y="405.56" width="17.00" height="29.44" fill="url(#hatch)"/>
<rect x="368.90" y="379.80" width="17.00" height="55.20" fill="url(#gy)" stroke="rgba(0,0,0,0.5)" stroke-width="0.6"/>
<rect x="368.90" y="379.80" width="17.00" height="55.20" fill="url(#hatch)"/>
<rect x="402.35" y="423.22" width="17.00" height="11.78" fill="url(#go)" stroke="rgba(0,0,0,0.5)" stroke-width="0.6"/>
<rect x="402.35" y="423.22" width="17.00" height="11.78" fill="url(#hatch)"/>
<g class="bt" font-family='"Liberation Sans", sans-serif' font-weight="bold" font-size="12.8" fill="#000">
<text transform="translate(153.3 439.40) scale(1.06 1)" text-anchor="end">0</text>
<text transform="translate(153.3 402.60) scale(1.06 1)" text-anchor="end">20</text>
<text transform="translate(153.3 365.80) scale(1.06 1)" text-anchor="end">40</text>
<text transform="translate(153.3 329.00) scale(1.06 1)" text-anchor="end">60</text>
<text transform="translate(153.3 292.20) scale(1.06 1)" text-anchor="end">80</text>
<text transform="translate(153.3 255.40) scale(1.06 1)" text-anchor="end">100</text>
<text transform="translate(180.50 454.60) scale(1.06 1) rotate(-59)" text-anchor="end" font-size="12.8">GSH</text>
<text transform="translate(213.95 454.60) scale(1.06 1) rotate(-59)" text-anchor="end" font-size="12.8">pH 7.0</text>
<text transform="translate(247.40 454.60) scale(1.06 1) rotate(-59)" text-anchor="end" font-size="12.8">pH 4.5</text>
<text transform="translate(280.85 454.60) scale(1.06 1) rotate(-59)" text-anchor="end" font-size="12.8">Light</text>
<text transform="translate(314.30 454.60) scale(1.06 1) rotate(-59)" text-anchor="end" font-size="12.8">Ala</text>
<text transform="translate(347.75 454.60) scale(1.06 1) rotate(-59)" text-anchor="end" font-size="12.8">Ser</text>
<text transform="translate(381.20 454.60) scale(1.06 1) rotate(-59)" text-anchor="end" font-size="12.8">H<tspan font-size="10" font-weight="normal" dx="0.5" dy="4.2">2</tspan><tspan dx="0.3" dy="-4.2">O</tspan><tspan font-size="10" font-weight="normal" dx="0.5" dy="4.2">2</tspan></text>
<text transform="translate(414.65 454.60) scale(1.06 1) rotate(-59)" text-anchor="end" font-size="12.8">NMM</text>
</g>
<text class="bt" transform="translate(123.2 344.8) rotate(-90)" text-anchor="middle" font-family='"Liberation Sans", sans-serif' font-weight="bold" font-size="14.85">% Fluorescence increase</text>
<text x="263.2" y="511.1" text-anchor="middle" font-family='"Liberation Serif", serif' font-size="17.5" fill="#111">(<tspan font-weight="bold">c</tspan>)</text>
</svg>
</body></html>
